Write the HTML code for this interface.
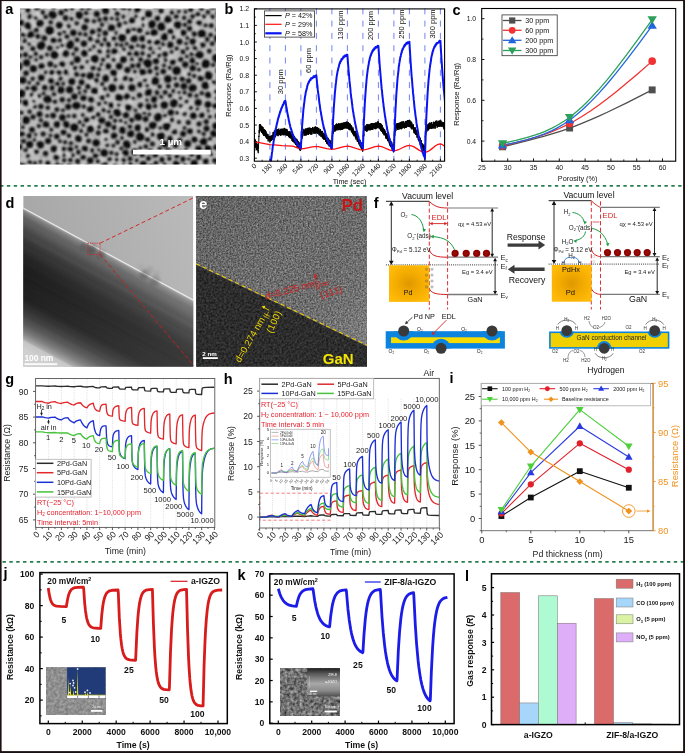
<!DOCTYPE html>
<html><head><meta charset="utf-8"><style>
html,body{margin:0;padding:0;background:#fff;width:685px;height:753px;overflow:hidden}
svg{display:block;will-change:transform}
text{font-family:"Liberation Sans", sans-serif}
</style></head><body>
<svg width="685" height="753" viewBox="0 0 685 753" font-family='"Liberation Sans", sans-serif'><defs><clipPath id="clipA"><rect x="20" y="8.5" width="196" height="156.1"/></clipPath><filter id="blurA" x="-5%" y="-5%" width="110%" height="110%"><feGaussianBlur stdDeviation="0.95"/></filter><clipPath id="clipB"><rect x="254.4" y="8.9" width="190.20000000000002" height="152.29999999999998"/></clipPath><clipPath id="clipD"><rect x="23.2" y="196.0" width="170.10000000000002" height="170.7"/></clipPath><linearGradient id="gradD" gradientUnits="userSpaceOnUse" x1="108.3" y1="253.8" x2="36.98" y2="385.75"><stop offset="0" stop-color="#e2e2e2"/><stop offset="0.01" stop-color="#9a9a9a"/><stop offset="0.02" stop-color="#828282"/><stop offset="0.05" stop-color="#666666"/><stop offset="0.11" stop-color="#4c4c4c"/><stop offset="0.19" stop-color="#353535"/><stop offset="0.27" stop-color="#262626"/><stop offset="0.33" stop-color="#1e1e1e"/><stop offset="0.43" stop-color="#1b1b1b"/><stop offset="0.52" stop-color="#202020"/><stop offset="0.57" stop-color="#2c2c2c"/><stop offset="0.62" stop-color="#3e3e3e"/><stop offset="0.67" stop-color="#555555"/><stop offset="0.71" stop-color="#707070"/><stop offset="0.74" stop-color="#8c8c8c"/><stop offset="0.77" stop-color="#aaaaaa"/><stop offset="0.78" stop-color="#c4c4c4"/><stop offset="0.83" stop-color="#d0d0d0"/><stop offset="1" stop-color="#d6d6d6"/></linearGradient><linearGradient id="gradD0" gradientUnits="userSpaceOnUse" x1="23" y1="250" x2="193" y2="196"><stop offset="0" stop-color="#a6a6a6"/><stop offset="1" stop-color="#bababa"/></linearGradient><filter id="blurD" x="-10%" y="-10%" width="120%" height="120%"><feGaussianBlur stdDeviation="0.8"/></filter><filter id="blurD2" x="-50%" y="-50%" width="200%" height="200%"><feGaussianBlur stdDeviation="1.6"/></filter><linearGradient id="gradD2" gradientUnits="userSpaceOnUse" x1="23" y1="0" x2="193" y2="0"><stop offset="0" stop-color="#fff" stop-opacity="0"/><stop offset="1" stop-color="#fff" stop-opacity="0.13"/></linearGradient><clipPath id="clipE"><rect x="196.1" y="196.1" width="170.9" height="170.6"/></clipPath><filter id="noiseE1" x="0" y="0" width="100%" height="100%" color-interpolation-filters="sRGB"><feTurbulence type="fractalNoise" baseFrequency="0.6" numOctaves="2" seed="4" result="n"/><feColorMatrix in="n" type="matrix" values="0.55 0 0 0 0.155  0.55 0 0 0 0.155  0.55 0 0 0 0.155  0 0 0 0 1"/></filter><filter id="noiseE2" x="0" y="0" width="100%" height="100%" color-interpolation-filters="sRGB"><feTurbulence type="fractalNoise" baseFrequency="0.45" numOctaves="2" seed="9" result="n"/><feColorMatrix in="n" type="matrix" values="0.26 0 0 0 0.045  0.26 0 0 0 0.045  0.26 0 0 0 0.045  0 0 0 0 1"/></filter><clipPath id="clipE2"><path d="M196.1 264.7 L367 346.32 L367 366.7 L196.1 366.7 Z"/></clipPath><linearGradient id="gradE" gradientUnits="userSpaceOnUse" x1="200" y1="200" x2="367" y2="330"><stop offset="0" stop-color="#000" stop-opacity="0.10"/><stop offset="0.5" stop-color="#000" stop-opacity="0"/><stop offset="1" stop-color="#fff" stop-opacity="0.10"/></linearGradient><radialGradient id="pdgL" cx="0.5" cy="0.5" r="0.6"><stop offset="0" stop-color="#df9800"/><stop offset="0.55" stop-color="#f5ad00"/><stop offset="1" stop-color="#ffbb0a"/></radialGradient><radialGradient id="pdgR" cx="0.5" cy="0.5" r="0.6"><stop offset="0" stop-color="#df9800"/><stop offset="0.55" stop-color="#f5ad00"/><stop offset="1" stop-color="#ffbb0a"/></radialGradient><clipPath id="clipFL"><rect x="391" y="337.3" width="108.9" height="5.8"/></clipPath><clipPath id="clipFL2"><rect x="385.7" y="331.2" width="119.2" height="17.4"/></clipPath><clipPath id="clipFR2"><rect x="549.1" y="331.5" width="120.3" height="17.2"/></clipPath><clipPath id="clipG"><rect x="35.6" y="378.5" width="179.20000000000002" height="148.89999999999998"/></clipPath><clipPath id="clipH"><rect x="259.7" y="378.4" width="179.60000000000002" height="149.60000000000002"/></clipPath><clipPath id="clipHI"><rect x="270.5" y="429.2" width="59.69999999999999" height="48.0"/></clipPath><filter id="noiseJ" x="0" y="0" width="100%" height="100%" color-interpolation-filters="sRGB"><feTurbulence type="fractalNoise" baseFrequency="0.35" numOctaves="2" seed="2"/><feColorMatrix type="matrix" values="0.3 0 0 0 0.41  0.3 0 0 0 0.41  0.3 0 0 0 0.41  0 0 0 0 1"/></filter><filter id="noiseK" x="0" y="0" width="100%" height="100%" color-interpolation-filters="sRGB"><feTurbulence type="fractalNoise" baseFrequency="0.32" numOctaves="2" seed="6"/><feColorMatrix type="matrix" values="0.75 0 0 0 0.07  0.75 0 0 0 0.07  0.75 0 0 0 0.07  0 0 0 0 1"/></filter><linearGradient id="gradK" x1="0" y1="0" x2="0" y2="1"><stop offset="0" stop-color="#1e1e1e"/><stop offset="0.2" stop-color="#5a5a5a"/><stop offset="0.55" stop-color="#a8a8a8"/><stop offset="0.8" stop-color="#8a8a8a"/><stop offset="1" stop-color="#505050"/></linearGradient></defs><rect width="685" height="753" fill="#fff"/><g clip-path="url(#clipA)">
<rect x="20" y="8.5" width="196" height="156.1" fill="#bcbcbc" stroke="none" stroke-width="1" />
<g filter="url(#blurA)">
<g fill="#d2d2d2" opacity="0.8">
<circle cx="108.38" cy="96.24" r="3.07"/>
<circle cx="111.06" cy="87.82" r="2.5"/>
<circle cx="54.3" cy="88.48" r="2.57"/>
<circle cx="177.18" cy="20.76" r="2.02"/>
<circle cx="35.32" cy="136.74" r="2.68"/>
<circle cx="25.46" cy="164.71" r="3.14"/>
<circle cx="149.09" cy="105.28" r="1.77"/>
<circle cx="20.03" cy="91.15" r="1.6"/>
<circle cx="55.42" cy="44.72" r="1.55"/>
<circle cx="110.71" cy="76.91" r="2.93"/>
<circle cx="121.86" cy="109.29" r="2.35"/>
<circle cx="150.81" cy="79.63" r="1.97"/>
<circle cx="218.53" cy="166.9" r="2.93"/>
<circle cx="159.98" cy="56.61" r="1.89"/>
<circle cx="75.39" cy="16.88" r="2.8"/>
<circle cx="97.88" cy="142.73" r="2.16"/>
<circle cx="210.52" cy="142.85" r="1.5"/>
<circle cx="59.36" cy="153.06" r="2.3"/>
<circle cx="215.03" cy="69.92" r="1.62"/>
<circle cx="144.15" cy="131.7" r="1.96"/>
<circle cx="34.6" cy="59.41" r="3.14"/>
<circle cx="170.12" cy="24.63" r="1.92"/>
<circle cx="37.41" cy="15.21" r="2.85"/>
<circle cx="52.89" cy="96.16" r="2.26"/>
<circle cx="55.52" cy="124.14" r="1.72"/>
<circle cx="147.03" cy="24.39" r="2.22"/>
<circle cx="60" cy="49.23" r="3.15"/>
<circle cx="179.29" cy="54.8" r="3"/>
<circle cx="59.56" cy="69.41" r="2.95"/>
<circle cx="146.65" cy="21.76" r="3.18"/>
<circle cx="60.08" cy="47.37" r="2.81"/>
<circle cx="83.45" cy="53.53" r="1.62"/>
<circle cx="35.2" cy="99.96" r="1.91"/>
<circle cx="138.46" cy="65.75" r="2.27"/>
<circle cx="210.75" cy="83.91" r="2.48"/>
<circle cx="192.04" cy="35.14" r="1.76"/>
<circle cx="200.5" cy="138.07" r="1.92"/>
<circle cx="55.34" cy="125.36" r="3.1"/>
<circle cx="56.71" cy="159.52" r="3"/>
<circle cx="138.91" cy="73.82" r="1.68"/>
<circle cx="24.82" cy="161.55" r="1.91"/>
<circle cx="159.33" cy="47.16" r="2.9"/>
<circle cx="137.49" cy="53.07" r="1.8"/>
<circle cx="162.51" cy="16.65" r="1.89"/>
<circle cx="129.99" cy="143.67" r="2.54"/>
<circle cx="73.6" cy="154.2" r="1.85"/>
<circle cx="20.35" cy="49.14" r="2.26"/>
<circle cx="29.21" cy="34.07" r="2.13"/>
<circle cx="132.58" cy="26.83" r="2.12"/>
<circle cx="196.97" cy="164.44" r="2.62"/>
<circle cx="156.63" cy="100.24" r="1.74"/>
<circle cx="24.09" cy="8.4" r="3.05"/>
<circle cx="158.6" cy="161.57" r="1.54"/>
<circle cx="145.51" cy="83.67" r="2.74"/>
<circle cx="81.42" cy="167.5" r="1.63"/>
<circle cx="127.31" cy="124.97" r="3.03"/>
<circle cx="165.89" cy="119.57" r="2.85"/>
<circle cx="201.83" cy="62.53" r="2.66"/>
<circle cx="198.97" cy="146.71" r="2.21"/>
<circle cx="176.69" cy="145.47" r="2.47"/>
<circle cx="143.24" cy="67.48" r="2.49"/>
<circle cx="139.99" cy="18.5" r="2.59"/>
<circle cx="217.65" cy="148.11" r="2.74"/>
<circle cx="95.46" cy="124.65" r="2.49"/>
<circle cx="105.99" cy="141.4" r="1.64"/>
<circle cx="168.54" cy="10.33" r="2.52"/>
<circle cx="114.15" cy="42.82" r="2.69"/>
<circle cx="117.44" cy="105.11" r="3.06"/>
<circle cx="68.68" cy="7.33" r="2.01"/>
<circle cx="153.98" cy="38.34" r="1.79"/>
<circle cx="199.96" cy="112.48" r="2.25"/>
<circle cx="197.13" cy="58.5" r="2.63"/>
<circle cx="57.1" cy="75.35" r="2.87"/>
<circle cx="201.67" cy="148.19" r="2.15"/>
<circle cx="134.79" cy="56.8" r="1.73"/>
<circle cx="117.29" cy="141.19" r="2.94"/>
<circle cx="160.67" cy="159.5" r="1.97"/>
<circle cx="51.16" cy="78.55" r="1.97"/>
<circle cx="60.24" cy="72.61" r="2.56"/>
<circle cx="116.76" cy="56.62" r="2.93"/>
<circle cx="215.37" cy="78.85" r="1.63"/>
<circle cx="23.36" cy="146.99" r="1.57"/>
<circle cx="160.14" cy="97.99" r="2.03"/>
<circle cx="176.89" cy="8.6" r="1.73"/>
<circle cx="108.88" cy="9.51" r="2.91"/>
<circle cx="64.96" cy="28.34" r="1.58"/>
<circle cx="144.09" cy="77.87" r="2.57"/>
<circle cx="149.32" cy="136.38" r="3.13"/>
<circle cx="155.27" cy="37.81" r="2.31"/>
<circle cx="53.09" cy="7.25" r="2.3"/>
<circle cx="161.26" cy="34.53" r="1.96"/>
<circle cx="86.84" cy="118.53" r="2.38"/>
<circle cx="141.12" cy="128.08" r="2.17"/>
<circle cx="176.97" cy="152.4" r="1.65"/>
<circle cx="205.39" cy="122.6" r="1.72"/>
<circle cx="108.61" cy="106.9" r="3.05"/>
<circle cx="93.11" cy="97.7" r="2.99"/>
<circle cx="177.95" cy="158.56" r="2.29"/>
<circle cx="148.57" cy="38.71" r="2.73"/>
<circle cx="182.31" cy="109.51" r="2.72"/>
<circle cx="60.09" cy="151.39" r="3.17"/>
<circle cx="214.43" cy="92.54" r="2.84"/>
<circle cx="81.72" cy="153.01" r="2.95"/>
<circle cx="87.4" cy="18.92" r="2.25"/>
<circle cx="128.16" cy="130.03" r="2.33"/>
<circle cx="22.74" cy="136.66" r="1.61"/>
<circle cx="178.57" cy="33.53" r="2.07"/>
<circle cx="176.16" cy="28.28" r="1.75"/>
<circle cx="121.34" cy="122.79" r="2.93"/>
<circle cx="156.25" cy="158.81" r="2.34"/>
<circle cx="208.73" cy="19.44" r="1.88"/>
<circle cx="123.39" cy="52.54" r="2.74"/>
<circle cx="146.05" cy="90.24" r="2.93"/>
<circle cx="130.11" cy="56.03" r="2.15"/>
<circle cx="187.74" cy="151.48" r="1.85"/>
<circle cx="188.86" cy="162.48" r="2.39"/>
<circle cx="132.74" cy="38.08" r="2.41"/>
<circle cx="118.64" cy="103.61" r="1.55"/>
<circle cx="212.82" cy="89.15" r="2.18"/>
<circle cx="178.82" cy="96.74" r="2.33"/>
<circle cx="156.58" cy="16.18" r="2.42"/>
<circle cx="100.58" cy="160.61" r="3.07"/>
<circle cx="71.38" cy="82.2" r="1.72"/>
<circle cx="104.6" cy="137.73" r="3.03"/>
<circle cx="113.26" cy="56.92" r="1.83"/>
<circle cx="141.81" cy="155.49" r="1.72"/>
<circle cx="174.42" cy="9.19" r="1.83"/>
<circle cx="62.91" cy="116.87" r="2.05"/>
<circle cx="88.78" cy="105.96" r="1.68"/>
<circle cx="164.64" cy="25.4" r="2.37"/>
<circle cx="67.61" cy="37.55" r="2.4"/>
<circle cx="105.23" cy="66.41" r="2.2"/>
<circle cx="123.93" cy="31.39" r="1.85"/>
<circle cx="144.53" cy="109" r="2.4"/>
<circle cx="188.95" cy="104.66" r="2.96"/>
<circle cx="64" cy="125.58" r="2.88"/>
<circle cx="199.34" cy="56.7" r="2.04"/>
<circle cx="203.4" cy="40.86" r="3.2"/>
<circle cx="196.28" cy="27.21" r="1.91"/>
<circle cx="163.77" cy="47.56" r="1.66"/>
<circle cx="185.1" cy="73.85" r="2.84"/>
<circle cx="42.45" cy="70.79" r="2.66"/>
<circle cx="20.59" cy="38.07" r="2.66"/>
<circle cx="201.1" cy="162.47" r="1.7"/>
<circle cx="119.15" cy="128.4" r="2.35"/>
<circle cx="155.51" cy="36.14" r="1.62"/>
<circle cx="38.45" cy="11.57" r="2.44"/>
<circle cx="120.99" cy="97.69" r="1.75"/>
<circle cx="54.28" cy="38.55" r="2.93"/>
<circle cx="217.04" cy="155.75" r="1.66"/>
<circle cx="29.51" cy="159.74" r="2.29"/>
<circle cx="171.47" cy="58.48" r="2.29"/>
<circle cx="121.09" cy="75.22" r="2.52"/>
<circle cx="19.68" cy="119.14" r="2.94"/>
<circle cx="53.62" cy="79.09" r="2.76"/>
<circle cx="98.87" cy="37.13" r="1.78"/>
<circle cx="120.54" cy="8" r="3.02"/>
<circle cx="178.94" cy="119.73" r="2.96"/>
<circle cx="144.14" cy="71.07" r="2.52"/>
<circle cx="118.87" cy="164.79" r="2.87"/>
<circle cx="69.17" cy="153.22" r="2.77"/>
<circle cx="174.15" cy="137.55" r="2.19"/>
<circle cx="198.1" cy="148.12" r="2.68"/>
<circle cx="171.99" cy="129.54" r="2.19"/>
<circle cx="162.97" cy="16.94" r="2.08"/>
<circle cx="111.71" cy="7.22" r="2.1"/>
<circle cx="146.02" cy="106.65" r="1.89"/>
<circle cx="207.82" cy="113.47" r="2.07"/>
<circle cx="150.27" cy="97.83" r="2.41"/>
<circle cx="95.7" cy="167.58" r="2.59"/>
<circle cx="158.65" cy="128.98" r="3.17"/>
<circle cx="21.61" cy="105.26" r="2.76"/>
<circle cx="68.84" cy="70.59" r="1.59"/>
<circle cx="56.48" cy="66.4" r="1.67"/>
<circle cx="67.68" cy="152.3" r="2.44"/>
<circle cx="119.58" cy="162.27" r="2.47"/>
<circle cx="218.01" cy="108.92" r="2.88"/>
<circle cx="32.39" cy="102.36" r="2.79"/>
<circle cx="26.11" cy="156.28" r="1.77"/>
<circle cx="112.3" cy="32.91" r="2.34"/>
<circle cx="140.46" cy="14.99" r="3.11"/>
<circle cx="101.98" cy="90.89" r="2.52"/>
<circle cx="90.85" cy="51.82" r="2.61"/>
<circle cx="130.25" cy="51.46" r="2.72"/>
<circle cx="76.8" cy="7.77" r="1.92"/>
<circle cx="25.64" cy="30.88" r="2.78"/>
<circle cx="95.77" cy="150.99" r="2.77"/>
<circle cx="27.13" cy="165.78" r="3.11"/>
<circle cx="31.85" cy="152.29" r="2.23"/>
<circle cx="113.48" cy="163.25" r="1.91"/>
<circle cx="122.72" cy="157.43" r="2.73"/>
<circle cx="111.61" cy="164.17" r="2.89"/>
<circle cx="138.93" cy="24.16" r="2.56"/>
<circle cx="109.05" cy="38.51" r="1.59"/>
<circle cx="123.68" cy="25.65" r="2.25"/>
<circle cx="151.91" cy="79.35" r="1.95"/>
<circle cx="134.61" cy="73.51" r="2.82"/>
<circle cx="124.21" cy="167.22" r="3.12"/>
<circle cx="165.33" cy="44.15" r="1.69"/>
<circle cx="197.33" cy="132.64" r="2.56"/>
<circle cx="89.56" cy="49.51" r="2.66"/>
<circle cx="131.11" cy="101.41" r="2.58"/>
<circle cx="169.18" cy="36.27" r="1.92"/>
<circle cx="214.9" cy="153.94" r="2.99"/>
<circle cx="24.98" cy="15.35" r="1.96"/>
<circle cx="102.89" cy="106.54" r="1.67"/>
<circle cx="126.41" cy="17.25" r="1.65"/>
<circle cx="153.61" cy="94.76" r="2.57"/>
<circle cx="92.38" cy="83.07" r="1.86"/>
<circle cx="86.43" cy="126.24" r="2.93"/>
<circle cx="32.02" cy="24.92" r="2.88"/>
<circle cx="142.99" cy="130.11" r="1.86"/>
<circle cx="102.72" cy="47.33" r="2.88"/>
<circle cx="91.53" cy="111.46" r="3.18"/>
<circle cx="82.73" cy="94.43" r="2.77"/>
<circle cx="203.01" cy="74.82" r="2.13"/>
<circle cx="36.6" cy="147.37" r="1.63"/>
<circle cx="33.77" cy="96.96" r="2.32"/>
<circle cx="155.44" cy="53.95" r="2.82"/>
<circle cx="32.37" cy="40.07" r="2.63"/>
<circle cx="33.51" cy="54.75" r="2.73"/>
<circle cx="157.18" cy="51.36" r="1.74"/>
<circle cx="89.28" cy="123.18" r="2.12"/>
<circle cx="40.71" cy="120.47" r="2.47"/>
<circle cx="202.55" cy="157.86" r="3.05"/>
<circle cx="105.47" cy="135.67" r="2.02"/>
<circle cx="81.16" cy="70.27" r="3.09"/>
<circle cx="197.73" cy="45.75" r="2.11"/>
<circle cx="90.84" cy="64.39" r="2.17"/>
<circle cx="95.29" cy="37.1" r="2.46"/>
<circle cx="178.01" cy="93.13" r="2.92"/>
<circle cx="130.68" cy="34.13" r="2.79"/>
<circle cx="194.94" cy="51.12" r="1.54"/>
<circle cx="121.16" cy="93.71" r="2.46"/>
<circle cx="212.22" cy="111.06" r="2.87"/>
<circle cx="29.94" cy="94.14" r="2.84"/>
<circle cx="33.98" cy="18.74" r="2.75"/>
<circle cx="198.61" cy="19.23" r="2.58"/>
<circle cx="46.06" cy="126.39" r="2.6"/>
<circle cx="66.58" cy="41.23" r="2.8"/>
</g>
<g fill="#6c6c6c">
<ellipse cx="25.91" cy="15.79" rx="1.39" ry="0.45" transform="rotate(153.77 25.91 15.79)"/>
<ellipse cx="41.88" cy="35.4" rx="1.31" ry="0.45" transform="rotate(145.52 41.88 35.4)"/>
<ellipse cx="68.93" cy="75.49" rx="1.99" ry="0.45" transform="rotate(161.02 68.93 75.49)"/>
<ellipse cx="134.07" cy="108.4" rx="1.57" ry="0.45" transform="rotate(99.9 134.07 108.4)"/>
<circle cx="74.02" cy="24.97" r="0.58"/>
<ellipse cx="99.21" cy="155.79" rx="1.48" ry="0.45" transform="rotate(85.94 99.21 155.79)"/>
<ellipse cx="93.6" cy="50.64" rx="1.54" ry="0.45" transform="rotate(83.67 93.6 50.64)"/>
<ellipse cx="39.63" cy="71.08" rx="1.15" ry="0.45" transform="rotate(159.85 39.63 71.08)"/>
<circle cx="170.46" cy="107.88" r="0.57"/>
<circle cx="210.91" cy="53.93" r="0.63"/>
<circle cx="213.88" cy="110.52" r="0.69"/>
<ellipse cx="171.36" cy="155.07" rx="1.93" ry="0.45" transform="rotate(4.08 171.36 155.07)"/>
<circle cx="195.82" cy="144.58" r="0.82"/>
<circle cx="122.18" cy="83.15" r="0.81"/>
<circle cx="48.09" cy="69.96" r="0.49"/>
<ellipse cx="156.68" cy="150.49" rx="1.88" ry="0.45" transform="rotate(3.19 156.68 150.49)"/>
<ellipse cx="160.64" cy="65.5" rx="1.13" ry="0.45" transform="rotate(22.5 160.64 65.5)"/>
<ellipse cx="174.32" cy="94.06" rx="1.65" ry="0.45" transform="rotate(2.88 174.32 94.06)"/>
<ellipse cx="213.97" cy="141.34" rx="1.19" ry="0.45" transform="rotate(162.79 213.97 141.34)"/>
<ellipse cx="75.21" cy="20.45" rx="1.43" ry="0.45" transform="rotate(146.02 75.21 20.45)"/>
<circle cx="74.19" cy="142.25" r="0.52"/>
<circle cx="161.52" cy="109.78" r="0.75"/>
<circle cx="200.71" cy="135.29" r="0.6"/>
<circle cx="125.35" cy="163.55" r="0.57"/>
<circle cx="23.76" cy="13.89" r="0.75"/>
<circle cx="31.67" cy="41.03" r="0.73"/>
<ellipse cx="108.17" cy="23.83" rx="1.88" ry="0.45" transform="rotate(26.46 108.17 23.83)"/>
<circle cx="26.98" cy="139.18" r="0.79"/>
<circle cx="214.57" cy="29.97" r="0.76"/>
<circle cx="70.02" cy="35.27" r="0.5"/>
<circle cx="145.51" cy="102.12" r="0.7"/>
<ellipse cx="136" cy="90.23" rx="1.58" ry="0.45" transform="rotate(22.79 136 90.23)"/>
<circle cx="202.07" cy="26.56" r="0.77"/>
<ellipse cx="48.38" cy="91.27" rx="1.75" ry="0.45" transform="rotate(141.69 48.38 91.27)"/>
<circle cx="68.46" cy="67.28" r="0.59"/>
<circle cx="28.29" cy="50.71" r="0.57"/>
<ellipse cx="98.61" cy="97.33" rx="1.54" ry="0.45" transform="rotate(65.39 98.61 97.33)"/>
<ellipse cx="159.65" cy="33.26" rx="1.89" ry="0.45" transform="rotate(93 159.65 33.26)"/>
<circle cx="99.36" cy="137.81" r="0.62"/>
<circle cx="88.39" cy="56" r="0.73"/>
<circle cx="155.02" cy="48.66" r="0.78"/>
<circle cx="127.39" cy="130.46" r="0.51"/>
<ellipse cx="87.38" cy="47.07" rx="1.19" ry="0.45" transform="rotate(65.25 87.38 47.07)"/>
<circle cx="214.66" cy="97.96" r="0.63"/>
<circle cx="175.85" cy="118.86" r="0.45"/>
<ellipse cx="130.75" cy="26.57" rx="1.6" ry="0.45" transform="rotate(59.64 130.75 26.57)"/>
<circle cx="213.37" cy="49.91" r="0.69"/>
<circle cx="163.34" cy="119.54" r="0.72"/>
<circle cx="176.08" cy="29.47" r="0.53"/>
<ellipse cx="79.05" cy="30.23" rx="1.48" ry="0.45" transform="rotate(66.53 79.05 30.23)"/>
<circle cx="82.56" cy="11.07" r="0.7"/>
<circle cx="120.94" cy="15.22" r="0.81"/>
<ellipse cx="160.83" cy="78.96" rx="1.3" ry="0.45" transform="rotate(21.47 160.83 78.96)"/>
<ellipse cx="31.69" cy="30" rx="1.66" ry="0.45" transform="rotate(70.23 31.69 30)"/>
<ellipse cx="137.58" cy="98.99" rx="1.04" ry="0.45" transform="rotate(19.07 137.58 98.99)"/>
<ellipse cx="215.8" cy="16.36" rx="1.51" ry="0.45" transform="rotate(148.41 215.8 16.36)"/>
<circle cx="186.99" cy="135.6" r="0.46"/>
<circle cx="200.54" cy="48.44" r="0.62"/>
<circle cx="129.13" cy="12.9" r="0.83"/>
<ellipse cx="65.13" cy="80.88" rx="1.51" ry="0.45" transform="rotate(172.49 65.13 80.88)"/>
<circle cx="20.01" cy="12.1" r="0.57"/>
<ellipse cx="40.95" cy="93.65" rx="1.92" ry="0.45" transform="rotate(125.31 40.95 93.65)"/>
<circle cx="177.47" cy="55.42" r="0.46"/>
<ellipse cx="73.87" cy="36.95" rx="1.27" ry="0.45" transform="rotate(92.03 73.87 36.95)"/>
<ellipse cx="188.58" cy="16.75" rx="1.82" ry="0.45" transform="rotate(88.7 188.58 16.75)"/>
<circle cx="156.26" cy="54.24" r="0.46"/>
<ellipse cx="103.62" cy="114.75" rx="1.51" ry="0.45" transform="rotate(125.63 103.62 114.75)"/>
<ellipse cx="171.04" cy="8.17" rx="1.74" ry="0.45" transform="rotate(80.82 171.04 8.17)"/>
<circle cx="164.27" cy="111.58" r="0.81"/>
<circle cx="73.21" cy="162.44" r="0.45"/>
<ellipse cx="201.73" cy="121.4" rx="1.37" ry="0.45" transform="rotate(150.33 201.73 121.4)"/>
<circle cx="129.81" cy="113" r="0.5"/>
<circle cx="32.14" cy="60.86" r="0.74"/>
<circle cx="27.74" cy="67.36" r="0.8"/>
<circle cx="83.68" cy="18.26" r="0.83"/>
<ellipse cx="79.57" cy="70.99" rx="1.66" ry="0.45" transform="rotate(134.62 79.57 70.99)"/>
<circle cx="92.55" cy="71.48" r="0.68"/>
<ellipse cx="104.16" cy="69.78" rx="1.84" ry="0.45" transform="rotate(10.28 104.16 69.78)"/>
<circle cx="64.4" cy="94.76" r="0.79"/>
<ellipse cx="90.31" cy="13.43" rx="1.78" ry="0.45" transform="rotate(128.62 90.31 13.43)"/>
<ellipse cx="129.66" cy="62.72" rx="1.45" ry="0.45" transform="rotate(133.07 129.66 62.72)"/>
<circle cx="89.62" cy="28.09" r="0.67"/>
<circle cx="92.55" cy="135.03" r="0.81"/>
<circle cx="51.11" cy="112.12" r="0.68"/>
<ellipse cx="47.54" cy="133.67" rx="1.83" ry="0.45" transform="rotate(142.77 47.54 133.67)"/>
<circle cx="138.47" cy="25.63" r="0.71"/>
<ellipse cx="74.93" cy="144.09" rx="1.66" ry="0.45" transform="rotate(150.56 74.93 144.09)"/>
<ellipse cx="194.49" cy="98.07" rx="1.56" ry="0.45" transform="rotate(26.5 194.49 98.07)"/>
<ellipse cx="71.58" cy="13.43" rx="1.62" ry="0.45" transform="rotate(56.87 71.58 13.43)"/>
<circle cx="134.38" cy="61.34" r="0.66"/>
<ellipse cx="188.31" cy="137.37" rx="1.73" ry="0.45" transform="rotate(3.45 188.31 137.37)"/>
<circle cx="40.13" cy="156.58" r="0.56"/>
<circle cx="27.59" cy="47.15" r="0.76"/>
<circle cx="191.16" cy="135.46" r="0.68"/>
<circle cx="206.92" cy="42.83" r="0.78"/>
<circle cx="134.06" cy="92.99" r="0.68"/>
<circle cx="120.23" cy="53.38" r="0.66"/>
<ellipse cx="34.12" cy="41.03" rx="1.34" ry="0.45" transform="rotate(98.36 34.12 41.03)"/>
<ellipse cx="41.79" cy="157.13" rx="1.59" ry="0.45" transform="rotate(121.07 41.79 157.13)"/>
<circle cx="102.77" cy="106.88" r="0.56"/>
<ellipse cx="181.01" cy="73.59" rx="1.3" ry="0.45" transform="rotate(151.65 181.01 73.59)"/>
<circle cx="57.85" cy="104.02" r="0.64"/>
<ellipse cx="103.43" cy="125.58" rx="1.58" ry="0.45" transform="rotate(69.49 103.43 125.58)"/>
<circle cx="189.2" cy="139.35" r="0.5"/>
<ellipse cx="22.1" cy="59.17" rx="1.26" ry="0.45" transform="rotate(60.5 22.1 59.17)"/>
<ellipse cx="212.58" cy="111.81" rx="1.67" ry="0.45" transform="rotate(46.92 212.58 111.81)"/>
<circle cx="134.02" cy="12.72" r="0.69"/>
<circle cx="53.8" cy="25.59" r="0.56"/>
<circle cx="94.95" cy="111.77" r="0.51"/>
<circle cx="136.95" cy="99.4" r="0.67"/>
<circle cx="181.46" cy="19.92" r="0.67"/>
<circle cx="67.73" cy="145.27" r="0.74"/>
<circle cx="42.67" cy="116.47" r="0.54"/>
<circle cx="194.31" cy="132.96" r="0.59"/>
<circle cx="170.83" cy="132.28" r="0.68"/>
<circle cx="201.94" cy="109.11" r="0.53"/>
<ellipse cx="91.23" cy="104.1" rx="1.31" ry="0.45" transform="rotate(37.7 91.23 104.1)"/>
<circle cx="74.43" cy="77.52" r="0.79"/>
<ellipse cx="78.13" cy="53.75" rx="1.13" ry="0.45" transform="rotate(29.7 78.13 53.75)"/>
<ellipse cx="96.8" cy="84.57" rx="1.19" ry="0.45" transform="rotate(43.62 96.8 84.57)"/>
<ellipse cx="46.74" cy="156.88" rx="1.98" ry="0.45" transform="rotate(96.13 46.74 156.88)"/>
<ellipse cx="81.98" cy="37.16" rx="1.16" ry="0.45" transform="rotate(129.46 81.98 37.16)"/>
<ellipse cx="145.55" cy="123.96" rx="1.63" ry="0.45" transform="rotate(48.39 145.55 123.96)"/>
<ellipse cx="105.63" cy="22.43" rx="1.18" ry="0.45" transform="rotate(169.17 105.63 22.43)"/>
<ellipse cx="151.85" cy="156.83" rx="1.51" ry="0.45" transform="rotate(42.74 151.85 156.83)"/>
<circle cx="55.14" cy="90.94" r="0.82"/>
<ellipse cx="214.19" cy="100.87" rx="1.28" ry="0.45" transform="rotate(123.01 214.19 100.87)"/>
<circle cx="119.86" cy="165.61" r="0.76"/>
<circle cx="197.94" cy="82.27" r="0.59"/>
<ellipse cx="96.1" cy="147.48" rx="1.06" ry="0.45" transform="rotate(158.23 96.1 147.48)"/>
<ellipse cx="164.48" cy="83.09" rx="1.72" ry="0.45" transform="rotate(134.62 164.48 83.09)"/>
<circle cx="61.9" cy="104.2" r="0.56"/>
<ellipse cx="155.61" cy="49.69" rx="1.34" ry="0.45" transform="rotate(13.7 155.61 49.69)"/>
<ellipse cx="141.41" cy="109.27" rx="1.15" ry="0.45" transform="rotate(23.92 141.41 109.27)"/>
<ellipse cx="72.39" cy="39.83" rx="1.83" ry="0.45" transform="rotate(118 72.39 39.83)"/>
<circle cx="156.13" cy="144.65" r="0.64"/>
<circle cx="172.86" cy="148.67" r="0.55"/>
<circle cx="213.59" cy="29.55" r="0.46"/>
<circle cx="172.84" cy="115.96" r="0.7"/>
<circle cx="41.37" cy="62.02" r="0.5"/>
<ellipse cx="163.67" cy="58.01" rx="1.87" ry="0.45" transform="rotate(4.49 163.67 58.01)"/>
<circle cx="92.38" cy="134.94" r="0.57"/>
<ellipse cx="96.32" cy="101.97" rx="1.25" ry="0.45" transform="rotate(74.3 96.32 101.97)"/>
<ellipse cx="211.12" cy="9.85" rx="1.86" ry="0.45" transform="rotate(49.58 211.12 9.85)"/>
<circle cx="214.52" cy="97.67" r="0.55"/>
<ellipse cx="64.44" cy="104.75" rx="1.94" ry="0.45" transform="rotate(49.46 64.44 104.75)"/>
<circle cx="168.63" cy="100.23" r="0.51"/>
<circle cx="95.1" cy="137.35" r="0.76"/>
<circle cx="36.26" cy="77.99" r="0.64"/>
<ellipse cx="117.55" cy="30.63" rx="1.47" ry="0.45" transform="rotate(28.54 117.55 30.63)"/>
<ellipse cx="201.06" cy="48.64" rx="1.31" ry="0.45" transform="rotate(137.24 201.06 48.64)"/>
<circle cx="92.95" cy="17.19" r="0.45"/>
<ellipse cx="147.99" cy="30.38" rx="1.16" ry="0.45" transform="rotate(140.7 147.99 30.38)"/>
<circle cx="86.04" cy="116.25" r="0.57"/>
<ellipse cx="142.35" cy="50.32" rx="1.56" ry="0.45" transform="rotate(135.5 142.35 50.32)"/>
<circle cx="20.27" cy="154.17" r="0.55"/>
<circle cx="53.56" cy="48.82" r="0.7"/>
<ellipse cx="54.47" cy="45.51" rx="1.83" ry="0.45" transform="rotate(92.2 54.47 45.51)"/>
<circle cx="57.04" cy="79.9" r="0.71"/>
<circle cx="20.8" cy="44.54" r="0.83"/>
<circle cx="134.51" cy="113.68" r="0.84"/>
<circle cx="30.2" cy="153.42" r="0.74"/>
<ellipse cx="21.26" cy="155.72" rx="1.16" ry="0.45" transform="rotate(146.42 21.26 155.72)"/>
<circle cx="157.05" cy="22.02" r="0.68"/>
<ellipse cx="130.67" cy="111.39" rx="1.64" ry="0.45" transform="rotate(12.97 130.67 111.39)"/>
<circle cx="139.02" cy="158.31" r="0.53"/>
<circle cx="172.55" cy="66.82" r="0.56"/>
<ellipse cx="175.3" cy="9.57" rx="1.27" ry="0.45" transform="rotate(107.14 175.3 9.57)"/>
<circle cx="180.35" cy="54.97" r="0.62"/>
<ellipse cx="185.14" cy="69.13" rx="1.39" ry="0.45" transform="rotate(109.61 185.14 69.13)"/>
<ellipse cx="136.26" cy="76.86" rx="1.9" ry="0.45" transform="rotate(130.79 136.26 76.86)"/>
<circle cx="69.53" cy="23.34" r="0.62"/>
<ellipse cx="40.66" cy="73.32" rx="1.78" ry="0.45" transform="rotate(67.01 40.66 73.32)"/>
<circle cx="105.96" cy="23.18" r="0.55"/>
<circle cx="200.18" cy="89.6" r="0.69"/>
<circle cx="61.08" cy="58.11" r="0.72"/>
<circle cx="97.71" cy="88.04" r="0.55"/>
<circle cx="34.79" cy="83.97" r="0.7"/>
<circle cx="124.3" cy="46.21" r="0.82"/>
<ellipse cx="41.38" cy="36.18" rx="1.1" ry="0.45" transform="rotate(106.31 41.38 36.18)"/>
<ellipse cx="120.01" cy="52.58" rx="1.48" ry="0.45" transform="rotate(35.16 120.01 52.58)"/>
<ellipse cx="102.18" cy="106.6" rx="1.3" ry="0.45" transform="rotate(70.43 102.18 106.6)"/>
<ellipse cx="137.51" cy="58.55" rx="1.11" ry="0.45" transform="rotate(101.09 137.51 58.55)"/>
<ellipse cx="38.71" cy="89.1" rx="1.42" ry="0.45" transform="rotate(70.68 38.71 89.1)"/>
<ellipse cx="127.8" cy="15.99" rx="1.62" ry="0.45" transform="rotate(110.99 127.8 15.99)"/>
<circle cx="207.1" cy="113.99" r="0.68"/>
<ellipse cx="133.49" cy="108.83" rx="1.99" ry="0.45" transform="rotate(97.88 133.49 108.83)"/>
<circle cx="67.38" cy="63.46" r="0.68"/>
<ellipse cx="89.95" cy="65.31" rx="1.47" ry="0.45" transform="rotate(28.36 89.95 65.31)"/>
<ellipse cx="56.88" cy="43.38" rx="1.63" ry="0.45" transform="rotate(20.44 56.88 43.38)"/>
<ellipse cx="107.9" cy="48.14" rx="1.86" ry="0.45" transform="rotate(14.36 107.9 48.14)"/>
<circle cx="215.56" cy="50.28" r="0.76"/>
<ellipse cx="26.97" cy="50.56" rx="1.17" ry="0.45" transform="rotate(68.86 26.97 50.56)"/>
<circle cx="151.17" cy="44.36" r="0.8"/>
<ellipse cx="188.22" cy="155.11" rx="1.07" ry="0.45" transform="rotate(168.24 188.22 155.11)"/>
<ellipse cx="111.33" cy="54.71" rx="1.96" ry="0.45" transform="rotate(42.55 111.33 54.71)"/>
<ellipse cx="68.08" cy="21.76" rx="1.4" ry="0.45" transform="rotate(36.03 68.08 21.76)"/>
<circle cx="26.75" cy="14.86" r="0.47"/>
<circle cx="71.41" cy="120.79" r="0.5"/>
<ellipse cx="152.53" cy="159.13" rx="1.31" ry="0.45" transform="rotate(118.68 152.53 159.13)"/>
<ellipse cx="108.58" cy="22.62" rx="1.36" ry="0.45" transform="rotate(31 108.58 22.62)"/>
<ellipse cx="77.31" cy="118.11" rx="1.23" ry="0.45" transform="rotate(174.59 77.31 118.11)"/>
<ellipse cx="163.43" cy="98.9" rx="1.39" ry="0.45" transform="rotate(163.66 163.43 98.9)"/>
<circle cx="79.29" cy="128.54" r="0.64"/>
<circle cx="34.39" cy="113.25" r="0.47"/>
<ellipse cx="161.23" cy="91.54" rx="1.88" ry="0.45" transform="rotate(115.18 161.23 91.54)"/>
<circle cx="65.3" cy="43.04" r="0.55"/>
<ellipse cx="155.57" cy="11.2" rx="1.44" ry="0.45" transform="rotate(42.56 155.57 11.2)"/>
<circle cx="163.56" cy="95.5" r="0.65"/>
<ellipse cx="162.58" cy="111.53" rx="1.06" ry="0.45" transform="rotate(154.58 162.58 111.53)"/>
<ellipse cx="191.29" cy="46.82" rx="1.56" ry="0.45" transform="rotate(155.8 191.29 46.82)"/>
<circle cx="95.4" cy="107.76" r="0.59"/>
<circle cx="26.19" cy="162.53" r="0.77"/>
<ellipse cx="178.06" cy="54.15" rx="1.76" ry="0.45" transform="rotate(117.81 178.06 54.15)"/>
<circle cx="153.03" cy="18.63" r="0.5"/>
<circle cx="182.46" cy="163.16" r="0.84"/>
<ellipse cx="73.74" cy="164.47" rx="1.22" ry="0.45" transform="rotate(139.71 73.74 164.47)"/>
<ellipse cx="202.88" cy="164.64" rx="1.4" ry="0.45" transform="rotate(149.44 202.88 164.64)"/>
<circle cx="47.48" cy="11.44" r="0.58"/>
<circle cx="94.24" cy="39.15" r="0.77"/>
<circle cx="147.39" cy="19.17" r="0.74"/>
</g>
<g fill="#3a3a3a">
<circle cx="122.4" cy="129.99" r="3.93"/>
<circle cx="180.68" cy="59.14" r="2.8"/>
<circle cx="125.62" cy="122.81" r="2.16"/>
<circle cx="184.55" cy="113.91" r="2.35"/>
<circle cx="186.1" cy="150.33" r="2.21"/>
<circle cx="160.86" cy="136.15" r="4.21"/>
<circle cx="202.77" cy="44.82" r="3.05"/>
<circle cx="92.61" cy="32.01" r="3.04"/>
<circle cx="123.93" cy="49.47" r="2.19"/>
<circle cx="165.08" cy="54.3" r="2.94"/>
<circle cx="52.6" cy="14.73" r="4.16"/>
<circle cx="114.14" cy="135.85" r="3.5"/>
<circle cx="53.65" cy="40.17" r="3.15"/>
<circle cx="112.27" cy="87.96" r="4.24"/>
<circle cx="73.34" cy="32.81" r="3.46"/>
<circle cx="208.17" cy="94.82" r="3.39"/>
<circle cx="98.13" cy="161.33" r="2.49"/>
<circle cx="61.09" cy="12.66" r="2.95"/>
<circle cx="94.54" cy="91.08" r="3.54"/>
<circle cx="27.82" cy="156.17" r="2.39"/>
<circle cx="200.67" cy="78.35" r="3.21"/>
<circle cx="139.64" cy="30.31" r="2.94"/>
<circle cx="45.53" cy="153.52" r="2.87"/>
<circle cx="218.6" cy="48.23" r="2.03"/>
<circle cx="173.16" cy="4.72" r="2.96"/>
<circle cx="32.82" cy="48.79" r="2.69"/>
<circle cx="157.51" cy="18.1" r="3.16"/>
<circle cx="105.8" cy="10.61" r="4.01"/>
<circle cx="48.14" cy="141.03" r="3.31"/>
<circle cx="29.68" cy="16.7" r="2.6"/>
<circle cx="96.42" cy="80.27" r="2.58"/>
<circle cx="18.52" cy="66.39" r="4.27"/>
<circle cx="131.08" cy="79.67" r="2.38"/>
<circle cx="188.28" cy="122.53" r="2.7"/>
<circle cx="170" cy="95.67" r="2.38"/>
<circle cx="56.79" cy="124.53" r="3.6"/>
<circle cx="71.86" cy="81.6" r="3.67"/>
<circle cx="94.02" cy="21.22" r="2.32"/>
<circle cx="186.73" cy="101.77" r="2.3"/>
<circle cx="22.6" cy="166.53" r="3.95"/>
<circle cx="44.37" cy="38.21" r="2.96"/>
<circle cx="94.73" cy="58.88" r="4.06"/>
<circle cx="164.3" cy="105.11" r="3.94"/>
<circle cx="177.09" cy="112.84" r="2.08"/>
<circle cx="54.51" cy="54.84" r="4.2"/>
<circle cx="87.92" cy="86.62" r="2.84"/>
<circle cx="56.43" cy="157.69" r="3.13"/>
<circle cx="21.45" cy="112.71" r="2.32"/>
<circle cx="113.49" cy="73.01" r="3.61"/>
<circle cx="205.53" cy="63.77" r="4.59"/>
<circle cx="108.27" cy="124.26" r="3.3"/>
<circle cx="126.86" cy="96.52" r="3.23"/>
<circle cx="168.13" cy="151.69" r="3.75"/>
<circle cx="90.18" cy="128.94" r="3.87"/>
<circle cx="53.86" cy="94.4" r="2.48"/>
<circle cx="98.29" cy="132.94" r="2.7"/>
<circle cx="152.93" cy="125.55" r="4.06"/>
<circle cx="146.63" cy="129.76" r="2.65"/>
<circle cx="111.48" cy="27.96" r="3.81"/>
<circle cx="131.88" cy="59" r="2.31"/>
<circle cx="176.65" cy="70.66" r="4.45"/>
<circle cx="115.1" cy="167.72" r="4.16"/>
<circle cx="39.94" cy="23.31" r="3.71"/>
<circle cx="104.17" cy="152.89" r="3.9"/>
<circle cx="76.39" cy="105.62" r="4.12"/>
<circle cx="137.89" cy="127.88" r="3.59"/>
<circle cx="194.1" cy="164.1" r="4.5"/>
<circle cx="207.81" cy="148.87" r="3.88"/>
<circle cx="102" cy="24.63" r="2.3"/>
<circle cx="177.64" cy="24.81" r="4.15"/>
<circle cx="65.76" cy="53.61" r="3.54"/>
<circle cx="105.92" cy="78.35" r="3.82"/>
<circle cx="157.22" cy="42.37" r="3.17"/>
<circle cx="199.3" cy="55.02" r="4.22"/>
<circle cx="174.44" cy="131.93" r="2.95"/>
<circle cx="145.62" cy="119.03" r="3.12"/>
<circle cx="64.19" cy="160.31" r="2.28"/>
<circle cx="78.44" cy="138.68" r="3.58"/>
<circle cx="161.48" cy="26.63" r="4.36"/>
<circle cx="76.27" cy="49.35" r="2.54"/>
<circle cx="25.25" cy="102.91" r="3.42"/>
<circle cx="102.38" cy="97.8" r="2.69"/>
<circle cx="170.16" cy="44.85" r="3.52"/>
<circle cx="21.88" cy="134.2" r="3.04"/>
<circle cx="22.86" cy="80.25" r="3.75"/>
<circle cx="197.88" cy="14.38" r="2.53"/>
<circle cx="147.57" cy="63.51" r="4.54"/>
<circle cx="121.41" cy="87.47" r="2.85"/>
<circle cx="105.85" cy="131.35" r="2.98"/>
<circle cx="127.01" cy="144.42" r="4.28"/>
<circle cx="57.31" cy="163.78" r="2.24"/>
<circle cx="194.07" cy="34.04" r="2.85"/>
<circle cx="140.14" cy="136.79" r="4.51"/>
<circle cx="190.76" cy="9.58" r="2.7"/>
<circle cx="183.39" cy="32.66" r="3.27"/>
<circle cx="117.36" cy="112.64" r="4.18"/>
<circle cx="211.27" cy="25.57" r="2.62"/>
<circle cx="76.81" cy="74.15" r="2.74"/>
<circle cx="40.24" cy="144.86" r="3.98"/>
<circle cx="148.56" cy="14.1" r="3.73"/>
<circle cx="96.16" cy="142.84" r="3.94"/>
<circle cx="26.05" cy="73.17" r="2.94"/>
<circle cx="128.11" cy="31.39" r="3.05"/>
<circle cx="218.64" cy="115.96" r="4.25"/>
<circle cx="72" cy="7.55" r="2.92"/>
<circle cx="65.14" cy="142.23" r="2.26"/>
<circle cx="81.7" cy="67.58" r="2.68"/>
<circle cx="93.8" cy="46.55" r="2.1"/>
<circle cx="140.02" cy="84.65" r="2.93"/>
<circle cx="137.46" cy="9.71" r="3.36"/>
<circle cx="108.15" cy="66.36" r="3.27"/>
<circle cx="125.13" cy="78.24" r="2.74"/>
<circle cx="192.66" cy="41.59" r="3.34"/>
<circle cx="114.5" cy="6.36" r="3.48"/>
<circle cx="29.65" cy="144.47" r="3.78"/>
<circle cx="68.95" cy="135.71" r="2.45"/>
<circle cx="172.73" cy="62.05" r="3.11"/>
<circle cx="131.41" cy="47.48" r="2.87"/>
<circle cx="142.65" cy="71.94" r="3.78"/>
<circle cx="60.89" cy="89.93" r="3.75"/>
<circle cx="37.19" cy="7.68" r="3.2"/>
<circle cx="156.06" cy="162.68" r="2.63"/>
<circle cx="74.28" cy="127.41" r="4.27"/>
<circle cx="101.8" cy="120.51" r="3.55"/>
<circle cx="41.54" cy="66.36" r="3.27"/>
<circle cx="53.67" cy="6.75" r="2.68"/>
<circle cx="21.41" cy="93.53" r="4.24"/>
<circle cx="163.26" cy="71.48" r="3.04"/>
<circle cx="198.92" cy="148.99" r="3.81"/>
<circle cx="82.03" cy="7.66" r="2.69"/>
<circle cx="17.45" cy="129.32" r="2.25"/>
<circle cx="84.6" cy="27.43" r="3.35"/>
<circle cx="96.77" cy="13.96" r="3.29"/>
<circle cx="207.92" cy="12.21" r="2.42"/>
<circle cx="125.96" cy="115.24" r="3.33"/>
<circle cx="70.05" cy="44.71" r="4.35"/>
<circle cx="179.83" cy="140.32" r="2.72"/>
<circle cx="201.57" cy="8.36" r="2.66"/>
<circle cx="90.4" cy="109.2" r="3.61"/>
<circle cx="29.6" cy="111.71" r="2.38"/>
<circle cx="59.58" cy="34.05" r="2.32"/>
<circle cx="81.59" cy="82.18" r="3.1"/>
<circle cx="95.58" cy="155.62" r="2.94"/>
<circle cx="123.12" cy="6.15" r="4.21"/>
<circle cx="190.7" cy="107.66" r="2.31"/>
<circle cx="166.69" cy="126.61" r="4.08"/>
<circle cx="108.14" cy="51.13" r="2.25"/>
<circle cx="68.22" cy="106.71" r="3.22"/>
<circle cx="217.84" cy="70.48" r="2.93"/>
<circle cx="199.06" cy="22.72" r="2.97"/>
<circle cx="148.44" cy="158.38" r="2.65"/>
<circle cx="212.19" cy="43.64" r="2.53"/>
<circle cx="176.57" cy="85.03" r="2.89"/>
<circle cx="117.32" cy="13.68" r="2.65"/>
<circle cx="205.49" cy="161.26" r="3.27"/>
<circle cx="155.1" cy="80.92" r="4.19"/>
<circle cx="217.52" cy="38.43" r="3.89"/>
<circle cx="164.44" cy="36.84" r="3.94"/>
<circle cx="207.97" cy="104.6" r="3.6"/>
<circle cx="17.64" cy="15.83" r="3.22"/>
<circle cx="86.66" cy="119.96" r="3.1"/>
<circle cx="150.33" cy="48.42" r="2.29"/>
<circle cx="65.92" cy="72.03" r="2.85"/>
<circle cx="192.71" cy="68.19" r="3.32"/>
<circle cx="36.28" cy="151.62" r="2.65"/>
<circle cx="159.01" cy="168.21" r="2.75"/>
<circle cx="35.57" cy="134.9" r="2.03"/>
<circle cx="148.39" cy="106.73" r="3.48"/>
<circle cx="213.86" cy="82.24" r="2.47"/>
<circle cx="130.46" cy="164.4" r="2.4"/>
<circle cx="119.49" cy="24.95" r="2.91"/>
<circle cx="34.03" cy="88.55" r="3.33"/>
<circle cx="60.4" cy="78.62" r="2.48"/>
<circle cx="189.55" cy="21.62" r="2.62"/>
<circle cx="18.18" cy="29.73" r="2.62"/>
<circle cx="116.66" cy="154.17" r="2.14"/>
<circle cx="77.09" cy="39.73" r="2.58"/>
<circle cx="97.55" cy="41.04" r="2.61"/>
<circle cx="213.13" cy="5.66" r="3.93"/>
<circle cx="74.3" cy="116.07" r="2.45"/>
<circle cx="61.96" cy="45.58" r="2.11"/>
<circle cx="183.15" cy="133.86" r="3.18"/>
<circle cx="171.77" cy="12.37" r="2.53"/>
<circle cx="113.75" cy="59.55" r="2.34"/>
<circle cx="33.03" cy="116.96" r="2.74"/>
<circle cx="199.05" cy="123.91" r="2.73"/>
<circle cx="88.61" cy="140.97" r="2.6"/>
<circle cx="59.07" cy="72.57" r="2.97"/>
<circle cx="198.91" cy="157.19" r="3.19"/>
<circle cx="205.35" cy="85.5" r="4.01"/>
<circle cx="216.04" cy="58.33" r="4.27"/>
<circle cx="134.82" cy="152.09" r="3.79"/>
<circle cx="90.26" cy="160.56" r="3.45"/>
<circle cx="185.46" cy="165.64" r="2.37"/>
<circle cx="74.44" cy="96.53" r="3.39"/>
<circle cx="155.99" cy="61.22" r="3.32"/>
<circle cx="119.15" cy="97.38" r="3.89"/>
<circle cx="31.37" cy="94.74" r="2.4"/>
<circle cx="16.55" cy="157.68" r="2.35"/>
<circle cx="77.24" cy="59.58" r="3.62"/>
<circle cx="215.11" cy="160.39" r="2.98"/>
<circle cx="219.29" cy="98.27" r="3.92"/>
<circle cx="123.33" cy="59.54" r="3.68"/>
<circle cx="63.81" cy="149.21" r="2.65"/>
<circle cx="83.91" cy="43.6" r="3.45"/>
<circle cx="133.15" cy="98.59" r="2.04"/>
<circle cx="32.03" cy="129.79" r="3.07"/>
<circle cx="161.76" cy="159.67" r="2.97"/>
<circle cx="30.62" cy="34.83" r="3.79"/>
<circle cx="41.12" cy="57.22" r="2.39"/>
<circle cx="123.45" cy="159.92" r="2.58"/>
<circle cx="83.41" cy="97.78" r="3.39"/>
<circle cx="198.21" cy="102.58" r="3.75"/>
<circle cx="188.59" cy="80.81" r="2.92"/>
<circle cx="209.28" cy="51.11" r="2.57"/>
<circle cx="16.65" cy="83.18" r="2.5"/>
<circle cx="144.9" cy="80.36" r="2.41"/>
<circle cx="216.37" cy="147.49" r="3.28"/>
<circle cx="143.07" cy="25.06" r="2.17"/>
<circle cx="99.14" cy="69.23" r="2.23"/>
<circle cx="161.05" cy="10.91" r="2.8"/>
<circle cx="21.49" cy="48.29" r="2.42"/>
<circle cx="90.31" cy="75.73" r="3.78"/>
<circle cx="26.64" cy="62.81" r="3.86"/>
<circle cx="203.7" cy="134.08" r="2.31"/>
<circle cx="213.67" cy="133.67" r="3.58"/>
<circle cx="178.65" cy="11.31" r="2.18"/>
<circle cx="110.83" cy="105.42" r="3.05"/>
<circle cx="142.29" cy="38.63" r="3.28"/>
<circle cx="192.6" cy="88" r="4.12"/>
<circle cx="149.3" cy="41.58" r="2.52"/>
<circle cx="50.31" cy="64.14" r="3.04"/>
<circle cx="71.82" cy="63.32" r="2.22"/>
<circle cx="84.76" cy="148.65" r="3.27"/>
<circle cx="154.11" cy="32.63" r="3.75"/>
<circle cx="62.21" cy="64.28" r="3.1"/>
<circle cx="152.44" cy="144" r="2.63"/>
<circle cx="47.15" cy="115.87" r="2.18"/>
<circle cx="19.31" cy="55.44" r="2.68"/>
<circle cx="167.89" cy="79.1" r="4"/>
<circle cx="62.23" cy="99.72" r="2.89"/>
<circle cx="31.41" cy="167.5" r="2.38"/>
<circle cx="178.91" cy="121.81" r="2.47"/>
<circle cx="51.33" cy="80.64" r="3.19"/>
<circle cx="27.67" cy="10.11" r="2.95"/>
<circle cx="72.89" cy="155.06" r="2.28"/>
<circle cx="151.73" cy="24.21" r="4.22"/>
<circle cx="56.91" cy="109.58" r="2.59"/>
<circle cx="131.9" cy="87.86" r="3.75"/>
<circle cx="78.71" cy="166.57" r="2.05"/>
<circle cx="219.37" cy="20.79" r="2.86"/>
<circle cx="192.49" cy="60.58" r="3.21"/>
<circle cx="215.87" cy="126.01" r="3.75"/>
<circle cx="154.04" cy="99.17" r="3.65"/>
<circle cx="117.32" cy="19.25" r="2.17"/>
<circle cx="134.07" cy="38.72" r="3.85"/>
<circle cx="107.29" cy="145.17" r="2.08"/>
<circle cx="142.22" cy="154.63" r="2.91"/>
<circle cx="138.19" cy="116.97" r="3.96"/>
<circle cx="27.99" cy="26.09" r="3.79"/>
<circle cx="132.05" cy="20.6" r="3.23"/>
<circle cx="25.92" cy="120.2" r="4.14"/>
<circle cx="201.89" cy="33.79" r="4.3"/>
<circle cx="41.16" cy="45.57" r="4.33"/>
<circle cx="215.99" cy="91.63" r="2.52"/>
<circle cx="68.6" cy="26.37" r="2.31"/>
<circle cx="122.19" cy="37.86" r="4.17"/>
<circle cx="170.23" cy="138.73" r="3.17"/>
<circle cx="182.8" cy="159.17" r="2.94"/>
<circle cx="83.13" cy="157.09" r="2.91"/>
<circle cx="66.08" cy="124.5" r="3.67"/>
<circle cx="127.44" cy="70.12" r="3.33"/>
<circle cx="34.92" cy="106.66" r="2.1"/>
<circle cx="76.79" cy="23.36" r="2.35"/>
<circle cx="184.58" cy="92.62" r="2.25"/>
<circle cx="41.31" cy="77.63" r="3.43"/>
<circle cx="187.6" cy="143.75" r="3.73"/>
<circle cx="20.22" cy="146.87" r="2.92"/>
<circle cx="87.16" cy="166.81" r="2.28"/>
<circle cx="189.95" cy="131.23" r="3.08"/>
<circle cx="199.03" cy="69.61" r="2.23"/>
<circle cx="167.79" cy="19.55" r="3.93"/>
<circle cx="105.82" cy="139.4" r="2.08"/>
<circle cx="51.97" cy="72.52" r="2.76"/>
<circle cx="140.31" cy="147.97" r="2.07"/>
<circle cx="47.83" cy="163.21" r="2.71"/>
<circle cx="113.91" cy="38.71" r="2.68"/>
<circle cx="40.95" cy="106.5" r="2.89"/>
<circle cx="86.83" cy="20.24" r="2.85"/>
<circle cx="193.36" cy="115.82" r="3.53"/>
<circle cx="129.55" cy="8.83" r="2.11"/>
<circle cx="139.57" cy="95.25" r="2.83"/>
<circle cx="184.53" cy="5.72" r="2.34"/>
<circle cx="44.73" cy="87.65" r="2.99"/>
<circle cx="142.51" cy="53.42" r="2.39"/>
<circle cx="176.2" cy="163.98" r="3.63"/>
<circle cx="104.62" cy="166.47" r="4.49"/>
<circle cx="176.93" cy="156.56" r="2.67"/>
<circle cx="201.71" cy="114.98" r="3.09"/>
<circle cx="62.38" cy="117.53" r="3.53"/>
<circle cx="208.46" cy="75.6" r="4.28"/>
<circle cx="46" cy="124.65" r="3.59"/>
<circle cx="47.82" cy="107.81" r="2.45"/>
<circle cx="63.55" cy="132.29" r="3.08"/>
<circle cx="185.25" cy="64.58" r="3.34"/>
<circle cx="176.33" cy="16.83" r="2.65"/>
<circle cx="182.71" cy="51.96" r="2.78"/>
<circle cx="102.25" cy="84.09" r="2.27"/>
<circle cx="47.7" cy="99.16" r="4.27"/>
<circle cx="143.22" cy="164.54" r="3.82"/>
<circle cx="49.83" cy="48.29" r="2.99"/>
<circle cx="113.37" cy="145.74" r="2.13"/>
<circle cx="104.97" cy="39.6" r="2.49"/>
<circle cx="105.53" cy="18.72" r="2.66"/>
<circle cx="119.18" cy="66.28" r="3.55"/>
<circle cx="16.41" cy="38.78" r="4"/>
<circle cx="219.66" cy="138.55" r="2.87"/>
<circle cx="168.33" cy="86.28" r="2.51"/>
<circle cx="203.39" cy="141.54" r="4.06"/>
<circle cx="69.46" cy="167.75" r="3.86"/>
<circle cx="65.66" cy="17.93" r="3.02"/>
<circle cx="217" cy="166" r="2.29"/>
<circle cx="33.28" cy="68.69" r="3.76"/>
<circle cx="49.64" cy="30.45" r="4.48"/>
<circle cx="155.42" cy="155.58" r="2.95"/>
<circle cx="22.24" cy="5.7" r="3.34"/>
<circle cx="206.56" cy="128.6" r="3.23"/>
<circle cx="170.4" cy="31.47" r="3.05"/>
<circle cx="59.96" cy="141.26" r="2.01"/>
<circle cx="93.06" cy="67.94" r="2.68"/>
<circle cx="103.73" cy="110.09" r="2.48"/>
<circle cx="100.28" cy="5.34" r="2.38"/>
<circle cx="128.37" cy="107.58" r="3.48"/>
<circle cx="32.66" cy="78.78" r="2.37"/>
<circle cx="191.6" cy="54.15" r="2.25"/>
<circle cx="170.83" cy="112.45" r="3.32"/>
<circle cx="169.68" cy="167.64" r="2.62"/>
<circle cx="159.73" cy="148.65" r="2.32"/>
<circle cx="171.6" cy="51.82" r="2.1"/>
<circle cx="148.47" cy="92.53" r="4.01"/>
<circle cx="39.34" cy="95.93" r="2.08"/>
<circle cx="43.17" cy="134.06" r="2.71"/>
<circle cx="70.33" cy="149.43" r="3.06"/>
<circle cx="88.6" cy="7.15" r="2.98"/>
<circle cx="198.63" cy="131.67" r="2.31"/>
<circle cx="158" cy="117.27" r="4.23"/>
<circle cx="215.51" cy="106.33" r="3.29"/>
<circle cx="179.53" cy="41.7" r="3.16"/>
<circle cx="140.52" cy="105.61" r="3"/>
<circle cx="39.56" cy="114.18" r="3.16"/>
<circle cx="185.46" cy="11.78" r="2.1"/>
<circle cx="38.86" cy="126" r="2.3"/>
<circle cx="104.72" cy="89.04" r="2.36"/>
<circle cx="77.65" cy="161.21" r="2.74"/>
<circle cx="108.53" cy="44.56" r="2.95"/>
<circle cx="76.45" cy="147.05" r="1.99"/>
<circle cx="194.53" cy="139.5" r="3.25"/>
<circle cx="188.91" cy="74.2" r="2.28"/>
<circle cx="114.49" cy="51.49" r="3.22"/>
<circle cx="91.31" cy="99.47" r="3.29"/>
<circle cx="98.34" cy="149.95" r="1.98"/>
<circle cx="99.72" cy="51.19" r="2.5"/>
<circle cx="17.94" cy="101.43" r="3.29"/>
<circle cx="59.3" cy="25.21" r="3.55"/>
<circle cx="25.41" cy="54.72" r="2.72"/>
<circle cx="45.69" cy="16.91" r="2.44"/>
<circle cx="97.91" cy="74.96" r="2.29"/>
<circle cx="45.12" cy="5.24" r="2.58"/>
<circle cx="87.34" cy="61.82" r="1.97"/>
<circle cx="99.19" cy="103.95" r="2.28"/>
<circle cx="107.97" cy="95.69" r="2.37"/>
<circle cx="123.6" cy="16.82" r="2.25"/>
<circle cx="175.65" cy="145.41" r="2.93"/>
<circle cx="165.14" cy="92.36" r="2.57"/>
<circle cx="173.83" cy="103.24" r="4.17"/>
<circle cx="165.55" cy="60.08" r="2.11"/>
<circle cx="208.36" cy="167.93" r="2.97"/>
<circle cx="53.94" cy="148.88" r="3.52"/>
<circle cx="187.4" cy="38.01" r="2.12"/>
<circle cx="191.81" cy="154.17" r="2.67"/>
<circle cx="153.58" cy="52.82" r="2.07"/>
<circle cx="125.26" cy="23" r="2.16"/>
<circle cx="109.64" cy="159.46" r="2.46"/>
<circle cx="40.46" cy="161.73" r="2.08"/>
<circle cx="150.16" cy="151.42" r="3.07"/>
<circle cx="136.27" cy="53.88" r="3.01"/>
<circle cx="210.58" cy="34.94" r="2.46"/>
<circle cx="79.74" cy="92.92" r="2.05"/>
<circle cx="30.35" cy="4.9" r="2.06"/>
<circle cx="203.99" cy="16.5" r="2.29"/>
<circle cx="123.42" cy="165.51" r="2.07"/>
<circle cx="212.44" cy="16.68" r="2.45"/>
<circle cx="51.34" cy="129.62" r="2.27"/>
<circle cx="82.82" cy="115.02" r="2.04"/>
<circle cx="79.05" cy="15.26" r="3.98"/>
<circle cx="169.68" cy="67.75" r="2.18"/>
<circle cx="99.3" cy="30.02" r="2.6"/>
<circle cx="16.92" cy="9.44" r="2.26"/>
<circle cx="159.63" cy="86.67" r="2.37"/>
<circle cx="209.76" cy="116.54" r="2.27"/>
<circle cx="98.92" cy="126.86" r="2.27"/>
<circle cx="62.95" cy="110.3" r="2.13"/>
<circle cx="108.91" cy="111.38" r="2.18"/>
<circle cx="138.63" cy="65.49" r="2.9"/>
<circle cx="35.82" cy="59.64" r="2.21"/>
<circle cx="22.78" cy="127.21" r="2.02"/>
<circle cx="217.67" cy="13" r="2.22"/>
<circle cx="40.23" cy="168.58" r="3.63"/>
<circle cx="111.74" cy="18.46" r="2.06"/>
<circle cx="54.97" cy="101.7" r="2.42"/>
<circle cx="117.48" cy="142.06" r="2.7"/>
<circle cx="149.86" cy="71.24" r="2.74"/>
<circle cx="115.11" cy="120.82" r="2.34"/>
<circle cx="53.16" cy="115.52" r="3.14"/>
<circle cx="90.43" cy="38.86" r="2.77"/>
<circle cx="84.47" cy="53.33" r="3.55"/>
<circle cx="67.01" cy="36.93" r="2.68"/>
<circle cx="189.95" cy="95.05" r="2.65"/>
<circle cx="69.65" cy="89.8" r="3.86"/>
<circle cx="35.01" cy="163.03" r="2.11"/>
<circle cx="136.7" cy="160.35" r="2.17"/>
<circle cx="83.81" cy="106.56" r="2.34"/>
<circle cx="29.25" cy="135.85" r="2.87"/>
<circle cx="136.36" cy="16.3" r="2.11"/>
<circle cx="202.52" cy="168.11" r="1.96"/>
<circle cx="33.74" cy="101.27" r="2.01"/>
<circle cx="16.77" cy="109.32" r="2.21"/>
<circle cx="121.29" cy="148.43" r="2.1"/>
<circle cx="52.28" cy="87.97" r="2.98"/>
<circle cx="159.47" cy="48.32" r="1.99"/>
<circle cx="85.41" cy="34.5" r="2.38"/>
<circle cx="47.04" cy="54.62" r="2.19"/>
<circle cx="130.69" cy="133.75" r="3.83"/>
<circle cx="187.32" cy="48.49" r="2.02"/>
<circle cx="125.56" cy="152.98" r="3.43"/>
<circle cx="197.15" cy="4.74" r="2.38"/>
<circle cx="218.92" cy="29.69" r="3.37"/>
<circle cx="107.98" cy="56.26" r="2.15"/>
<circle cx="134.62" cy="142" r="2.16"/>
<circle cx="118.59" cy="105.11" r="2.18"/>
<circle cx="156.82" cy="92.68" r="2.69"/>
<circle cx="143.01" cy="46.57" r="2.69"/>
<circle cx="194.13" cy="76.02" r="2.3"/>
<circle cx="36.19" cy="30.1" r="2.69"/>
<circle cx="42.52" cy="12.2" r="2.55"/>
<circle cx="196.48" cy="95.87" r="2.25"/>
<circle cx="93.22" cy="117.23" r="2.24"/>
<circle cx="45.34" cy="72.25" r="2.13"/>
<circle cx="206.97" cy="39.43" r="2.61"/>
<circle cx="156.36" cy="68.24" r="2.52"/>
<circle cx="143.78" cy="5.23" r="2.43"/>
<circle cx="105.32" cy="33.19" r="2.95"/>
<circle cx="147.72" cy="139.31" r="2.84"/>
<circle cx="155.05" cy="106.03" r="2.42"/>
<circle cx="173.46" cy="90.97" r="2.32"/>
<circle cx="135.99" cy="167.96" r="3.23"/>
<circle cx="57.39" cy="83.79" r="2.55"/>
<circle cx="169.36" cy="158.7" r="2.41"/>
<circle cx="43.72" cy="93.46" r="2.07"/>
<circle cx="63.14" cy="83.67" r="2.06"/>
<circle cx="180.18" cy="97.9" r="2.03"/>
<circle cx="16.62" cy="50.44" r="2.09"/>
<circle cx="56.78" cy="136.45" r="3.02"/>
<circle cx="115.22" cy="79.52" r="2.29"/>
<circle cx="61.75" cy="5.43" r="2.14"/>
<circle cx="201.79" cy="93.14" r="2.36"/>
<circle cx="182.3" cy="79.03" r="2.95"/>
<circle cx="83.59" cy="125.4" r="2.14"/>
<circle cx="180.69" cy="106.12" r="2.27"/>
<circle cx="86.18" cy="13.09" r="2.45"/>
<circle cx="101.54" cy="64.59" r="1.98"/>
<circle cx="105.44" cy="103.07" r="2.01"/>
<circle cx="155.81" cy="5.19" r="3.42"/>
<circle cx="166.45" cy="5.01" r="2.47"/>
<circle cx="18.5" cy="118.01" r="2.09"/>
<circle cx="151.16" cy="167.38" r="3.54"/>
<circle cx="16.07" cy="76.5" r="2.61"/>
<circle cx="68.53" cy="116.04" r="2.09"/>
<circle cx="78.59" cy="152.2" r="2.75"/>
<circle cx="211.82" cy="154.4" r="2.07"/>
<circle cx="98.7" cy="35.66" r="2.09"/>
<circle cx="173.31" cy="37.27" r="2.22"/>
<circle cx="98.17" cy="114.51" r="2.53"/>
<circle cx="55.69" cy="66.46" r="2.15"/>
<circle cx="142.94" cy="18.64" r="2.47"/>
<circle cx="94.55" cy="167.51" r="2.15"/>
<circle cx="35.59" cy="18" r="2.28"/>
<circle cx="219.51" cy="78.49" r="3.49"/>
<circle cx="70.39" cy="160.13" r="2.42"/>
<circle cx="75.27" cy="68.1" r="2.44"/>
<circle cx="149.29" cy="114.44" r="2.08"/>
<circle cx="17.09" cy="139.88" r="2.17"/>
<circle cx="164.73" cy="164.56" r="2"/>
<circle cx="57.65" cy="47.54" r="1.95"/>
<circle cx="197.5" cy="63.6" r="1.97"/>
<circle cx="183.91" cy="86.19" r="3.53"/>
<circle cx="73.3" cy="54.05" r="2.09"/>
<circle cx="114.26" cy="127.62" r="2.9"/>
<circle cx="29.27" cy="43.96" r="1.96"/>
<circle cx="145.77" cy="146.54" r="2.44"/>
<circle cx="130.08" cy="158.73" r="2.62"/>
<circle cx="79.96" cy="33.7" r="2.31"/>
<circle cx="101.88" cy="45.04" r="2.46"/>
<circle cx="34.49" cy="139.6" r="2.12"/>
<circle cx="37.8" cy="36.38" r="2.64"/>
<circle cx="86.47" cy="134.66" r="2.19"/>
<circle cx="189.56" cy="28.53" r="2.89"/>
<circle cx="135.59" cy="110.57" r="1.96"/>
<circle cx="79.71" cy="122.14" r="2.14"/>
<circle cx="71.83" cy="18.75" r="2.25"/>
<circle cx="64.32" cy="31.8" r="2.06"/>
<circle cx="110.9" cy="116.91" r="2.29"/>
<circle cx="140.62" cy="59.61" r="2.55"/>
<circle cx="24.46" cy="40.68" r="2.47"/>
<circle cx="84.95" cy="91.52" r="2.29"/>
<circle cx="218.38" cy="154.13" r="2.35"/>
<circle cx="184.15" cy="17.87" r="2.37"/>
<circle cx="134.85" cy="71.9" r="2.32"/>
<circle cx="205.54" cy="25.33" r="2.17"/>
<circle cx="175.09" cy="78.46" r="2.04"/>
<circle cx="206.17" cy="121.8" r="2.8"/>
<circle cx="171.86" cy="119.91" r="2.41"/>
<circle cx="20.92" cy="22.73" r="3.17"/>
<circle cx="131.58" cy="120.27" r="2.7"/>
<circle cx="50.74" cy="22.33" r="2.39"/>
<circle cx="129.55" cy="53.67" r="2.69"/>
<circle cx="144.32" cy="113" r="2.04"/>
<circle cx="146.9" cy="85.59" r="2.18"/>
<circle cx="66.07" cy="9.64" r="2.25"/>
<circle cx="116.31" cy="44.39" r="2.32"/>
<circle cx="115.71" cy="33.07" r="2.04"/>
<circle cx="184.85" cy="24.85" r="2.33"/>
<circle cx="159.08" cy="55.64" r="2.38"/>
<circle cx="92.48" cy="150.41" r="2.48"/>
<circle cx="157.18" cy="74.01" r="2.02"/>
<circle cx="121.82" cy="138" r="2.15"/>
<circle cx="188.79" cy="159.37" r="1.97"/>
<circle cx="126.67" cy="43.87" r="2.15"/>
<circle cx="180.24" cy="151.42" r="2.04"/>
<circle cx="81.21" cy="130.94" r="2.18"/>
<circle cx="116.77" cy="159.89" r="2.22"/>
<circle cx="165.06" cy="115.9" r="2.1"/>
<circle cx="23.01" cy="34.87" r="2.74"/>
<circle cx="209.94" cy="139.04" r="2.3"/>
<circle cx="25.56" cy="149.94" r="2.4"/>
<circle cx="147.42" cy="33.4" r="2.22"/>
<circle cx="23.4" cy="141.03" r="2.66"/>
<circle cx="133.72" cy="29.26" r="2.29"/>
<circle cx="64.04" cy="155.07" r="2.12"/>
<circle cx="164.95" cy="144.14" r="3.62"/>
<circle cx="69.01" cy="100.17" r="2.29"/>
<circle cx="27.4" cy="88.29" r="2.24"/>
<circle cx="59.85" cy="40.31" r="2.34"/>
<circle cx="52.81" cy="168.24" r="3.36"/>
<circle cx="184.52" cy="128.08" r="2.14"/>
<circle cx="160.96" cy="97.07" r="2.31"/>
<circle cx="147.26" cy="99.96" r="1.99"/>
<circle cx="120.71" cy="120.93" r="2.28"/>
<circle cx="178.86" cy="92.65" r="2.04"/>
<circle cx="192.6" cy="16.43" r="2.47"/>
<circle cx="103.06" cy="59.76" r="2.29"/>
<circle cx="152.32" cy="134.75" r="2.39"/>
<circle cx="70.95" cy="143.27" r="2.3"/>
<circle cx="37.86" cy="83.44" r="2.19"/>
<circle cx="132.47" cy="65.89" r="2.6"/>
<circle cx="29.21" cy="82.78" r="2.02"/>
<circle cx="129.6" cy="126.71" r="2.64"/>
<circle cx="213.16" cy="65.09" r="2.28"/>
<circle cx="90.01" cy="49.74" r="2.22"/>
<circle cx="17.71" cy="123.59" r="2.61"/>
<circle cx="50.49" cy="135.49" r="2.03"/>
<circle cx="78.9" cy="87.87" r="2.38"/>
<circle cx="40.79" cy="120.34" r="2.41"/>
<circle cx="16.28" cy="151.52" r="2.35"/>
<circle cx="186.84" cy="56.43" r="2.05"/>
<circle cx="133" cy="4.97" r="1.98"/>
<circle cx="111.31" cy="152.78" r="2.38"/>
<circle cx="30.71" cy="56.99" r="2.29"/>
<circle cx="186.09" cy="43.56" r="2.02"/>
<circle cx="208.39" cy="111.02" r="2"/>
<circle cx="29.61" cy="161.98" r="2.6"/>
<circle cx="137.75" cy="45.38" r="1.96"/>
<circle cx="197.53" cy="109.21" r="1.98"/>
<circle cx="35.52" cy="54.06" r="2.54"/>
<circle cx="195.16" cy="48.1" r="2.63"/>
<circle cx="61.88" cy="166.35" r="2.35"/>
<circle cx="164.06" cy="65.49" r="2.15"/>
<circle cx="121.37" cy="45.18" r="2.18"/>
<circle cx="99.55" cy="19.74" r="2.41"/>
<circle cx="160" cy="128.25" r="2.18"/>
<circle cx="219.69" cy="85.84" r="3.03"/>
<circle cx="163.12" cy="44.39" r="2.41"/>
<circle cx="83.01" cy="75" r="2.7"/>
<circle cx="176.74" cy="48.59" r="2.33"/>
<circle cx="149.08" cy="55.77" r="2.34"/>
</g><g fill="#101010">
<ellipse cx="122.4" cy="129.99" rx="3.88" ry="2.87" transform="rotate(66.05 122.4 129.99)"/>
<circle cx="180.68" cy="59.14" r="2.25"/>
<circle cx="125.62" cy="122.81" r="1.61"/>
<circle cx="184.55" cy="113.91" r="1.8"/>
<circle cx="186.1" cy="150.33" r="1.66"/>
<circle cx="160.86" cy="136.15" r="3.66"/>
<circle cx="202.77" cy="44.82" r="2.5"/>
<circle cx="92.61" cy="32.01" r="2.49"/>
<circle cx="123.93" cy="49.47" r="1.64"/>
<circle cx="165.08" cy="54.3" r="2.39"/>
<ellipse cx="52.6" cy="14.73" rx="4.15" ry="3.07" transform="rotate(33.74 52.6 14.73)"/>
<circle cx="114.14" cy="135.85" r="2.95"/>
<circle cx="53.65" cy="40.17" r="2.6"/>
<circle cx="112.27" cy="87.96" r="3.69"/>
<circle cx="73.34" cy="32.81" r="2.91"/>
<circle cx="208.17" cy="94.82" r="2.84"/>
<circle cx="98.13" cy="161.33" r="1.94"/>
<circle cx="61.09" cy="12.66" r="2.4"/>
<circle cx="94.54" cy="91.08" r="2.99"/>
<circle cx="27.82" cy="156.17" r="1.84"/>
<circle cx="200.67" cy="78.35" r="2.66"/>
<circle cx="139.64" cy="30.31" r="2.39"/>
<circle cx="45.53" cy="153.52" r="2.32"/>
<circle cx="218.6" cy="48.23" r="1.48"/>
<circle cx="173.16" cy="4.72" r="2.41"/>
<circle cx="32.82" cy="48.79" r="2.14"/>
<circle cx="157.51" cy="18.1" r="2.61"/>
<circle cx="105.8" cy="10.61" r="3.46"/>
<circle cx="48.14" cy="141.03" r="2.76"/>
<circle cx="29.68" cy="16.7" r="2.05"/>
<circle cx="96.42" cy="80.27" r="2.03"/>
<ellipse cx="18.52" cy="66.39" rx="4.28" ry="3.16" transform="rotate(75.73 18.52 66.39)"/>
<circle cx="131.08" cy="79.67" r="1.83"/>
<circle cx="188.28" cy="122.53" r="2.15"/>
<circle cx="170" cy="95.67" r="1.83"/>
<ellipse cx="56.79" cy="124.53" rx="3.51" ry="2.6" transform="rotate(147.48 56.79 124.53)"/>
<circle cx="71.86" cy="81.6" r="3.12"/>
<circle cx="94.02" cy="21.22" r="1.77"/>
<circle cx="186.73" cy="101.77" r="1.75"/>
<ellipse cx="22.6" cy="166.53" rx="3.91" ry="2.89" transform="rotate(62.31 22.6 166.53)"/>
<circle cx="44.37" cy="38.21" r="2.41"/>
<circle cx="94.73" cy="58.88" r="3.51"/>
<circle cx="164.3" cy="105.11" r="3.39"/>
<circle cx="177.09" cy="112.84" r="1.53"/>
<circle cx="54.51" cy="54.84" r="3.65"/>
<circle cx="87.92" cy="86.62" r="2.29"/>
<circle cx="56.43" cy="157.69" r="2.58"/>
<circle cx="21.45" cy="112.71" r="1.77"/>
<circle cx="113.49" cy="73.01" r="3.06"/>
<circle cx="205.53" cy="63.77" r="4.04"/>
<circle cx="108.27" cy="124.26" r="2.75"/>
<circle cx="126.86" cy="96.52" r="2.68"/>
<ellipse cx="168.13" cy="151.69" rx="3.68" ry="2.72" transform="rotate(16.92 168.13 151.69)"/>
<circle cx="90.18" cy="128.94" r="3.32"/>
<circle cx="53.86" cy="94.4" r="1.93"/>
<circle cx="98.29" cy="132.94" r="2.15"/>
<ellipse cx="152.93" cy="125.55" rx="4.03" ry="2.98" transform="rotate(2.31 152.93 125.55)"/>
<circle cx="146.63" cy="129.76" r="2.1"/>
<circle cx="111.48" cy="27.96" r="3.26"/>
<circle cx="131.88" cy="59" r="1.76"/>
<circle cx="176.65" cy="70.66" r="3.9"/>
<circle cx="115.1" cy="167.72" r="3.61"/>
<ellipse cx="39.94" cy="23.31" rx="3.64" ry="2.69" transform="rotate(162.48 39.94 23.31)"/>
<circle cx="104.17" cy="152.89" r="3.35"/>
<ellipse cx="76.39" cy="105.62" rx="4.1" ry="3.03" transform="rotate(179.39 76.39 105.62)"/>
<circle cx="137.89" cy="127.88" r="3.04"/>
<circle cx="194.1" cy="164.1" r="3.95"/>
<circle cx="207.81" cy="148.87" r="3.33"/>
<circle cx="102" cy="24.63" r="1.75"/>
<ellipse cx="177.64" cy="24.81" rx="4.14" ry="3.06" transform="rotate(88.99 177.64 24.81)"/>
<circle cx="65.76" cy="53.61" r="2.99"/>
<ellipse cx="105.92" cy="78.35" rx="3.76" ry="2.78" transform="rotate(122.22 105.92 78.35)"/>
<circle cx="157.22" cy="42.37" r="2.62"/>
<ellipse cx="199.3" cy="55.02" rx="4.22" ry="3.12" transform="rotate(174.74 199.3 55.02)"/>
<circle cx="174.44" cy="131.93" r="2.4"/>
<circle cx="145.62" cy="119.03" r="2.57"/>
<circle cx="64.19" cy="160.31" r="1.73"/>
<ellipse cx="78.44" cy="138.68" rx="3.49" ry="2.58" transform="rotate(58.33 78.44 138.68)"/>
<circle cx="161.48" cy="26.63" r="3.81"/>
<circle cx="76.27" cy="49.35" r="1.99"/>
<circle cx="25.25" cy="102.91" r="2.87"/>
<circle cx="102.38" cy="97.8" r="2.14"/>
<circle cx="170.16" cy="44.85" r="2.97"/>
<circle cx="21.88" cy="134.2" r="2.49"/>
<circle cx="22.86" cy="80.25" r="3.2"/>
<circle cx="197.88" cy="14.38" r="1.98"/>
<circle cx="147.57" cy="63.51" r="3.99"/>
<circle cx="121.41" cy="87.47" r="2.3"/>
<circle cx="105.85" cy="131.35" r="2.43"/>
<ellipse cx="127.01" cy="144.42" rx="4.29" ry="3.17" transform="rotate(37.2 127.01 144.42)"/>
<circle cx="57.31" cy="163.78" r="1.69"/>
<circle cx="194.07" cy="34.04" r="2.3"/>
<circle cx="140.14" cy="136.79" r="3.96"/>
<circle cx="190.76" cy="9.58" r="2.15"/>
<circle cx="183.39" cy="32.66" r="2.72"/>
<ellipse cx="117.36" cy="112.64" rx="4.18" ry="3.09" transform="rotate(52.18 117.36 112.64)"/>
<circle cx="211.27" cy="25.57" r="2.07"/>
<circle cx="76.81" cy="74.15" r="2.19"/>
<circle cx="40.24" cy="144.86" r="3.43"/>
<circle cx="148.56" cy="14.1" r="3.18"/>
<circle cx="96.16" cy="142.84" r="3.39"/>
<circle cx="26.05" cy="73.17" r="2.39"/>
<circle cx="128.11" cy="31.39" r="2.5"/>
<ellipse cx="218.64" cy="115.96" rx="4.26" ry="3.15" transform="rotate(45.57 218.64 115.96)"/>
<circle cx="72" cy="7.55" r="2.37"/>
<circle cx="65.14" cy="142.23" r="1.71"/>
<circle cx="81.7" cy="67.58" r="2.13"/>
<circle cx="93.8" cy="46.55" r="1.55"/>
<circle cx="140.02" cy="84.65" r="2.38"/>
<circle cx="137.46" cy="9.71" r="2.81"/>
<circle cx="108.15" cy="66.36" r="2.72"/>
<circle cx="125.13" cy="78.24" r="2.19"/>
<circle cx="192.66" cy="41.59" r="2.79"/>
<circle cx="114.5" cy="6.36" r="2.93"/>
<circle cx="29.65" cy="144.47" r="3.23"/>
<circle cx="68.95" cy="135.71" r="1.9"/>
<circle cx="172.73" cy="62.05" r="2.56"/>
<circle cx="131.41" cy="47.48" r="2.32"/>
<circle cx="142.65" cy="71.94" r="3.23"/>
<circle cx="60.89" cy="89.93" r="3.2"/>
<circle cx="37.19" cy="7.68" r="2.65"/>
<circle cx="156.06" cy="162.68" r="2.08"/>
<circle cx="74.28" cy="127.41" r="3.72"/>
<ellipse cx="101.8" cy="120.51" rx="3.45" ry="2.55" transform="rotate(174.37 101.8 120.51)"/>
<circle cx="41.54" cy="66.36" r="2.72"/>
<circle cx="53.67" cy="6.75" r="2.13"/>
<circle cx="21.41" cy="93.53" r="3.69"/>
<circle cx="163.26" cy="71.48" r="2.49"/>
<ellipse cx="198.92" cy="148.99" rx="3.75" ry="2.77" transform="rotate(51.27 198.92 148.99)"/>
<circle cx="82.03" cy="7.66" r="2.14"/>
<circle cx="17.45" cy="129.32" r="1.7"/>
<circle cx="84.6" cy="27.43" r="2.8"/>
<circle cx="96.77" cy="13.96" r="2.74"/>
<circle cx="207.92" cy="12.21" r="1.87"/>
<circle cx="125.96" cy="115.24" r="2.78"/>
<ellipse cx="70.05" cy="44.71" rx="4.37" ry="3.23" transform="rotate(107.4 70.05 44.71)"/>
<circle cx="179.83" cy="140.32" r="2.17"/>
<circle cx="201.57" cy="8.36" r="2.11"/>
<circle cx="90.4" cy="109.2" r="3.06"/>
<circle cx="29.6" cy="111.71" r="1.83"/>
<circle cx="59.58" cy="34.05" r="1.77"/>
<circle cx="81.59" cy="82.18" r="2.55"/>
<circle cx="95.58" cy="155.62" r="2.39"/>
<circle cx="123.12" cy="6.15" r="3.66"/>
<circle cx="190.7" cy="107.66" r="1.76"/>
<circle cx="166.69" cy="126.61" r="3.53"/>
<circle cx="108.14" cy="51.13" r="1.7"/>
<circle cx="68.22" cy="106.71" r="2.67"/>
<circle cx="217.84" cy="70.48" r="2.38"/>
<circle cx="199.06" cy="22.72" r="2.42"/>
<circle cx="148.44" cy="158.38" r="2.1"/>
<circle cx="212.19" cy="43.64" r="1.98"/>
<circle cx="176.57" cy="85.03" r="2.34"/>
<circle cx="117.32" cy="13.68" r="2.1"/>
<circle cx="205.49" cy="161.26" r="2.72"/>
<circle cx="155.1" cy="80.92" r="3.64"/>
<ellipse cx="217.52" cy="38.43" rx="3.84" ry="2.84" transform="rotate(75.11 217.52 38.43)"/>
<circle cx="164.44" cy="36.84" r="3.39"/>
<circle cx="207.97" cy="104.6" r="3.05"/>
<circle cx="17.64" cy="15.83" r="2.67"/>
<circle cx="86.66" cy="119.96" r="2.55"/>
<circle cx="150.33" cy="48.42" r="1.74"/>
<circle cx="65.92" cy="72.03" r="2.3"/>
<circle cx="192.71" cy="68.19" r="2.77"/>
<circle cx="36.28" cy="151.62" r="2.1"/>
<circle cx="159.01" cy="168.21" r="2.2"/>
<circle cx="35.57" cy="134.9" r="1.48"/>
<circle cx="148.39" cy="106.73" r="2.93"/>
<circle cx="213.86" cy="82.24" r="1.92"/>
<circle cx="130.46" cy="164.4" r="1.85"/>
<circle cx="119.49" cy="24.95" r="2.36"/>
<circle cx="34.03" cy="88.55" r="2.78"/>
<circle cx="60.4" cy="78.62" r="1.93"/>
<circle cx="189.55" cy="21.62" r="2.07"/>
<circle cx="18.18" cy="29.73" r="2.07"/>
<circle cx="116.66" cy="154.17" r="1.59"/>
<circle cx="77.09" cy="39.73" r="2.03"/>
<circle cx="97.55" cy="41.04" r="2.06"/>
<circle cx="213.13" cy="5.66" r="3.38"/>
<circle cx="74.3" cy="116.07" r="1.9"/>
<circle cx="61.96" cy="45.58" r="1.56"/>
<circle cx="183.15" cy="133.86" r="2.63"/>
<circle cx="171.77" cy="12.37" r="1.98"/>
<circle cx="113.75" cy="59.55" r="1.79"/>
<circle cx="33.03" cy="116.96" r="2.19"/>
<circle cx="199.05" cy="123.91" r="2.18"/>
<circle cx="88.61" cy="140.97" r="2.05"/>
<circle cx="59.07" cy="72.57" r="2.42"/>
<circle cx="198.91" cy="157.19" r="2.64"/>
<circle cx="205.35" cy="85.5" r="3.46"/>
<ellipse cx="216.04" cy="58.33" rx="4.27" ry="3.16" transform="rotate(71.02 216.04 58.33)"/>
<circle cx="134.82" cy="152.09" r="3.24"/>
<circle cx="90.26" cy="160.56" r="2.9"/>
<circle cx="185.46" cy="165.64" r="1.82"/>
<circle cx="74.44" cy="96.53" r="2.84"/>
<circle cx="155.99" cy="61.22" r="2.77"/>
<circle cx="119.15" cy="97.38" r="3.34"/>
<circle cx="31.37" cy="94.74" r="1.85"/>
<circle cx="16.55" cy="157.68" r="1.8"/>
<circle cx="77.24" cy="59.58" r="3.07"/>
<circle cx="215.11" cy="160.39" r="2.43"/>
<circle cx="219.29" cy="98.27" r="3.37"/>
<circle cx="123.33" cy="59.54" r="3.13"/>
<circle cx="63.81" cy="149.21" r="2.1"/>
<circle cx="83.91" cy="43.6" r="2.9"/>
<circle cx="133.15" cy="98.59" r="1.49"/>
<circle cx="32.03" cy="129.79" r="2.52"/>
<circle cx="161.76" cy="159.67" r="2.42"/>
<circle cx="30.62" cy="34.83" r="3.24"/>
<circle cx="41.12" cy="57.22" r="1.84"/>
<circle cx="123.45" cy="159.92" r="2.03"/>
<circle cx="83.41" cy="97.78" r="2.84"/>
<circle cx="198.21" cy="102.58" r="3.2"/>
<circle cx="188.59" cy="80.81" r="2.37"/>
<circle cx="209.28" cy="51.11" r="2.02"/>
<circle cx="16.65" cy="83.18" r="1.95"/>
<circle cx="144.9" cy="80.36" r="1.86"/>
<circle cx="216.37" cy="147.49" r="2.73"/>
<circle cx="143.07" cy="25.06" r="1.62"/>
<circle cx="99.14" cy="69.23" r="1.68"/>
<circle cx="161.05" cy="10.91" r="2.25"/>
<circle cx="21.49" cy="48.29" r="1.87"/>
<ellipse cx="90.31" cy="75.73" rx="3.72" ry="2.75" transform="rotate(146.8 90.31 75.73)"/>
<circle cx="26.64" cy="62.81" r="3.31"/>
<circle cx="203.7" cy="134.08" r="1.76"/>
<ellipse cx="213.67" cy="133.67" rx="3.49" ry="2.58" transform="rotate(47.52 213.67 133.67)"/>
<circle cx="178.65" cy="11.31" r="1.63"/>
<circle cx="110.83" cy="105.42" r="2.5"/>
<circle cx="142.29" cy="38.63" r="2.73"/>
<ellipse cx="192.6" cy="88" rx="4.11" ry="3.03" transform="rotate(157.61 192.6 88)"/>
<circle cx="149.3" cy="41.58" r="1.97"/>
<circle cx="50.31" cy="64.14" r="2.49"/>
<circle cx="71.82" cy="63.32" r="1.67"/>
<circle cx="84.76" cy="148.65" r="2.72"/>
<circle cx="154.11" cy="32.63" r="3.2"/>
<circle cx="62.21" cy="64.28" r="2.55"/>
<circle cx="152.44" cy="144" r="2.08"/>
<circle cx="47.15" cy="115.87" r="1.63"/>
<circle cx="19.31" cy="55.44" r="2.13"/>
<circle cx="167.89" cy="79.1" r="3.45"/>
<circle cx="62.23" cy="99.72" r="2.34"/>
<circle cx="31.41" cy="167.5" r="1.83"/>
<circle cx="178.91" cy="121.81" r="1.92"/>
<circle cx="51.33" cy="80.64" r="2.64"/>
<circle cx="27.67" cy="10.11" r="2.4"/>
<circle cx="72.89" cy="155.06" r="1.73"/>
<circle cx="151.73" cy="24.21" r="3.67"/>
<circle cx="56.91" cy="109.58" r="2.04"/>
<circle cx="131.9" cy="87.86" r="3.2"/>
<circle cx="78.71" cy="166.57" r="1.5"/>
<circle cx="219.37" cy="20.79" r="2.31"/>
<circle cx="192.49" cy="60.58" r="2.66"/>
<circle cx="215.87" cy="126.01" r="3.2"/>
<circle cx="154.04" cy="99.17" r="3.1"/>
<circle cx="117.32" cy="19.25" r="1.62"/>
<circle cx="134.07" cy="38.72" r="3.3"/>
<circle cx="107.29" cy="145.17" r="1.53"/>
<circle cx="142.22" cy="154.63" r="2.36"/>
<ellipse cx="138.19" cy="116.97" rx="3.92" ry="2.9" transform="rotate(30.61 138.19 116.97)"/>
<ellipse cx="27.99" cy="26.09" rx="3.73" ry="2.75" transform="rotate(92.26 27.99 26.09)"/>
<circle cx="132.05" cy="20.6" r="2.68"/>
<circle cx="25.92" cy="120.2" r="3.59"/>
<circle cx="201.89" cy="33.79" r="3.75"/>
<ellipse cx="41.16" cy="45.57" rx="4.34" ry="3.21" transform="rotate(139.57 41.16 45.57)"/>
<circle cx="215.99" cy="91.63" r="1.97"/>
<circle cx="68.6" cy="26.37" r="1.76"/>
<circle cx="122.19" cy="37.86" r="3.62"/>
<circle cx="170.23" cy="138.73" r="2.62"/>
<circle cx="182.8" cy="159.17" r="2.39"/>
<circle cx="83.13" cy="157.09" r="2.36"/>
<ellipse cx="66.08" cy="124.5" rx="3.59" ry="2.65" transform="rotate(56.67 66.08 124.5)"/>
<circle cx="127.44" cy="70.12" r="2.78"/>
<circle cx="34.92" cy="106.66" r="1.55"/>
<circle cx="76.79" cy="23.36" r="1.8"/>
<circle cx="184.58" cy="92.62" r="1.7"/>
<circle cx="41.31" cy="77.63" r="2.88"/>
<circle cx="187.6" cy="143.75" r="3.18"/>
<circle cx="20.22" cy="146.87" r="2.37"/>
<circle cx="87.16" cy="166.81" r="1.73"/>
<circle cx="189.95" cy="131.23" r="2.53"/>
<circle cx="199.03" cy="69.61" r="1.68"/>
<ellipse cx="167.79" cy="19.55" rx="3.89" ry="2.87" transform="rotate(46.5 167.79 19.55)"/>
<circle cx="105.82" cy="139.4" r="1.53"/>
<circle cx="51.97" cy="72.52" r="2.21"/>
<circle cx="140.31" cy="147.97" r="1.52"/>
<circle cx="47.83" cy="163.21" r="2.16"/>
<circle cx="113.91" cy="38.71" r="2.13"/>
<circle cx="40.95" cy="106.5" r="2.34"/>
<circle cx="86.83" cy="20.24" r="2.3"/>
<circle cx="193.36" cy="115.82" r="2.98"/>
<circle cx="129.55" cy="8.83" r="1.56"/>
<circle cx="139.57" cy="95.25" r="2.28"/>
<circle cx="184.53" cy="5.72" r="1.79"/>
<circle cx="44.73" cy="87.65" r="2.44"/>
<circle cx="142.51" cy="53.42" r="1.84"/>
<ellipse cx="176.2" cy="163.98" rx="3.55" ry="2.62" transform="rotate(98.34 176.2 163.98)"/>
<circle cx="104.62" cy="166.47" r="3.94"/>
<circle cx="176.93" cy="156.56" r="2.12"/>
<circle cx="201.71" cy="114.98" r="2.54"/>
<circle cx="62.38" cy="117.53" r="2.98"/>
<ellipse cx="208.46" cy="75.6" rx="4.29" ry="3.17" transform="rotate(61.47 208.46 75.6)"/>
<ellipse cx="46" cy="124.65" rx="3.5" ry="2.58" transform="rotate(52.26 46 124.65)"/>
<circle cx="47.82" cy="107.81" r="1.9"/>
<circle cx="63.55" cy="132.29" r="2.53"/>
<circle cx="185.25" cy="64.58" r="2.79"/>
<circle cx="176.33" cy="16.83" r="2.1"/>
<circle cx="182.71" cy="51.96" r="2.23"/>
<circle cx="102.25" cy="84.09" r="1.72"/>
<ellipse cx="47.7" cy="99.16" rx="4.28" ry="3.16" transform="rotate(6.08 47.7 99.16)"/>
<circle cx="143.22" cy="164.54" r="3.27"/>
<circle cx="49.83" cy="48.29" r="2.44"/>
<circle cx="113.37" cy="145.74" r="1.58"/>
<circle cx="104.97" cy="39.6" r="1.94"/>
<circle cx="105.53" cy="18.72" r="2.11"/>
<circle cx="119.18" cy="66.28" r="3"/>
<ellipse cx="16.41" cy="38.78" rx="3.97" ry="2.93" transform="rotate(17.93 16.41 38.78)"/>
<circle cx="219.66" cy="138.55" r="2.32"/>
<circle cx="168.33" cy="86.28" r="1.96"/>
<circle cx="203.39" cy="141.54" r="3.51"/>
<ellipse cx="69.46" cy="167.75" rx="3.8" ry="2.81" transform="rotate(40.61 69.46 167.75)"/>
<circle cx="65.66" cy="17.93" r="2.47"/>
<circle cx="217" cy="166" r="1.74"/>
<circle cx="33.28" cy="68.69" r="3.21"/>
<circle cx="49.64" cy="30.45" r="3.93"/>
<circle cx="155.42" cy="155.58" r="2.4"/>
<circle cx="22.24" cy="5.7" r="2.79"/>
<circle cx="206.56" cy="128.6" r="2.68"/>
<circle cx="170.4" cy="31.47" r="2.5"/>
<circle cx="59.96" cy="141.26" r="1.46"/>
<circle cx="93.06" cy="67.94" r="2.13"/>
<circle cx="103.73" cy="110.09" r="1.93"/>
<circle cx="100.28" cy="5.34" r="1.83"/>
<circle cx="128.37" cy="107.58" r="2.93"/>
<circle cx="32.66" cy="78.78" r="1.82"/>
<circle cx="191.6" cy="54.15" r="1.7"/>
<circle cx="170.83" cy="112.45" r="2.77"/>
<circle cx="169.68" cy="167.64" r="2.07"/>
<circle cx="159.73" cy="148.65" r="1.77"/>
<circle cx="171.6" cy="51.82" r="1.55"/>
<circle cx="148.47" cy="92.53" r="3.46"/>
<circle cx="39.34" cy="95.93" r="1.53"/>
<circle cx="43.17" cy="134.06" r="2.16"/>
<circle cx="70.33" cy="149.43" r="2.51"/>
<circle cx="88.6" cy="7.15" r="2.43"/>
<circle cx="198.63" cy="131.67" r="1.76"/>
<ellipse cx="158" cy="117.27" rx="4.23" ry="3.13" transform="rotate(118.04 158 117.27)"/>
<circle cx="215.51" cy="106.33" r="2.74"/>
<circle cx="179.53" cy="41.7" r="2.61"/>
<circle cx="140.52" cy="105.61" r="2.45"/>
<circle cx="39.56" cy="114.18" r="2.61"/>
<circle cx="185.46" cy="11.78" r="1.55"/>
<circle cx="38.86" cy="126" r="1.75"/>
<circle cx="104.72" cy="89.04" r="1.81"/>
<circle cx="77.65" cy="161.21" r="2.19"/>
<circle cx="108.53" cy="44.56" r="2.4"/>
<circle cx="76.45" cy="147.05" r="1.44"/>
<circle cx="194.53" cy="139.5" r="2.7"/>
<circle cx="188.91" cy="74.2" r="1.73"/>
<circle cx="114.49" cy="51.49" r="2.67"/>
<circle cx="91.31" cy="99.47" r="2.74"/>
<circle cx="98.34" cy="149.95" r="1.43"/>
<circle cx="99.72" cy="51.19" r="1.95"/>
<circle cx="17.94" cy="101.43" r="2.74"/>
<circle cx="59.3" cy="25.21" r="3"/>
<circle cx="25.41" cy="54.72" r="2.17"/>
<circle cx="45.69" cy="16.91" r="1.89"/>
<circle cx="97.91" cy="74.96" r="1.74"/>
<circle cx="45.12" cy="5.24" r="2.03"/>
<circle cx="87.34" cy="61.82" r="1.42"/>
<circle cx="99.19" cy="103.95" r="1.73"/>
<circle cx="107.97" cy="95.69" r="1.82"/>
<circle cx="123.6" cy="16.82" r="1.7"/>
<circle cx="175.65" cy="145.41" r="2.38"/>
<circle cx="165.14" cy="92.36" r="2.02"/>
<ellipse cx="173.83" cy="103.24" rx="4.16" ry="3.08" transform="rotate(115.66 173.83 103.24)"/>
<circle cx="165.55" cy="60.08" r="1.56"/>
<circle cx="208.36" cy="167.93" r="2.42"/>
<circle cx="53.94" cy="148.88" r="2.97"/>
<circle cx="187.4" cy="38.01" r="1.57"/>
<circle cx="191.81" cy="154.17" r="2.12"/>
<circle cx="153.58" cy="52.82" r="1.52"/>
<circle cx="125.26" cy="23" r="1.61"/>
<circle cx="109.64" cy="159.46" r="1.91"/>
<circle cx="40.46" cy="161.73" r="1.53"/>
<circle cx="150.16" cy="151.42" r="2.52"/>
<circle cx="136.27" cy="53.88" r="2.46"/>
<circle cx="210.58" cy="34.94" r="1.91"/>
<circle cx="79.74" cy="92.92" r="1.5"/>
<circle cx="30.35" cy="4.9" r="1.51"/>
<circle cx="203.99" cy="16.5" r="1.74"/>
<circle cx="123.42" cy="165.51" r="1.52"/>
<circle cx="212.44" cy="16.68" r="1.9"/>
<circle cx="51.34" cy="129.62" r="1.72"/>
<circle cx="82.82" cy="115.02" r="1.49"/>
<circle cx="79.05" cy="15.26" r="3.43"/>
<circle cx="169.68" cy="67.75" r="1.63"/>
<circle cx="99.3" cy="30.02" r="2.05"/>
<circle cx="16.92" cy="9.44" r="1.71"/>
<circle cx="159.63" cy="86.67" r="1.82"/>
<circle cx="209.76" cy="116.54" r="1.72"/>
<circle cx="98.92" cy="126.86" r="1.72"/>
<circle cx="62.95" cy="110.3" r="1.58"/>
<circle cx="108.91" cy="111.38" r="1.63"/>
<circle cx="138.63" cy="65.49" r="2.35"/>
<circle cx="35.82" cy="59.64" r="1.66"/>
<circle cx="22.78" cy="127.21" r="1.47"/>
<circle cx="217.67" cy="13" r="1.67"/>
<circle cx="40.23" cy="168.58" r="3.08"/>
<circle cx="111.74" cy="18.46" r="1.51"/>
<circle cx="54.97" cy="101.7" r="1.87"/>
<circle cx="117.48" cy="142.06" r="2.15"/>
<circle cx="149.86" cy="71.24" r="2.19"/>
<circle cx="115.11" cy="120.82" r="1.79"/>
<circle cx="53.16" cy="115.52" r="2.59"/>
<circle cx="90.43" cy="38.86" r="2.22"/>
<circle cx="84.47" cy="53.33" r="3"/>
<circle cx="67.01" cy="36.93" r="2.13"/>
<circle cx="189.95" cy="95.05" r="2.1"/>
<circle cx="69.65" cy="89.8" r="3.31"/>
<circle cx="35.01" cy="163.03" r="1.56"/>
<circle cx="136.7" cy="160.35" r="1.62"/>
<circle cx="83.81" cy="106.56" r="1.79"/>
<circle cx="29.25" cy="135.85" r="2.32"/>
<circle cx="136.36" cy="16.3" r="1.56"/>
<circle cx="202.52" cy="168.11" r="1.41"/>
<circle cx="33.74" cy="101.27" r="1.46"/>
<circle cx="16.77" cy="109.32" r="1.66"/>
<circle cx="121.29" cy="148.43" r="1.55"/>
<circle cx="52.28" cy="87.97" r="2.43"/>
<circle cx="159.47" cy="48.32" r="1.44"/>
<circle cx="85.41" cy="34.5" r="1.83"/>
<circle cx="47.04" cy="54.62" r="1.64"/>
<circle cx="130.69" cy="133.75" r="3.28"/>
<circle cx="187.32" cy="48.49" r="1.47"/>
<circle cx="125.56" cy="152.98" r="2.88"/>
<circle cx="197.15" cy="4.74" r="1.83"/>
<circle cx="218.92" cy="29.69" r="2.82"/>
<circle cx="107.98" cy="56.26" r="1.6"/>
<circle cx="134.62" cy="142" r="1.61"/>
<circle cx="118.59" cy="105.11" r="1.63"/>
<circle cx="156.82" cy="92.68" r="2.14"/>
<circle cx="143.01" cy="46.57" r="2.14"/>
<circle cx="194.13" cy="76.02" r="1.75"/>
<circle cx="36.19" cy="30.1" r="2.14"/>
<circle cx="42.52" cy="12.2" r="2"/>
<circle cx="196.48" cy="95.87" r="1.7"/>
<circle cx="93.22" cy="117.23" r="1.69"/>
<circle cx="45.34" cy="72.25" r="1.58"/>
<circle cx="206.97" cy="39.43" r="2.06"/>
<circle cx="156.36" cy="68.24" r="1.97"/>
<circle cx="143.78" cy="5.23" r="1.88"/>
<circle cx="105.32" cy="33.19" r="2.4"/>
<circle cx="147.72" cy="139.31" r="2.29"/>
<circle cx="155.05" cy="106.03" r="1.87"/>
<circle cx="173.46" cy="90.97" r="1.77"/>
<circle cx="135.99" cy="167.96" r="2.68"/>
<circle cx="57.39" cy="83.79" r="2"/>
<circle cx="169.36" cy="158.7" r="1.86"/>
<circle cx="43.72" cy="93.46" r="1.52"/>
<circle cx="63.14" cy="83.67" r="1.51"/>
<circle cx="180.18" cy="97.9" r="1.48"/>
<circle cx="16.62" cy="50.44" r="1.54"/>
<circle cx="56.78" cy="136.45" r="2.47"/>
<circle cx="115.22" cy="79.52" r="1.74"/>
<circle cx="61.75" cy="5.43" r="1.59"/>
<circle cx="201.79" cy="93.14" r="1.81"/>
<circle cx="182.3" cy="79.03" r="2.4"/>
<circle cx="83.59" cy="125.4" r="1.59"/>
<circle cx="180.69" cy="106.12" r="1.72"/>
<circle cx="86.18" cy="13.09" r="1.9"/>
<circle cx="101.54" cy="64.59" r="1.43"/>
<circle cx="105.44" cy="103.07" r="1.46"/>
<circle cx="155.81" cy="5.19" r="2.87"/>
<circle cx="166.45" cy="5.01" r="1.92"/>
<circle cx="18.5" cy="118.01" r="1.54"/>
<circle cx="151.16" cy="167.38" r="2.99"/>
<circle cx="16.07" cy="76.5" r="2.06"/>
<circle cx="68.53" cy="116.04" r="1.54"/>
<circle cx="78.59" cy="152.2" r="2.2"/>
<circle cx="211.82" cy="154.4" r="1.52"/>
<circle cx="98.7" cy="35.66" r="1.54"/>
<circle cx="173.31" cy="37.27" r="1.67"/>
<circle cx="98.17" cy="114.51" r="1.98"/>
<circle cx="55.69" cy="66.46" r="1.6"/>
<circle cx="142.94" cy="18.64" r="1.92"/>
<circle cx="94.55" cy="167.51" r="1.6"/>
<circle cx="35.59" cy="18" r="1.73"/>
<circle cx="219.51" cy="78.49" r="2.94"/>
<circle cx="70.39" cy="160.13" r="1.87"/>
<circle cx="75.27" cy="68.1" r="1.89"/>
<circle cx="149.29" cy="114.44" r="1.53"/>
<circle cx="17.09" cy="139.88" r="1.62"/>
<circle cx="164.73" cy="164.56" r="1.45"/>
<circle cx="57.65" cy="47.54" r="1.4"/>
<circle cx="197.5" cy="63.6" r="1.42"/>
<circle cx="183.91" cy="86.19" r="2.98"/>
<circle cx="73.3" cy="54.05" r="1.54"/>
<circle cx="114.26" cy="127.62" r="2.35"/>
<circle cx="29.27" cy="43.96" r="1.41"/>
<circle cx="145.77" cy="146.54" r="1.89"/>
<circle cx="130.08" cy="158.73" r="2.07"/>
<circle cx="79.96" cy="33.7" r="1.76"/>
<circle cx="101.88" cy="45.04" r="1.91"/>
<circle cx="34.49" cy="139.6" r="1.57"/>
<circle cx="37.8" cy="36.38" r="2.09"/>
<circle cx="86.47" cy="134.66" r="1.64"/>
<circle cx="189.56" cy="28.53" r="2.34"/>
<circle cx="135.59" cy="110.57" r="1.41"/>
<circle cx="79.71" cy="122.14" r="1.59"/>
<circle cx="71.83" cy="18.75" r="1.7"/>
<circle cx="64.32" cy="31.8" r="1.51"/>
<circle cx="110.9" cy="116.91" r="1.74"/>
<circle cx="140.62" cy="59.61" r="2"/>
<circle cx="24.46" cy="40.68" r="1.92"/>
<circle cx="84.95" cy="91.52" r="1.74"/>
<circle cx="218.38" cy="154.13" r="1.8"/>
<circle cx="184.15" cy="17.87" r="1.82"/>
<circle cx="134.85" cy="71.9" r="1.77"/>
<circle cx="205.54" cy="25.33" r="1.62"/>
<circle cx="175.09" cy="78.46" r="1.49"/>
<circle cx="206.17" cy="121.8" r="2.25"/>
<circle cx="171.86" cy="119.91" r="1.86"/>
<circle cx="20.92" cy="22.73" r="2.62"/>
<circle cx="131.58" cy="120.27" r="2.15"/>
<circle cx="50.74" cy="22.33" r="1.84"/>
<circle cx="129.55" cy="53.67" r="2.14"/>
<circle cx="144.32" cy="113" r="1.49"/>
<circle cx="146.9" cy="85.59" r="1.63"/>
<circle cx="66.07" cy="9.64" r="1.7"/>
<circle cx="116.31" cy="44.39" r="1.77"/>
<circle cx="115.71" cy="33.07" r="1.49"/>
<circle cx="184.85" cy="24.85" r="1.78"/>
<circle cx="159.08" cy="55.64" r="1.83"/>
<circle cx="92.48" cy="150.41" r="1.93"/>
<circle cx="157.18" cy="74.01" r="1.47"/>
<circle cx="121.82" cy="138" r="1.6"/>
<circle cx="188.79" cy="159.37" r="1.42"/>
<circle cx="126.67" cy="43.87" r="1.6"/>
<circle cx="180.24" cy="151.42" r="1.49"/>
<circle cx="81.21" cy="130.94" r="1.63"/>
<circle cx="116.77" cy="159.89" r="1.67"/>
<circle cx="165.06" cy="115.9" r="1.55"/>
<circle cx="23.01" cy="34.87" r="2.19"/>
<circle cx="209.94" cy="139.04" r="1.75"/>
<circle cx="25.56" cy="149.94" r="1.85"/>
<circle cx="147.42" cy="33.4" r="1.67"/>
<circle cx="23.4" cy="141.03" r="2.11"/>
<circle cx="133.72" cy="29.26" r="1.74"/>
<circle cx="64.04" cy="155.07" r="1.57"/>
<circle cx="164.95" cy="144.14" r="3.07"/>
<circle cx="69.01" cy="100.17" r="1.74"/>
<circle cx="27.4" cy="88.29" r="1.69"/>
<circle cx="59.85" cy="40.31" r="1.79"/>
<circle cx="52.81" cy="168.24" r="2.81"/>
<circle cx="184.52" cy="128.08" r="1.59"/>
<circle cx="160.96" cy="97.07" r="1.76"/>
<circle cx="147.26" cy="99.96" r="1.44"/>
<circle cx="120.71" cy="120.93" r="1.73"/>
<circle cx="178.86" cy="92.65" r="1.49"/>
<circle cx="192.6" cy="16.43" r="1.92"/>
<circle cx="103.06" cy="59.76" r="1.74"/>
<circle cx="152.32" cy="134.75" r="1.84"/>
<circle cx="70.95" cy="143.27" r="1.75"/>
<circle cx="37.86" cy="83.44" r="1.64"/>
<circle cx="132.47" cy="65.89" r="2.05"/>
<circle cx="29.21" cy="82.78" r="1.47"/>
<circle cx="129.6" cy="126.71" r="2.09"/>
<circle cx="213.16" cy="65.09" r="1.73"/>
<circle cx="90.01" cy="49.74" r="1.67"/>
<circle cx="17.71" cy="123.59" r="2.06"/>
<circle cx="50.49" cy="135.49" r="1.48"/>
<circle cx="78.9" cy="87.87" r="1.83"/>
<circle cx="40.79" cy="120.34" r="1.86"/>
<circle cx="16.28" cy="151.52" r="1.8"/>
<circle cx="186.84" cy="56.43" r="1.5"/>
<circle cx="133" cy="4.97" r="1.43"/>
<circle cx="111.31" cy="152.78" r="1.83"/>
<circle cx="30.71" cy="56.99" r="1.74"/>
<circle cx="186.09" cy="43.56" r="1.47"/>
<circle cx="208.39" cy="111.02" r="1.45"/>
<circle cx="29.61" cy="161.98" r="2.05"/>
<circle cx="137.75" cy="45.38" r="1.41"/>
<circle cx="197.53" cy="109.21" r="1.43"/>
<circle cx="35.52" cy="54.06" r="1.99"/>
<circle cx="195.16" cy="48.1" r="2.08"/>
<circle cx="61.88" cy="166.35" r="1.8"/>
<circle cx="164.06" cy="65.49" r="1.6"/>
<circle cx="121.37" cy="45.18" r="1.63"/>
<circle cx="99.55" cy="19.74" r="1.86"/>
<circle cx="160" cy="128.25" r="1.63"/>
<circle cx="219.69" cy="85.84" r="2.48"/>
<circle cx="163.12" cy="44.39" r="1.86"/>
<circle cx="83.01" cy="75" r="2.15"/>
<circle cx="176.74" cy="48.59" r="1.78"/>
<circle cx="149.08" cy="55.77" r="1.79"/>
</g>
</g>
</g>
<rect x="133" y="149.7" width="77.7" height="4.8" fill="#fff" stroke="none" stroke-width="1" />
<text x="170.8" y="145" font-size="9.8" text-anchor="middle" font-weight="bold" fill="#fff" >1 µm</text>
<text x="5.2" y="14.3" font-size="14.5" text-anchor="start" font-weight="bold" fill="#000" >a</text>
<line x1="269.9" y1="8.3" x2="269.9" y2="160.6" stroke="#6474f2" stroke-width="0.9" stroke-dasharray="6,6.3"/>
<line x1="285.4" y1="8.3" x2="285.4" y2="160.6" stroke="#6474f2" stroke-width="0.9" stroke-dasharray="6,6.3"/>
<line x1="300.9" y1="8.3" x2="300.9" y2="160.6" stroke="#6474f2" stroke-width="0.9" stroke-dasharray="6,6.3"/>
<line x1="316.4" y1="8.3" x2="316.4" y2="160.6" stroke="#6474f2" stroke-width="0.9" stroke-dasharray="6,6.3"/>
<line x1="331.9" y1="8.3" x2="331.9" y2="160.6" stroke="#6474f2" stroke-width="0.9" stroke-dasharray="6,6.3"/>
<line x1="347.4" y1="8.3" x2="347.4" y2="160.6" stroke="#6474f2" stroke-width="0.9" stroke-dasharray="6,6.3"/>
<line x1="362.9" y1="8.3" x2="362.9" y2="160.6" stroke="#6474f2" stroke-width="0.9" stroke-dasharray="6,6.3"/>
<line x1="378.4" y1="8.3" x2="378.4" y2="160.6" stroke="#6474f2" stroke-width="0.9" stroke-dasharray="6,6.3"/>
<line x1="393.9" y1="8.3" x2="393.9" y2="160.6" stroke="#6474f2" stroke-width="0.9" stroke-dasharray="6,6.3"/>
<line x1="409.4" y1="8.3" x2="409.4" y2="160.6" stroke="#6474f2" stroke-width="0.9" stroke-dasharray="6,6.3"/>
<line x1="424.9" y1="8.3" x2="424.9" y2="160.6" stroke="#6474f2" stroke-width="0.9" stroke-dasharray="6,6.3"/>
<line x1="440.4" y1="8.3" x2="440.4" y2="160.6" stroke="#6474f2" stroke-width="0.9" stroke-dasharray="6,6.3"/>
<g clip-path="url(#clipB)">
<path d="M254.4 140.66 L254.49 139.94 L254.57 139.71 L254.66 138.77 L254.74 140.51 L254.83 139.3 L254.92 146.3 L255 143.15 L255.09 139.69 L255.18 142.12 L255.26 140.38 L255.35 146.58 L255.43 144.05 L255.52 145.93 L255.61 143.85 L255.69 143.8 L255.78 148.27 L255.86 146.9 L255.95 146.6 L256.04 141.93 L256.12 143.26 L256.21 148.07 L256.29 143.39 L256.38 148.6 L256.47 145.13 L256.55 149.06 L256.64 150.2 L256.73 143.74 L256.81 148.98 L256.9 149.12 L256.98 143.45 L257.07 144.47 L257.16 149.11 L257.24 144.16 L257.33 147.57 L257.41 146.7 L257.5 150.49 L257.59 145.06 L257.67 147.15 L257.76 145.23 L257.84 145.97 L257.93 150.7 L258.02 150.41 L258.1 152.08 L258.19 152.42 L258.27 153.22 L258.36 149.76 L258.45 145.79 L258.53 148.71 L258.62 141.9 L258.71 142.84 L258.79 141.39 L258.88 135.85 L258.96 136.77 L259.05 136.37 L259.14 133.44 L259.22 130.08 L259.31 133.36 L259.39 124.69 L259.48 130.3 L259.57 124.75 L259.65 124.14 L259.74 130.56 L259.82 124.79 L259.91 128.12 L260 126.61 L260.08 131.07 L260.17 130.9 L260.26 129.98 L260.34 124.18 L260.43 130.08 L260.51 125.92 L260.6 124.71 L260.69 124.72 L260.77 129.4 L260.86 129.43 L260.94 128.24 L261.03 126.44 L261.12 131.64 L261.2 126.87 L261.29 126.6 L261.38 126.24 L261.46 132.63 L261.55 125.8 L261.63 132.44 L261.72 130.64 L261.81 128.69 L261.89 126.46 L261.98 130.98 L262.06 126.63 L262.15 129.64 L262.24 131.52 L262.32 131.6 L262.41 132.77 L262.49 133.64 L262.58 133.21 L262.67 129.2 L262.75 126.96 L262.84 133.45 L262.93 134.42 L263.01 127.37 L263.1 130.94 L263.18 132.03 L263.27 133.42 L263.36 130.81 L263.44 129.15 L263.53 132.09 L263.61 132.46 L263.7 135.36 L263.79 128.91 L263.87 135.76 L263.96 132.35 L264.04 129.83 L264.13 135.35 L264.22 130.87 L264.3 129.31 L264.39 131.86 L264.48 130.77 L264.56 136.08 L264.65 133.69 L264.73 135.98 L264.82 130.78 L264.91 135.09 L264.99 133.99 L265.08 129.93 L265.16 131.16 L265.25 130.33 L265.34 134.43 L265.42 134.28 L265.51 132.54 L265.59 134.57 L265.68 136.11 L265.77 135.36 L265.85 137.44 L265.94 135.79 L266.02 131.23 L266.11 131.56 L266.2 134.21 L266.28 135.3 L266.37 136.64 L266.46 138.65 L266.54 137.36 L266.63 133.58 L266.71 133.04 L266.8 137.01 L266.89 133.88 L266.97 134.08 L267.06 134.8 L267.14 135.15 L267.23 134.53 L267.32 137.66 L267.4 135.17 L267.49 138.51 L267.57 137.06 L267.66 135 L267.75 135.72 L267.83 138.86 L267.92 133.99 L268.01 136.36 L268.09 137 L268.18 141.46 L268.26 137.48 L268.35 139.85 L268.44 136.75 L268.52 138.45 L268.61 135.86 L268.69 137.26 L268.78 136.23 L268.87 139.77 L268.95 137.62 L269.04 137.02 L269.12 136.44 L269.21 140.2 L269.3 136.55 L269.38 136.45 L269.47 137.95 L269.56 135.86 L269.64 136.12 L269.73 139.58 L269.81 139.61 L269.9 142.49 L269.99 137.18 L270.07 136.23 L270.16 139.57 L270.24 137.76 L270.33 137.37 L270.42 137.13 L270.5 141.23 L270.59 136.42 L270.68 137.79 L270.76 136.99 L270.85 138.71 L270.93 137.02 L271.02 135.72 L271.11 136.63 L271.19 135.86 L271.28 141.02 L271.36 139.88 L271.45 137.6 L271.54 135.88 L271.62 139.05 L271.71 135.37 L271.79 135.67 L271.88 140.05 L271.97 136.66 L272.05 138.43 L272.14 139.63 L272.23 138.92 L272.31 137.42 L272.4 138.36 L272.48 138.17 L272.57 139.28 L272.66 135.9 L272.74 136.46 L272.83 134.6 L272.91 134.68 L273 137.29 L273.09 132.12 L273.17 138.93 L273.26 135.76 L273.34 136.65 L273.43 135.57 L273.52 137.75 L273.6 132.21 L273.69 135.63 L273.77 138.14 L273.86 133.66 L273.95 137.55 L274.03 134.05 L274.12 135.56 L274.21 133.65 L274.29 130.71 L274.38 131.72 L274.46 134.71 L274.55 131.64 L274.64 132.89 L274.72 134.92 L274.81 136.6 L274.89 133.08 L274.98 133.28 L275.07 130.22 L275.15 130.09 L275.24 132.79 L275.32 134.71 L275.41 130.52 L275.5 137.29 L275.58 136.43 L275.67 132.89 L275.76 132.47 L275.84 136.05 L275.93 132.28 L276.01 130.24 L276.1 134.14 L276.19 133.68 L276.27 135.21 L276.36 134.67 L276.44 129.44 L276.53 133.93 L276.62 129.46 L276.7 129.79 L276.79 132.18 L276.88 134.72 L276.96 129.18 L277.05 132.85 L277.13 133.44 L277.22 134.14 L277.31 129.04 L277.39 132.77 L277.48 134.31 L277.56 132.83 L277.65 135.52 L277.74 131.68 L277.82 133.01 L277.91 134.14 L277.99 130.38 L278.08 130.01 L278.17 136.2 L278.25 132.22 L278.34 134.17 L278.43 129.1 L278.51 130.25 L278.6 134.32 L278.68 134.14 L278.77 134.98 L278.86 128.59 L278.94 133.88 L279.03 131.46 L279.11 132.46 L279.2 131.15 L279.29 131.44 L279.37 130.36 L279.46 135.12 L279.54 130.2 L279.63 133.69 L279.72 131.9 L279.8 133.39 L279.89 133.68 L279.98 131.89 L280.06 132.37 L280.15 133.15 L280.23 130.2 L280.32 131.37 L280.41 135.59 L280.49 133.93 L280.58 132.36 L280.66 128.83 L280.75 129.04 L280.84 131.64 L280.92 135.68 L281.01 129.84 L281.09 132.51 L281.18 131.37 L281.27 130.35 L281.35 130.92 L281.44 132.05 L281.52 128.76 L281.61 132.77 L281.7 132.71 L281.78 129.19 L281.87 134.19 L281.96 133.42 L282.04 129.33 L282.13 135.16 L282.21 129.27 L282.3 130.34 L282.39 132.34 L282.47 133.45 L282.56 129.66 L282.64 128.66 L282.73 134.52 L282.82 131.95 L282.9 131.41 L282.99 131.79 L283.07 133.06 L283.16 134.41 L283.25 131.1 L283.33 129.37 L283.42 135.04 L283.51 133.8 L283.59 129.29 L283.68 129.5 L283.76 130.47 L283.85 135.34 L283.94 130.01 L284.02 128.05 L284.11 127.9 L284.19 130.16 L284.28 135.14 L284.37 129.08 L284.45 133.83 L284.54 130.57 L284.62 128.22 L284.71 130.05 L284.8 134.46 L284.88 133.25 L284.97 128.47 L285.06 134.33 L285.14 130.81 L285.23 132.3 L285.31 134.23 L285.4 130.71 L285.49 135.14 L285.57 134.68 L285.66 132.64 L285.74 135.03 L285.83 135.18 L285.92 131.26 L286 130.03 L286.09 129.04 L286.18 134.77 L286.26 132.55 L286.35 133.49 L286.43 131.37 L286.52 132.26 L286.61 128.89 L286.69 133.26 L286.78 135.75 L286.86 130.91 L286.95 135.14 L287.04 131.53 L287.12 132.55 L287.21 129.52 L287.29 132.3 L287.38 131.86 L287.47 134.66 L287.55 132.52 L287.64 134.86 L287.73 131.14 L287.81 132.99 L287.9 135.98 L287.98 135.28 L288.07 134.31 L288.16 131.59 L288.24 135.92 L288.33 131.91 L288.41 132.43 L288.5 136.86 L288.59 132.48 L288.67 136.96 L288.76 136.78 L288.84 133.27 L288.93 136.06 L289.02 131.26 L289.1 134.37 L289.19 135.65 L289.27 132.11 L289.36 138.05 L289.45 132.82 L289.53 138.03 L289.62 137.36 L289.71 131.33 L289.79 133.48 L289.88 137.06 L289.96 137.96 L290.05 131.5 L290.14 133.93 L290.22 132.83 L290.31 138.11 L290.39 134.5 L290.48 136.65 L290.57 137.64 L290.65 136.98 L290.74 134.92 L290.82 137.04 L290.91 136.84 L291 138.83 L291.08 133.62 L291.17 135.1 L291.26 134 L291.34 136.92 L291.43 133.82 L291.51 136.46 L291.6 135.98 L291.69 136.22 L291.77 135.03 L291.86 137.76 L291.94 140.13 L292.03 140.71 L292.12 139.51 L292.2 140.85 L292.29 134.45 L292.38 137.66 L292.46 135.63 L292.55 141.52 L292.63 138.03 L292.72 134.92 L292.81 137.08 L292.89 138.64 L292.98 138.45 L293.06 141.34 L293.15 141.02 L293.24 141.08 L293.32 139.53 L293.41 139.55 L293.49 135.87 L293.58 141.53 L293.67 140.85 L293.75 140.77 L293.84 141.76 L293.93 140.9 L294.01 141.39 L294.1 139.61 L294.18 143.15 L294.27 136.43 L294.36 140.78 L294.44 136.53 L294.53 138.55 L294.61 138.75 L294.7 140.4 L294.79 136.89 L294.87 143.31 L294.96 139.21 L295.04 142.19 L295.13 139.37 L295.22 139.06 L295.3 143.48 L295.39 143.3 L295.48 144.75 L295.56 143.29 L295.65 144.55 L295.73 142.19 L295.82 137.93 L295.91 142.69 L295.99 143.2 L296.08 142.11 L296.16 143.63 L296.25 140.31 L296.34 140.52 L296.42 144.87 L296.51 144.39 L296.59 141.2 L296.68 139.26 L296.77 141.62 L296.85 143.37 L296.94 139.32 L297.02 146.83 L297.11 146.52 L297.2 141.15 L297.28 144.08 L297.37 146.98 L297.46 143.24 L297.54 139.99 L297.63 143.69 L297.71 145.09 L297.8 147.16 L297.89 147.45 L297.97 141.24 L298.06 144.47 L298.14 141.18 L298.23 148.03 L298.32 146.7 L298.4 148.28 L298.49 145.75 L298.57 148.44 L298.66 147.06 L298.75 146.01 L298.83 146.9 L298.92 148.96 L299.01 149.18 L299.09 142.17 L299.18 148.33 L299.26 145.93 L299.35 146.86 L299.44 145.99 L299.52 149.52 L299.61 147.89 L299.69 149.57 L299.78 146.38 L299.87 143.6 L299.95 146.18 L300.04 144.33 L300.12 149.35 L300.21 150.97 L300.3 147.1 L300.38 147.63 L300.47 147.1 L300.56 148.7 L300.64 146.93 L300.73 146.28 L300.81 144.97 L300.9 149.71 L300.99 146.6 L301.07 141.95 L301.16 145.01 L301.24 144.5 L301.33 141.83 L301.42 142.52 L301.5 136.4 L301.59 135.27 L301.68 138.46 L301.76 139.26 L301.85 139.11 L301.93 137.42 L302.02 138.25 L302.11 135.27 L302.19 133.84 L302.28 136.1 L302.36 137.27 L302.45 132.19 L302.54 136.99 L302.62 135.67 L302.71 134.87 L302.79 134.08 L302.88 136.07 L302.97 133.51 L303.05 134.24 L303.14 130.82 L303.23 132.24 L303.31 129.59 L303.4 131.38 L303.48 130.52 L303.57 131.89 L303.66 132.86 L303.74 129.96 L303.83 131.15 L303.91 128.83 L304 130.53 L304.09 130.71 L304.17 133.99 L304.26 129.81 L304.34 133.07 L304.43 134.97 L304.52 135.44 L304.6 134.63 L304.69 133.9 L304.77 130.72 L304.86 133.68 L304.95 135.36 L305.03 129.99 L305.12 131.55 L305.21 135.58 L305.29 135.39 L305.38 134.76 L305.46 133.01 L305.55 129.16 L305.64 128.46 L305.72 131.02 L305.81 133.91 L305.89 132.38 L305.98 132.88 L306.07 133.11 L306.15 135.52 L306.24 131.13 L306.32 129.27 L306.41 130.02 L306.5 134.82 L306.58 131.48 L306.67 134.21 L306.76 130.09 L306.84 132.08 L306.93 128.31 L307.01 129.39 L307.1 134.54 L307.19 133.01 L307.27 128.42 L307.36 131.88 L307.44 132.07 L307.53 131.99 L307.62 129.49 L307.7 128.19 L307.79 131.25 L307.88 127.9 L307.96 130.74 L308.05 134.48 L308.13 129.04 L308.22 132.04 L308.31 134.83 L308.39 127.75 L308.48 134.95 L308.56 130.78 L308.65 131.49 L308.74 128.42 L308.82 132.14 L308.91 133.48 L308.99 132.99 L309.08 133.56 L309.17 130.78 L309.25 132.34 L309.34 129.31 L309.43 133.19 L309.51 132.33 L309.6 133.1 L309.68 127.48 L309.77 128.55 L309.86 128.47 L309.94 130.22 L310.03 131.86 L310.11 133.82 L310.2 128.54 L310.29 131.14 L310.37 134.57 L310.46 133.55 L310.54 134.08 L310.63 129.34 L310.72 127.93 L310.8 133.27 L310.89 128.69 L310.98 132.28 L311.06 129.53 L311.15 128.14 L311.23 129.95 L311.32 128.58 L311.41 131.81 L311.49 134.59 L311.58 130.74 L311.66 130.16 L311.75 133.21 L311.84 131.63 L311.92 132.17 L312.01 134.37 L312.09 132.18 L312.18 131.62 L312.27 130.89 L312.35 129.14 L312.44 131.45 L312.52 126.98 L312.61 128.24 L312.7 127.4 L312.78 129.15 L312.87 129.3 L312.96 130.31 L313.04 128.29 L313.13 131.61 L313.21 129.83 L313.3 129.16 L313.39 130.34 L313.47 132.15 L313.56 133.71 L313.64 133.62 L313.73 131.55 L313.82 129.82 L313.9 128.44 L313.99 128.77 L314.07 131.87 L314.16 127.1 L314.25 132.08 L314.33 128.7 L314.42 133.6 L314.51 128.38 L314.59 129 L314.68 126.8 L314.76 127.24 L314.85 128.82 L314.94 127.66 L315.02 128.4 L315.11 129.36 L315.19 132.42 L315.28 130.05 L315.37 127.14 L315.45 132.14 L315.54 126.51 L315.62 129.78 L315.71 130.92 L315.8 133.88 L315.88 130.91 L315.97 132.51 L316.06 128.87 L316.14 126.97 L316.23 126.88 L316.31 129.13 L316.4 130.85 L316.49 132.99 L316.57 128.59 L316.66 129.65 L316.74 128.45 L316.83 131.1 L316.92 127.23 L317 132.42 L317.09 131.75 L317.18 132.09 L317.26 129.43 L317.35 127.39 L317.43 133.01 L317.52 129.51 L317.61 128.55 L317.69 132.74 L317.78 134.03 L317.86 130.25 L317.95 128.29 L318.04 127.98 L318.12 129.19 L318.21 131.63 L318.29 131.63 L318.38 130.9 L318.47 128.1 L318.55 132.76 L318.64 133 L318.73 130.58 L318.81 127.89 L318.9 133.91 L318.98 135.18 L319.07 134.6 L319.16 131.26 L319.24 131.02 L319.33 134.3 L319.41 134.32 L319.5 131.31 L319.59 130.99 L319.67 130.73 L319.76 130.51 L319.84 135.68 L319.93 132.52 L320.02 129.93 L320.1 129.07 L320.19 134.03 L320.27 130.04 L320.36 131.69 L320.45 129.62 L320.53 135.03 L320.62 131.54 L320.71 130.52 L320.79 133.38 L320.88 136.33 L320.96 135.71 L321.05 136.07 L321.14 136.64 L321.22 136.28 L321.31 132.82 L321.39 136.81 L321.48 131.9 L321.57 132.16 L321.65 131.63 L321.74 131.81 L321.82 132.59 L321.91 131.07 L322 130.91 L322.08 133.53 L322.17 131.02 L322.26 137.69 L322.34 137.79 L322.43 138.17 L322.51 137.18 L322.6 135.98 L322.69 135.43 L322.77 133.83 L322.86 133.44 L322.94 138.57 L323.03 136.22 L323.12 135.25 L323.2 136.62 L323.29 138.68 L323.38 135.12 L323.46 136.91 L323.55 134.65 L323.63 136.18 L323.72 132.71 L323.81 132.94 L323.89 139.7 L323.98 134.54 L324.06 134.93 L324.15 138.28 L324.24 139.74 L324.32 137.08 L324.41 138.13 L324.49 135.3 L324.58 134.02 L324.67 138.21 L324.75 139.01 L324.84 137.52 L324.93 136.11 L325.01 135.5 L325.1 137.23 L325.18 139.47 L325.27 139.26 L325.36 135.46 L325.44 138.07 L325.53 141.75 L325.61 139.03 L325.7 140.53 L325.79 137.36 L325.87 141.99 L325.96 140.58 L326.04 142.02 L326.13 139.21 L326.22 135.45 L326.3 138.94 L326.39 140.22 L326.48 136.15 L326.56 142.68 L326.65 140.77 L326.73 137.41 L326.82 143.66 L326.91 137.96 L326.99 141.16 L327.08 143.9 L327.16 142.22 L327.25 140.74 L327.34 141.42 L327.42 140.51 L327.51 144.16 L327.59 143 L327.68 137.34 L327.77 141.51 L327.85 141.4 L327.94 144.46 L328.02 143.09 L328.11 138.04 L328.2 140.19 L328.28 141.67 L328.37 145.26 L328.46 142.77 L328.54 139.94 L328.63 142.67 L328.71 141.57 L328.8 139.33 L328.89 141.4 L328.97 141.59 L329.06 146.28 L329.14 146.49 L329.23 140.91 L329.32 143.74 L329.4 140.33 L329.49 140.82 L329.57 140.25 L329.66 144.46 L329.75 139.84 L329.83 141.81 L329.92 140.89 L330.01 146.68 L330.09 141.96 L330.18 144.82 L330.26 140.73 L330.35 140.68 L330.44 146.73 L330.52 145.29 L330.61 146.55 L330.69 145.15 L330.78 146.67 L330.87 143.88 L330.95 148.15 L331.04 147.92 L331.12 145.83 L331.21 148.88 L331.3 146.65 L331.38 142.83 L331.47 143.04 L331.56 148.42 L331.64 149.9 L331.73 143.83 L331.81 142.94 L331.9 145.82 L331.99 146.96 L332.07 144.11 L332.16 137.07 L332.24 135.35 L332.33 140.89 L332.42 138.51 L332.5 135.59 L332.59 135.91 L332.68 131.39 L332.76 133.6 L332.85 129.92 L332.93 134.14 L333.02 130.88 L333.11 126.98 L333.19 128.71 L333.28 133.07 L333.36 132.63 L333.45 128.32 L333.54 130.16 L333.62 130.02 L333.71 129.02 L333.79 128.08 L333.88 125.02 L333.97 130.44 L334.05 127.83 L334.14 130.07 L334.23 127.84 L334.31 126.34 L334.4 130.84 L334.48 128.13 L334.57 126.36 L334.66 131.63 L334.74 125.76 L334.83 128.41 L334.91 127.72 L335 126.87 L335.09 125.44 L335.17 131.04 L335.26 127.61 L335.34 131.11 L335.43 128.44 L335.52 128.71 L335.6 131.17 L335.69 129.03 L335.77 127.84 L335.86 126.26 L335.95 124.17 L336.03 128.39 L336.12 127.15 L336.21 125.73 L336.29 124 L336.38 123.88 L336.46 123.57 L336.55 128.79 L336.64 129.8 L336.72 123.94 L336.81 130.45 L336.89 127.59 L336.98 125.38 L337.07 126.94 L337.15 127.99 L337.24 123.88 L337.32 128.64 L337.41 126.69 L337.5 124.55 L337.58 129.82 L337.67 128.17 L337.76 127.06 L337.84 126.49 L337.93 129.21 L338.01 127.31 L338.1 130.3 L338.19 130.07 L338.27 128.11 L338.36 129.61 L338.44 123.3 L338.53 128.66 L338.62 128.55 L338.7 124.65 L338.79 124.96 L338.88 128.6 L338.96 124.25 L339.05 125.78 L339.13 127.58 L339.22 125.72 L339.31 128.63 L339.39 128.48 L339.48 123.78 L339.56 127.11 L339.65 123.58 L339.74 129.07 L339.82 129.35 L339.91 129.99 L339.99 124.72 L340.08 126.06 L340.17 130.25 L340.25 129.98 L340.34 124 L340.43 126.5 L340.51 123.6 L340.6 129.94 L340.68 125.72 L340.77 129.31 L340.86 124.68 L340.94 125.5 L341.03 125.48 L341.11 128.44 L341.2 122.87 L341.29 129.25 L341.37 129.59 L341.46 124.84 L341.54 129.33 L341.63 129.51 L341.72 126.49 L341.8 125.03 L341.89 123.16 L341.98 124.45 L342.06 129.4 L342.15 125 L342.23 123.46 L342.32 128.96 L342.41 124.1 L342.49 127.87 L342.58 127.54 L342.66 129.8 L342.75 124 L342.84 125.83 L342.92 122.87 L343.01 126.18 L343.09 128.53 L343.18 128.05 L343.27 127.67 L343.35 122.43 L343.44 128.08 L343.52 128.95 L343.61 126.92 L343.7 128.99 L343.78 126.33 L343.87 124.81 L343.96 124.57 L344.04 128.18 L344.13 128.44 L344.21 125.73 L344.3 124.22 L344.39 126.03 L344.47 125.05 L344.56 122.45 L344.64 128.29 L344.73 127.33 L344.82 125.59 L344.9 125.25 L344.99 122.45 L345.07 125.06 L345.16 124.23 L345.25 126.06 L345.33 123.26 L345.42 122.85 L345.51 126.97 L345.59 128.37 L345.68 127.2 L345.76 126.43 L345.85 122.35 L345.94 127.1 L346.02 124.3 L346.11 124.2 L346.19 121.77 L346.28 128.16 L346.37 123.15 L346.45 126.45 L346.54 128.21 L346.62 124.15 L346.71 122.51 L346.8 124.5 L346.88 128.55 L346.97 121.48 L347.06 125.96 L347.14 124.01 L347.23 123.33 L347.31 126.85 L347.4 125.7 L347.49 126.33 L347.57 128.15 L347.66 128.44 L347.74 123.51 L347.83 125.9 L347.92 122.46 L348 128.68 L348.09 126.92 L348.18 127.92 L348.26 122.16 L348.35 123.4 L348.43 122.66 L348.52 125.71 L348.61 128.86 L348.69 126.56 L348.78 128.09 L348.86 129.69 L348.95 125.67 L349.04 127.85 L349.12 129.33 L349.21 126.33 L349.29 123.2 L349.38 123.2 L349.47 126.95 L349.55 129.82 L349.64 124.83 L349.73 129.91 L349.81 126.78 L349.9 130.34 L349.98 123.54 L350.07 127.04 L350.16 127.94 L350.24 129.3 L350.33 127.27 L350.41 124.15 L350.5 128.42 L350.59 130.19 L350.67 127.96 L350.76 124.99 L350.84 129.19 L350.93 127.37 L351.02 125.31 L351.1 129.94 L351.19 126.35 L351.27 128.61 L351.36 131.7 L351.45 132.46 L351.53 125.82 L351.62 129.54 L351.71 129.83 L351.79 126.32 L351.88 129.06 L351.96 129.74 L352.05 131.51 L352.14 128.11 L352.22 131.96 L352.31 130.44 L352.39 128.36 L352.48 129.65 L352.57 133.36 L352.65 132.96 L352.74 129.33 L352.82 129.19 L352.91 134.09 L353 127.38 L353.08 134.11 L353.17 133.97 L353.26 134.69 L353.34 132.09 L353.43 130.89 L353.51 129.21 L353.6 134.63 L353.69 130.67 L353.77 135.33 L353.86 131.83 L353.94 134.47 L354.03 133.8 L354.12 136.25 L354.2 131.28 L354.29 135.98 L354.38 131.21 L354.46 134.61 L354.55 132.8 L354.63 132.57 L354.72 133.85 L354.81 131.04 L354.89 130.83 L354.98 135.83 L355.06 135.57 L355.15 131.56 L355.24 137.38 L355.32 135.32 L355.41 135.5 L355.49 131.35 L355.58 137.96 L355.67 134.08 L355.75 133.44 L355.84 133.8 L355.93 139.49 L356.01 132.44 L356.1 137.4 L356.18 133.41 L356.27 135.02 L356.36 136.99 L356.44 133.95 L356.53 135.33 L356.61 138.04 L356.7 135.19 L356.79 137.07 L356.87 135.64 L356.96 136.52 L357.04 135.28 L357.13 140.29 L357.22 137.88 L357.3 141.79 L357.39 135.91 L357.48 136.2 L357.56 135.85 L357.65 142.06 L357.73 138.45 L357.82 139.03 L357.91 141.92 L357.99 141.44 L358.08 135.69 L358.16 136.77 L358.25 141.62 L358.34 137.26 L358.42 138.77 L358.51 140.95 L358.59 139.12 L358.68 142.44 L358.77 142.26 L358.85 144.42 L358.94 139.64 L359.02 140.37 L359.11 139.28 L359.2 141.27 L359.28 141.95 L359.37 143.09 L359.46 139.97 L359.54 142.89 L359.63 141.34 L359.71 140.26 L359.8 142.81 L359.89 141.12 L359.97 146.05 L360.06 144.69 L360.14 140.42 L360.23 145.87 L360.32 146.72 L360.4 147.2 L360.49 141.62 L360.57 146.82 L360.66 144.29 L360.75 144.6 L360.83 141.98 L360.92 144.63 L361.01 144.45 L361.09 148.41 L361.18 142.69 L361.26 143.06 L361.35 144.32 L361.44 142.87 L361.52 144.72 L361.61 144.1 L361.69 143.24 L361.78 145.19 L361.87 149.91 L361.95 143.47 L362.04 142.84 L362.12 149.02 L362.21 150.22 L362.3 148.29 L362.38 150.29 L362.47 148.4 L362.56 150.71 L362.64 149.87 L362.73 151.7 L362.81 148.62 L362.9 149.77 L362.99 143.91 L363.07 144.26 L363.16 144 L363.24 136.28 L363.33 135.24 L363.42 135.51 L363.5 137.98 L363.59 135.58 L363.68 134.35 L363.76 133.92 L363.85 136.18 L363.93 132.32 L364.02 129.44 L364.11 129.56 L364.19 127.9 L364.28 128.92 L364.36 128.01 L364.45 126.93 L364.54 126.34 L364.62 127.09 L364.71 129.79 L364.79 127.77 L364.88 127.64 L364.97 125.8 L365.05 126.98 L365.14 128.95 L365.23 130.79 L365.31 129.67 L365.4 130.18 L365.48 126.82 L365.57 126.1 L365.66 130.45 L365.74 127.79 L365.83 125.4 L365.91 128.99 L366 131.02 L366.09 127.08 L366.17 128.9 L366.26 130.54 L366.34 129.41 L366.43 131.52 L366.52 130.41 L366.6 128.27 L366.69 130.69 L366.77 131.42 L366.86 127.25 L366.95 124.11 L367.03 125.03 L367.12 128.89 L367.21 124.3 L367.29 130.72 L367.38 130.16 L367.46 131.24 L367.55 130.82 L367.64 126.65 L367.72 125.45 L367.81 127.56 L367.89 125.05 L367.98 127.72 L368.07 124.13 L368.15 126.48 L368.24 127.01 L368.32 129.78 L368.41 127.81 L368.5 127.69 L368.58 124.74 L368.67 129.25 L368.76 128.74 L368.84 124.73 L368.93 130.41 L369.01 126.83 L369.1 129.23 L369.19 125.81 L369.27 126.33 L369.36 130.13 L369.44 125.26 L369.53 127.7 L369.62 128.35 L369.7 124.23 L369.79 124.81 L369.88 128.37 L369.96 125.54 L370.05 129.75 L370.13 126.72 L370.22 130.03 L370.31 125.75 L370.39 123.62 L370.48 125.74 L370.56 130.27 L370.65 126.64 L370.74 126.96 L370.82 127.14 L370.91 129.35 L370.99 128.36 L371.08 127.03 L371.17 129.9 L371.25 125.28 L371.34 128.55 L371.43 128.17 L371.51 129.67 L371.6 128.04 L371.68 123.22 L371.77 128.08 L371.86 129.56 L371.94 127.63 L372.03 123.03 L372.11 129.56 L372.2 127.6 L372.29 128.6 L372.37 124.97 L372.46 126.63 L372.54 129.38 L372.63 123.53 L372.72 127.59 L372.8 124.84 L372.89 126.6 L372.98 123.38 L373.06 129.57 L373.15 128.26 L373.23 127.8 L373.32 127.94 L373.41 123.66 L373.49 126.09 L373.58 127.25 L373.66 126.01 L373.75 123.41 L373.84 125.49 L373.92 126.38 L374.01 124.79 L374.09 125.09 L374.18 126.67 L374.27 126.49 L374.35 128.72 L374.44 126.36 L374.52 122.98 L374.61 127.33 L374.7 126.86 L374.78 125.02 L374.87 125.1 L374.96 128.25 L375.04 126.17 L375.13 123.95 L375.21 129.22 L375.3 128.68 L375.39 123.73 L375.47 122.56 L375.56 128.94 L375.64 128.82 L375.73 124.63 L375.82 127.23 L375.9 124.37 L375.99 129.1 L376.07 125.85 L376.16 128.09 L376.25 126.77 L376.33 123.99 L376.42 125.37 L376.51 122.73 L376.59 122.8 L376.68 124.48 L376.76 122.71 L376.85 127.81 L376.94 125.52 L377.02 126.69 L377.11 124.34 L377.19 128.24 L377.28 122.31 L377.37 126.22 L377.45 123.05 L377.54 121.81 L377.62 121.81 L377.71 125.99 L377.8 122.41 L377.88 121.32 L377.97 127.92 L378.06 123.19 L378.14 123.32 L378.23 125.36 L378.31 126.72 L378.4 127.49 L378.49 125.7 L378.57 121.77 L378.66 125.87 L378.74 127.04 L378.83 124.32 L378.92 125.78 L379 124.5 L379.09 125.78 L379.18 127.14 L379.26 129.13 L379.35 123.23 L379.43 124.52 L379.52 127.77 L379.61 125.91 L379.69 125.37 L379.78 126.04 L379.86 123.1 L379.95 124.12 L380.04 127.82 L380.12 127.66 L380.21 125.67 L380.29 129.2 L380.38 123.4 L380.47 130.29 L380.55 126.92 L380.64 128.74 L380.73 126.92 L380.81 130.69 L380.9 129.43 L380.98 123.69 L381.07 125.33 L381.16 129.77 L381.24 128.08 L381.33 131.42 L381.41 130.85 L381.5 130.43 L381.59 124.49 L381.67 129.73 L381.76 130.34 L381.84 131.84 L381.93 131.62 L382.02 124.97 L382.1 127.04 L382.19 125.78 L382.27 126.54 L382.36 127.07 L382.45 131.22 L382.53 131.99 L382.62 131.34 L382.71 133.03 L382.79 132.31 L382.88 128.28 L382.96 130.15 L383.05 133.94 L383.14 131.82 L383.22 127.79 L383.31 127.9 L383.39 128.96 L383.48 129.07 L383.57 127.83 L383.65 130.66 L383.74 132.12 L383.83 130.8 L383.91 133.15 L384 135.16 L384.08 133.59 L384.17 132.21 L384.26 134.92 L384.34 135.36 L384.43 134.22 L384.51 133.44 L384.6 129.08 L384.69 132.8 L384.77 130.27 L384.86 131.11 L384.94 132.41 L385.03 134.61 L385.12 134.22 L385.2 134.93 L385.29 132.65 L385.38 131.11 L385.46 131.74 L385.55 135.67 L385.63 136.92 L385.72 138.14 L385.81 133.89 L385.89 136.75 L385.98 138.6 L386.06 136.48 L386.15 137.19 L386.24 137.51 L386.32 134.15 L386.41 134.91 L386.49 137.37 L386.58 134.09 L386.67 138.24 L386.75 132.93 L386.84 139.21 L386.93 135.74 L387.01 135.03 L387.1 134.97 L387.18 137 L387.27 134.21 L387.36 136.22 L387.44 135.9 L387.53 140.72 L387.61 140.06 L387.7 138.08 L387.79 137.63 L387.87 141.22 L387.96 136.44 L388.04 139.61 L388.13 138.78 L388.22 138.58 L388.3 136.32 L388.39 140.58 L388.48 138.77 L388.56 138.58 L388.65 138.35 L388.73 141.13 L388.82 141.54 L388.91 140.24 L388.99 139.41 L389.08 139.23 L389.16 143.3 L389.25 141.07 L389.34 140.36 L389.42 143.32 L389.51 144.19 L389.59 138.04 L389.68 145.13 L389.77 141.65 L389.85 143.37 L389.94 145.55 L390.02 143.89 L390.11 144.88 L390.2 143.22 L390.28 139.5 L390.37 146.01 L390.46 144.09 L390.54 141.64 L390.63 142.34 L390.71 147.12 L390.8 145.7 L390.89 145.47 L390.97 140.95 L391.06 144.58 L391.14 146.16 L391.23 144.63 L391.32 144.76 L391.4 147.49 L391.49 143.71 L391.58 143.47 L391.66 145.5 L391.75 145.22 L391.83 143.61 L391.92 142.36 L392.01 145.16 L392.09 149.67 L392.18 146.33 L392.26 145.3 L392.35 148 L392.44 145.48 L392.52 148.07 L392.61 146.35 L392.69 146.54 L392.78 146.29 L392.87 144.52 L392.95 146.35 L393.04 146.52 L393.12 146.73 L393.21 150.53 L393.3 147.78 L393.38 147.91 L393.47 152.36 L393.56 147.24 L393.64 151.45 L393.73 149.6 L393.81 149.54 L393.9 148.2 L393.99 144.92 L394.07 144.62 L394.16 138.78 L394.24 140.62 L394.33 137.98 L394.42 133.25 L394.5 137.05 L394.59 132.94 L394.68 130.11 L394.76 135.91 L394.85 129.86 L394.93 130.16 L395.02 130.44 L395.11 128.03 L395.19 127.05 L395.28 132.11 L395.36 129.18 L395.45 127.9 L395.54 127 L395.62 124.78 L395.71 125.77 L395.79 125.39 L395.88 131.07 L395.97 128.16 L396.05 124.31 L396.14 123.95 L396.23 125.3 L396.31 128.44 L396.4 125.02 L396.48 126.77 L396.57 125.66 L396.66 125.83 L396.74 124.04 L396.83 125.14 L396.91 123.13 L397 126.73 L397.09 126.69 L397.17 125.4 L397.26 126.09 L397.34 129.97 L397.43 122.99 L397.52 127.84 L397.6 126.43 L397.69 129.89 L397.77 128.74 L397.86 123.07 L397.95 128.02 L398.03 127.83 L398.12 123.88 L398.21 128.21 L398.29 124.94 L398.38 125.67 L398.46 123.14 L398.55 126.32 L398.64 127.43 L398.72 127.93 L398.81 127.11 L398.89 129.86 L398.98 128.93 L399.07 128.68 L399.15 127.39 L399.24 123.91 L399.33 122.56 L399.41 127.02 L399.5 127.8 L399.58 127.44 L399.67 124.86 L399.76 125.98 L399.84 128.72 L399.93 125.59 L400.01 127.52 L400.1 128.45 L400.19 123.53 L400.27 128.7 L400.36 126.13 L400.44 123.61 L400.53 125.29 L400.62 122.75 L400.7 126.97 L400.79 122.15 L400.88 129.02 L400.96 122.49 L401.05 126.07 L401.13 129.26 L401.22 127.28 L401.31 121.69 L401.39 123.75 L401.48 123.56 L401.56 122.98 L401.65 129.1 L401.74 126.78 L401.82 125.55 L401.91 122.14 L401.99 122.13 L402.08 127.9 L402.17 121.48 L402.25 124.76 L402.34 126.65 L402.43 128.32 L402.51 125.67 L402.6 124.93 L402.68 125.42 L402.77 126.49 L402.86 121.6 L402.94 125.19 L403.03 126.45 L403.11 122.84 L403.2 126.89 L403.29 125.5 L403.37 127.91 L403.46 126.87 L403.54 121.05 L403.63 123.9 L403.72 124.62 L403.8 123.46 L403.89 123.44 L403.98 124.57 L404.06 125.73 L404.15 127.38 L404.23 128.26 L404.32 127.54 L404.41 125.35 L404.49 128.34 L404.58 123.25 L404.66 125.8 L404.75 126.57 L404.84 125.94 L404.92 124.55 L405.01 126.69 L405.09 121.76 L405.18 124.55 L405.27 127.7 L405.35 127.55 L405.44 121.38 L405.52 123.74 L405.61 125.91 L405.7 122.66 L405.78 127.74 L405.87 121.28 L405.96 120.89 L406.04 122.95 L406.13 127.61 L406.21 124.73 L406.3 121.56 L406.39 123.4 L406.47 126.31 L406.56 126.1 L406.64 127.38 L406.73 123.86 L406.82 126.44 L406.9 124.4 L406.99 120.94 L407.08 120.88 L407.16 123.98 L407.25 121.72 L407.33 126.67 L407.42 120.43 L407.51 121.04 L407.59 123.94 L407.68 120.84 L407.76 125.31 L407.85 120.07 L407.94 125.07 L408.02 120.45 L408.11 121.1 L408.19 120.33 L408.28 121.89 L408.37 126.86 L408.45 125.27 L408.54 122.37 L408.62 120.42 L408.71 122.14 L408.8 127.01 L408.88 124.64 L408.97 124.63 L409.06 125.94 L409.14 125.51 L409.23 123.26 L409.31 124.33 L409.4 125.12 L409.49 124.04 L409.57 120.01 L409.66 122.74 L409.74 121.62 L409.83 120.3 L409.92 127.26 L410 120.85 L410.09 126.92 L410.18 126.23 L410.26 122.17 L410.35 122.15 L410.43 123.3 L410.52 124.45 L410.61 122.66 L410.69 125.01 L410.78 126.89 L410.86 126.8 L410.95 127.71 L411.04 128.39 L411.12 121.51 L411.21 121.63 L411.29 126.33 L411.38 125.95 L411.47 127.08 L411.55 123.36 L411.64 125.68 L411.73 128.25 L411.81 122.92 L411.9 122.7 L411.98 129.55 L412.07 126.52 L412.16 128.46 L412.24 125.39 L412.33 127.65 L412.41 128.24 L412.5 128.33 L412.59 126.13 L412.67 127.05 L412.76 127.3 L412.84 125.95 L412.93 127.67 L413.02 124.18 L413.1 128.2 L413.19 125.63 L413.27 124.71 L413.36 127.2 L413.45 127.58 L413.53 126.19 L413.62 126.92 L413.71 131.02 L413.79 129.45 L413.88 131.58 L413.96 132.75 L414.05 127.81 L414.14 130.69 L414.22 131.4 L414.31 133.29 L414.39 133.46 L414.48 128.65 L414.57 131.19 L414.65 130.74 L414.74 129.06 L414.83 127.44 L414.91 129.16 L415 132.99 L415.08 127.26 L415.17 133.56 L415.26 130.68 L415.34 130.35 L415.43 133.23 L415.51 128.79 L415.6 131.08 L415.69 130.47 L415.77 134.99 L415.86 129.85 L415.94 134.16 L416.03 131.8 L416.12 131.05 L416.2 134.37 L416.29 134.97 L416.38 134.63 L416.46 129.84 L416.55 132.45 L416.63 134.04 L416.72 133.51 L416.81 132.95 L416.89 136.12 L416.98 137.71 L417.06 137.62 L417.15 134.17 L417.24 134.21 L417.32 131.48 L417.41 134.38 L417.49 132.77 L417.58 131.92 L417.67 135.83 L417.75 136.57 L417.84 136.36 L417.93 137.29 L418.01 134.5 L418.1 136.08 L418.18 139.71 L418.27 133.52 L418.36 136.97 L418.44 135.44 L418.53 137.16 L418.61 137.02 L418.7 137.28 L418.79 140.98 L418.87 141.04 L418.96 136.63 L419.04 139.72 L419.13 141.58 L419.22 136.52 L419.3 137.21 L419.39 137.27 L419.48 140.32 L419.56 142.45 L419.65 137.84 L419.73 142.17 L419.82 138.9 L419.91 138.86 L419.99 142.27 L420.08 144.53 L420.16 140.22 L420.25 138.87 L420.34 140.6 L420.42 137.76 L420.51 143.71 L420.59 140.06 L420.68 142.5 L420.77 141.58 L420.85 143.89 L420.94 144.63 L421.02 142.39 L421.11 142.12 L421.2 140 L421.28 142.52 L421.37 143.51 L421.46 142.54 L421.54 142.91 L421.63 144.78 L421.71 146.05 L421.8 143.06 L421.89 145.51 L421.97 148.37 L422.06 147.55 L422.14 146.3 L422.23 143.99 L422.32 144.41 L422.4 145.87 L422.49 143.58 L422.58 147.51 L422.66 147.52 L422.75 144.66 L422.83 145.4 L422.92 147.53 L423.01 144.19 L423.09 150.97 L423.18 147.28 L423.26 145.01 L423.35 145.05 L423.44 150.49 L423.52 146 L423.61 148.29 L423.69 145.42 L423.78 150.25 L423.87 147.88 L423.95 148.26 L424.04 145.79 L424.12 150.97 L424.21 150.78 L424.3 153.01 L424.38 148.94 L424.47 153.83 L424.56 148.08 L424.64 153.65 L424.73 153.52 L424.81 147.92 L424.9 151.57 L424.99 146.48 L425.07 146.87 L425.16 145.28 L425.24 142.25 L425.33 135.75 L425.42 140.21 L425.5 133.39 L425.59 132.36 L425.68 132.86 L425.76 135.11 L425.85 130.76 L425.93 128.73 L426.02 130.5 L426.11 132.81 L426.19 129.37 L426.28 126.31 L426.36 128.74 L426.45 131.8 L426.54 131.11 L426.62 127.6 L426.71 131.83 L426.79 131.99 L426.88 128.98 L426.97 129.72 L427.05 127.78 L427.14 130.87 L427.23 127.05 L427.31 126.06 L427.4 128.72 L427.48 126.62 L427.57 126.96 L427.66 124.89 L427.74 126.46 L427.83 125.93 L427.91 126.45 L428 124.42 L428.09 129.92 L428.17 129.75 L428.26 123.97 L428.34 124.17 L428.43 130.45 L428.52 123.65 L428.6 125.79 L428.69 123.87 L428.77 125.02 L428.86 127.48 L428.95 129.45 L429.03 124.45 L429.12 124.84 L429.21 126.65 L429.29 128.14 L429.38 127.4 L429.46 123.01 L429.55 126.6 L429.64 128.51 L429.72 122.55 L429.81 122.59 L429.89 128.68 L429.98 128.51 L430.07 124.41 L430.15 127.01 L430.24 126.32 L430.33 124.69 L430.41 127.8 L430.5 125.33 L430.58 128.28 L430.67 128.13 L430.76 125.63 L430.84 126.5 L430.93 122.92 L431.01 128.63 L431.1 122.7 L431.19 127.68 L431.27 127.03 L431.36 128.82 L431.44 127.19 L431.53 122.09 L431.62 126.79 L431.7 123.15 L431.79 122.05 L431.88 124.18 L431.96 128.06 L432.05 126.14 L432.13 128.14 L432.22 127.49 L432.31 126.81 L432.39 128.08 L432.48 124.13 L432.56 125.31 L432.65 127.05 L432.74 127.31 L432.82 128.14 L432.91 128.33 L432.99 125.83 L433.08 128.58 L433.17 125.14 L433.25 127.16 L433.34 123.19 L433.43 127.02 L433.51 122.5 L433.6 121.8 L433.68 121.89 L433.77 127.23 L433.86 121.85 L433.94 125.32 L434.03 122.14 L434.11 125.33 L434.2 124.72 L434.29 126.85 L434.37 123.02 L434.46 125.97 L434.54 122.01 L434.63 123.33 L434.72 125.43 L434.8 128.45 L434.89 126.61 L434.98 125.45 L435.06 125.79 L435.15 124.14 L435.23 128.53 L435.32 124.98 L435.41 121.71 L435.49 121.22 L435.58 123.22 L435.66 123.21 L435.75 123.82 L435.84 120.77 L435.92 122.35 L436.01 124.84 L436.09 124.55 L436.18 121.14 L436.27 124.07 L436.35 123.69 L436.44 125.89 L436.52 123.14 L436.61 124.46 L436.7 120.96 L436.78 120.51 L436.87 120.52 L436.96 120.84 L437.04 127.74 L437.13 127.5 L437.21 125.44 L437.3 121.69 L437.39 123.72 L437.47 126 L437.56 127.17 L437.64 126 L437.73 126.91 L437.82 126.77 L437.9 122.15 L437.99 126.34 L438.08 126.52 L438.16 123.04 L438.25 126.75 L438.33 121.36 L438.42 122.73 L438.51 120.97 L438.59 122.11 L438.68 122.05 L438.76 125.56 L438.85 124.35 L438.94 124.66 L439.02 124.54 L439.11 120.54 L439.19 124.16 L439.28 121.36 L439.37 122.62 L439.45 126.79 L439.54 125.79 L439.62 122.96 L439.71 121.32 L439.8 125.54 L439.88 125.39 L439.97 124.4 L440.06 123.75 L440.14 124.02 L440.23 120.14 L440.31 122.54 L440.4 125.03 L440.49 124.55 L440.57 123.33 L440.66 126.02 L440.74 124.29 L440.83 126.84 L440.92 122.37 L441 120.8 L441.09 120.61 L441.18 122.97 L441.26 124.65 L441.35 123.36 L441.43 123.46 L441.52 126.41 L441.61 123.69 L441.69 124.08 L441.78 126.44 L441.86 124.63 L441.95 121.69 L442.04 123.24 L442.12 125.69 L442.21 126.45 L442.29 123.53 L442.38 124.2 L442.47 126.21 L442.55 124.96 L442.64 125.53 L442.73 123.92 L442.81 122.08 L442.9 126.01 L442.98 124.83 L443.07 124.72 L443.16 124 L443.24 127.31 L443.33 127.36 L443.41 122.29 L443.5 128.3 L443.59 124.29 L443.67 127.59 L443.76 125.91 L443.84 126.3 L443.93 128 L444.02 128.57 L444.1 122.69 L444.19 129.79 L444.27 129.08 L444.36 124.62 L444.45 127.51 L444.53 128.94 L444.62 124.59 L444.71 123.12 L444.79 129.12 L444.88 125.39 L444.96 127.86 L445.05 123.36 L445.14 126.51 L445.22 124.33 L445.31 126.19 L445.39 130.34 L445.48 128.07 L445.57 126.15" fill="none" stroke="#000" stroke-width="1" stroke-linejoin="round" />
<path d="M254.4 141.6 L269.56 144.68 L274.38 144.95 L281.96 145.63 L286.78 145.79 L292.29 146.14 L294.36 146.66 L298.49 148.34 L300.56 148.73 L304 148.53 L312.27 146.94 L314.33 146.67 L316.4 146.58 L318.47 146.69 L320.53 147.02 L326.73 148.57 L328.8 148.98 L330.87 149.21 L332.93 149.2 L334.31 149.06 L336.38 148.66 L341.89 147.09 L343.96 146.6 L346.02 146.31 L347.4 146.25 L349.47 146.41 L351.53 146.85 L357.73 148.99 L359.8 149.55 L361.87 149.86 L363.24 149.9 L365.31 149.69 L367.38 149.2 L372.89 147.27 L374.96 146.68 L377.02 146.32 L378.4 146.25 L380.47 146.44 L382.53 146.99 L388.73 149.61 L390.8 150.3 L392.87 150.68 L394.24 150.72 L396.31 150.43 L398.38 149.74 L403.89 147.03 L405.96 146.19 L408.02 145.68 L410.09 145.62 L411.47 145.87 L413.53 146.68 L415.6 147.88 L419.04 150.15 L421.11 151.29 L423.18 152.02 L424.56 152.22 L425.93 152.13 L426.62 151.97 L428.69 151.06 L430.76 149.63 L435.58 145.75 L437.64 144.55 L439.02 144.08 L440.4 143.92 L441.09 144.02 L441.78 144.29 L444.53 146.24 L445.22 146.63 L445.91 146.86" fill="none" stroke="#ff1010" stroke-width="1.3" stroke-linejoin="round" />
<path d="M269.9 171.94 L270.24 167.47 L270.76 163.91 L271.11 159.65 L271.62 156.05 L271.97 152.65 L272.31 151.15 L272.66 147.45 L273 145.05 L273.17 144.91 L273.34 143.81 L273.52 141.91 L274.03 139.25 L274.38 136.45 L275.41 131.33 L275.76 128.73 L275.93 128.09 L276.1 128.13 L276.44 125.6 L276.62 125.45 L276.96 123.13 L277.13 123.54 L277.31 122.08 L277.48 121.69 L277.99 119.01 L278.17 118.65 L278.34 117.67 L278.51 117.89 L278.68 116.54 L278.86 116.47 L279.03 116.16 L279.2 114.75 L279.54 114.39 L279.72 112.96 L279.89 112.95 L280.23 111.26 L280.41 111.63 L280.75 110.36 L280.92 110.23 L281.27 108.4 L281.44 108.31 L281.61 108.45 L281.78 107.46 L281.96 107.13 L282.13 107.05 L282.3 106.24 L282.47 106.24 L282.64 105.31 L282.82 105.45 L282.99 104.5 L283.16 104.84 L283.33 104.64 L283.51 104.08 L283.68 104.01 L283.85 102.68 L284.02 102.19 L284.19 102.63 L284.37 102.55 L284.54 101.39 L284.71 101.12 L284.88 101.63 L285.23 100.72 L285.4 100.92 L286.43 107.6 L286.61 107.85 L286.78 108.82 L287.12 111.75 L287.29 112.08 L287.47 113.59 L287.64 113.81 L287.81 115.32 L288.5 118.32 L288.84 120.73 L289.02 121.23 L289.19 121.2 L289.36 123.17 L289.88 124.78 L290.05 124.89 L290.22 126.48 L290.57 127.98 L290.91 128.27 L291.08 129.23 L291.26 129.56 L291.77 131.55 L291.94 132.57 L292.12 131.88 L292.46 134.03 L292.63 134.37 L292.81 134.08 L292.98 134.92 L293.15 135.05 L293.32 135.5 L293.49 136.74 L293.67 136.27 L293.84 137.51 L294.01 138 L294.18 137.59 L294.36 137.89 L294.53 138.96 L294.7 139.22 L294.87 139.12 L295.04 140.07 L295.22 140.22 L295.39 139.83 L295.56 141.31 L295.73 140.56 L296.08 141.12 L296.25 142.43 L296.42 142.79 L296.59 142.76 L296.77 143.4 L296.94 142.68 L297.11 143.43 L297.28 143.34 L297.46 144.06 L297.63 144.31 L297.8 143.95 L297.97 145.3 L298.14 145.41 L298.32 144.81 L298.49 145.39 L298.83 145.3 L299.18 146.23 L299.35 146.25 L299.69 147.35 L299.87 147.4 L300.04 146.8 L300.38 148.35 L300.73 147.42 L300.9 148.07 L302.11 125.94 L303.48 108.78 L303.66 108.05 L304 104.12 L304.34 102.36 L304.86 97.7 L305.21 95.65 L305.38 95.21 L305.72 92.5 L306.24 90.28 L306.41 90.28 L306.76 88.35 L306.93 88.14 L307.1 87.53 L307.27 85.77 L307.62 85.21 L307.96 83.82 L308.31 83.52 L308.48 83.16 L308.65 82 L308.82 81.65 L308.99 82.36 L309.17 81.14 L309.34 81.06 L309.51 81.15 L309.68 80.4 L309.86 80.68 L310.03 79.79 L310.2 79.79 L310.37 79.52 L310.54 80 L310.72 78.66 L310.89 78.39 L311.06 78.46 L311.23 78.9 L311.41 78.15 L311.58 78.79 L311.75 78.06 L311.92 78.18 L312.09 77.87 L312.44 78.14 L312.61 77.53 L312.78 77.68 L312.96 77.65 L313.13 77.34 L313.47 77.55 L313.64 76.2 L313.82 77.33 L313.99 76.14 L314.33 77.01 L314.51 76.54 L314.68 76.36 L314.85 76.9 L315.02 76.19 L315.19 76.85 L315.54 75.81 L315.71 75.58 L315.88 76.42 L316.23 75.31 L316.4 76.11 L317.09 83.19 L317.43 85.73 L317.78 89.9 L318.64 96.23 L319.5 103.87 L319.67 104.47 L320.53 111.08 L320.88 111.99 L321.22 114.82 L321.57 116.33 L322.26 120.55 L322.43 120.87 L322.94 123.79 L323.12 124.2 L323.29 125.56 L323.63 126.66 L323.81 128.02 L323.98 128.58 L324.32 129.1 L325.01 131.39 L325.18 133.02 L325.53 134.27 L325.7 133.97 L325.87 135.32 L326.22 136.46 L326.39 135.96 L326.56 137.39 L326.73 137.86 L326.91 137.86 L327.08 138.19 L327.25 139.54 L327.42 139.27 L327.94 140.66 L328.11 140.7 L328.46 141.42 L328.8 143.28 L328.97 143.08 L329.14 144.03 L329.32 143.58 L329.49 144.13 L329.66 144.12 L329.83 144.34 L330.18 145.16 L330.35 145.95 L330.52 145.74 L330.69 146.15 L330.87 147 L331.04 146.42 L331.56 148.13 L331.73 147.55 L331.9 148.27 L333.11 119.76 L333.79 108.09 L335 91.38 L335.17 90.47 L335.69 84.63 L336.03 82.42 L336.55 77.44 L337.58 71.31 L338.1 69.67 L338.27 68.19 L338.44 68.06 L338.79 66.78 L339.31 64.11 L339.48 64.05 L339.65 63.68 L339.82 62.67 L339.99 63.21 L340.34 61.24 L340.51 61.72 L341.03 61.06 L341.2 59.81 L341.37 59.93 L341.54 59.1 L341.72 58.8 L341.89 59.62 L342.06 58.99 L342.41 58.59 L342.58 58.69 L343.27 57.27 L343.44 56.5 L343.61 57.51 L343.78 57.32 L343.96 56.16 L344.13 56.84 L344.3 56.38 L344.47 56.57 L344.64 55.67 L344.82 55.51 L345.16 56.42 L345.51 55.42 L345.85 55.82 L346.02 55.58 L346.19 55.95 L346.54 54.8 L346.71 55.32 L346.88 55.16 L347.06 55.5 L347.23 54.72 L347.4 55.06 L348.61 71.08 L348.95 73.99 L349.47 80.69 L350.33 88.27 L350.67 92.68 L351.36 98.68 L351.53 99 L351.71 100.41 L352.05 104.18 L352.22 104.29 L352.39 106.65 L353.08 111.64 L353.43 112.91 L353.6 114.93 L353.77 115.44 L353.94 116.96 L354.12 117.11 L354.29 117.95 L354.81 121.82 L354.98 121.97 L355.15 123.72 L355.32 123.66 L355.49 125.14 L355.67 125.19 L355.84 126.81 L356.01 127.01 L356.36 129.21 L356.53 129.63 L356.87 131.52 L357.04 131.7 L357.39 132.84 L357.91 135.43 L358.08 135.61 L358.25 136.58 L358.42 136.44 L358.59 137.8 L358.94 139.07 L359.28 139.5 L359.63 141.07 L359.8 140.54 L360.14 142.38 L360.32 142.6 L360.49 142.46 L360.83 143.24 L361.18 144.83 L361.35 145.01 L361.52 145.99 L361.69 145.54 L362.04 145.97 L362.38 147.04 L362.56 147.17 L362.73 148.19 L362.9 148.16 L363.76 124.57 L364.79 103.76 L365.66 90.78 L366.69 78.47 L367.89 68.37 L368.07 68.05 L368.24 66.45 L368.41 65.46 L368.58 65.14 L368.93 62.28 L369.1 61.29 L369.27 61.09 L369.44 59.67 L369.62 60.06 L369.79 58.2 L370.13 57.01 L370.31 56.89 L370.65 55.25 L370.82 55.53 L370.99 55.09 L371.34 53.24 L371.51 53.68 L371.68 52.84 L371.86 52.51 L372.03 52.4 L372.2 51.35 L372.37 51.76 L372.54 50.78 L372.89 51.04 L373.06 49.68 L373.23 50.51 L373.58 50.18 L373.75 49.54 L373.92 49.76 L374.09 49.38 L374.27 48.15 L374.44 48.88 L374.61 48.1 L374.78 48.6 L374.96 48.71 L375.3 48.28 L375.47 47.04 L375.64 47.57 L375.99 47.88 L376.16 46.98 L376.33 47.31 L376.51 47.39 L376.85 46.5 L377.02 46.91 L377.19 46.53 L377.37 46.95 L377.54 46.39 L377.71 47 L377.88 45.77 L378.06 45.7 L378.23 46.11 L378.4 46.18 L379.78 66.43 L381.67 88.66 L382.02 91.2 L382.36 95.47 L382.88 99.3 L383.05 101.73 L383.39 103.51 L383.74 107.39 L383.91 107.7 L384.26 110.86 L384.77 114.04 L384.94 116.08 L385.29 117.38 L385.81 121.31 L385.98 121.57 L386.49 125.15 L386.84 126.53 L387.18 129.3 L387.36 129.52 L387.53 131 L388.56 134.61 L388.73 136.18 L388.91 136.03 L389.08 137.56 L389.25 138.2 L389.59 138.67 L389.77 139.93 L390.11 140.72 L390.28 141.99 L390.63 142.31 L390.8 144.08 L390.97 144.49 L391.14 144.02 L391.49 145.65 L391.66 145.64 L392.01 147.47 L392.18 147.65 L392.35 147.56 L392.87 149.86 L393.04 148.96 L393.21 150.59 L393.38 150.72 L393.56 150.43 L393.73 150.61 L393.9 151.31 L394.76 126.47 L395.45 110.74 L396.31 94.93 L397.69 76.65 L397.86 75.95 L398.55 69.79 L398.72 67.14 L398.89 65.81 L399.07 65.77 L399.24 63.52 L399.58 62.13 L399.76 60.2 L399.93 60.24 L400.1 58.61 L400.44 56.81 L400.62 56.62 L400.79 55.98 L400.96 54.61 L401.13 54.37 L401.48 52.51 L401.65 52.85 L401.99 50.5 L402.17 50.76 L402.34 50.05 L402.51 49.91 L402.68 48.75 L402.86 49.2 L403.03 48.97 L403.2 48.06 L403.54 47.28 L403.72 47.44 L403.89 46.17 L404.06 46.4 L404.23 46.32 L404.41 45.58 L404.58 46.27 L404.75 44.86 L404.92 44.75 L405.09 45.3 L405.27 44.84 L405.44 45.19 L405.61 44.01 L405.78 43.59 L405.96 43.92 L406.13 43.26 L406.3 43.78 L406.47 43.11 L406.82 42.77 L406.99 43.26 L407.16 43.08 L407.33 43.6 L407.51 42.27 L407.68 43.32 L407.85 42.57 L408.02 42.45 L408.19 42.93 L408.37 42.61 L408.54 42.6 L408.71 42.92 L408.88 42.33 L409.06 42.28 L409.23 41.77 L409.4 41.74 L410.61 61.84 L411.81 78.5 L411.98 79.57 L412.5 86.52 L412.84 89.58 L413.02 92.64 L413.53 96.9 L413.71 99.91 L413.88 100.53 L414.39 106.31 L414.91 110.79 L415.08 111.31 L415.43 115.09 L416.29 120.62 L416.46 122.94 L416.81 125.16 L416.98 125.5 L417.15 127.5 L417.32 127.6 L417.84 130.56 L418.87 137.43 L419.04 138.07 L419.22 138.27 L419.56 140.23 L419.73 140.5 L419.91 141.89 L420.08 142.2 L420.42 143.54 L420.59 145.04 L420.77 145.24 L421.11 146.62 L421.28 147.93 L421.63 148.98 L421.8 148.88 L422.14 150.59 L422.32 150.86 L422.83 152.95 L423.01 153.37 L423.18 153.07 L423.35 153.66 L423.52 155.16 L423.69 155.65 L423.87 155.12 L424.04 156.14 L424.21 156.32 L424.56 157.23 L424.73 157.25 L424.9 158.66 L426.28 118.26 L427.66 92.26 L428.52 80.63 L429.72 68.26 L429.89 67.69 L430.07 65.75 L431.1 59.73 L431.27 57.54 L431.44 57.46 L431.62 56.07 L432.13 54.42 L432.31 52.81 L432.48 53.12 L432.65 51.49 L432.99 50.45 L433.17 50.92 L433.34 49.23 L433.51 49.18 L434.03 48.12 L434.2 47.05 L434.54 46.31 L434.72 47.04 L435.06 45.66 L435.23 46.05 L435.41 44.83 L435.58 44.74 L435.75 45.33 L436.44 43.26 L436.61 44.03 L436.78 43.09 L437.13 43.38 L437.64 43.35 L437.82 42.69 L437.99 42.96 L438.33 42.45 L438.51 42.59 L438.85 42.22 L439.02 41.16 L439.19 41.8 L439.37 41.46 L439.54 41.48 L439.71 40.84 L439.88 40.94 L440.06 40.74 L440.4 40.85 L441.43 58.37 L442.64 75.62 L443.84 90.18 L444.02 91.06 L445.05 102.66 L445.57 106.54" fill="none" stroke="#0a14f0" stroke-width="2" stroke-linejoin="round" />
</g>
<rect x="254.4" y="8.9" width="190.2" height="152.3" fill="none" stroke="#000" stroke-width="1.1" />
<line x1="254.4" y1="158.2" x2="256.9" y2="158.2" stroke="#000" stroke-width="0.9" />
<text x="249.1" y="160.7" font-size="6.9" text-anchor="end" font-weight="normal" fill="#111" >0.3</text>
<line x1="254.4" y1="149.9" x2="255.9" y2="149.9" stroke="#000" stroke-width="0.8" />
<line x1="254.4" y1="141.6" x2="256.9" y2="141.6" stroke="#000" stroke-width="0.9" />
<text x="249.1" y="144.1" font-size="6.9" text-anchor="end" font-weight="normal" fill="#111" >0.4</text>
<line x1="254.4" y1="133.3" x2="255.9" y2="133.3" stroke="#000" stroke-width="0.8" />
<line x1="254.4" y1="125" x2="256.9" y2="125" stroke="#000" stroke-width="0.9" />
<text x="249.1" y="127.5" font-size="6.9" text-anchor="end" font-weight="normal" fill="#111" >0.5</text>
<line x1="254.4" y1="116.7" x2="255.9" y2="116.7" stroke="#000" stroke-width="0.8" />
<line x1="254.4" y1="108.4" x2="256.9" y2="108.4" stroke="#000" stroke-width="0.9" />
<text x="249.1" y="110.9" font-size="6.9" text-anchor="end" font-weight="normal" fill="#111" >0.6</text>
<line x1="254.4" y1="100.1" x2="255.9" y2="100.1" stroke="#000" stroke-width="0.8" />
<line x1="254.4" y1="91.8" x2="256.9" y2="91.8" stroke="#000" stroke-width="0.9" />
<text x="249.1" y="94.3" font-size="6.9" text-anchor="end" font-weight="normal" fill="#111" >0.7</text>
<line x1="254.4" y1="83.5" x2="255.9" y2="83.5" stroke="#000" stroke-width="0.8" />
<line x1="254.4" y1="75.2" x2="256.9" y2="75.2" stroke="#000" stroke-width="0.9" />
<text x="249.1" y="77.7" font-size="6.9" text-anchor="end" font-weight="normal" fill="#111" >0.8</text>
<line x1="254.4" y1="66.9" x2="255.9" y2="66.9" stroke="#000" stroke-width="0.8" />
<line x1="254.4" y1="58.6" x2="256.9" y2="58.6" stroke="#000" stroke-width="0.9" />
<text x="249.1" y="61.1" font-size="6.9" text-anchor="end" font-weight="normal" fill="#111" >0.9</text>
<line x1="254.4" y1="50.3" x2="255.9" y2="50.3" stroke="#000" stroke-width="0.8" />
<line x1="254.4" y1="42" x2="256.9" y2="42" stroke="#000" stroke-width="0.9" />
<text x="249.1" y="44.5" font-size="6.9" text-anchor="end" font-weight="normal" fill="#111" >1.0</text>
<line x1="254.4" y1="33.7" x2="255.9" y2="33.7" stroke="#000" stroke-width="0.8" />
<line x1="254.4" y1="25.4" x2="256.9" y2="25.4" stroke="#000" stroke-width="0.9" />
<text x="249.1" y="27.9" font-size="6.9" text-anchor="end" font-weight="normal" fill="#111" >1.1</text>
<line x1="254.4" y1="17.1" x2="255.9" y2="17.1" stroke="#000" stroke-width="0.8" />
<line x1="254.4" y1="8.8" x2="256.9" y2="8.8" stroke="#000" stroke-width="0.9" />
<text x="249.1" y="11.3" font-size="6.9" text-anchor="end" font-weight="normal" fill="#111" >1.2</text>
<line x1="254.4" y1="161.2" x2="254.4" y2="158.7" stroke="#000" stroke-width="0.9" />
<line x1="262.15" y1="161.2" x2="262.15" y2="159.7" stroke="#000" stroke-width="0.8" />
<text x="257" y="166.2" font-size="6.9" text-anchor="end" font-weight="normal" fill="#111" transform="rotate(-45 257 166.2)" >0</text>
<line x1="269.9" y1="161.2" x2="269.9" y2="158.7" stroke="#000" stroke-width="0.9" />
<line x1="277.65" y1="161.2" x2="277.65" y2="159.7" stroke="#000" stroke-width="0.8" />
<text x="272.5" y="166.2" font-size="6.9" text-anchor="end" font-weight="normal" fill="#111" transform="rotate(-45 272.5 166.2)" >180</text>
<line x1="285.4" y1="161.2" x2="285.4" y2="158.7" stroke="#000" stroke-width="0.9" />
<line x1="293.15" y1="161.2" x2="293.15" y2="159.7" stroke="#000" stroke-width="0.8" />
<text x="288" y="166.2" font-size="6.9" text-anchor="end" font-weight="normal" fill="#111" transform="rotate(-45 288 166.2)" >360</text>
<line x1="300.9" y1="161.2" x2="300.9" y2="158.7" stroke="#000" stroke-width="0.9" />
<line x1="308.65" y1="161.2" x2="308.65" y2="159.7" stroke="#000" stroke-width="0.8" />
<text x="303.5" y="166.2" font-size="6.9" text-anchor="end" font-weight="normal" fill="#111" transform="rotate(-45 303.5 166.2)" >540</text>
<line x1="316.4" y1="161.2" x2="316.4" y2="158.7" stroke="#000" stroke-width="0.9" />
<line x1="324.15" y1="161.2" x2="324.15" y2="159.7" stroke="#000" stroke-width="0.8" />
<text x="319" y="166.2" font-size="6.9" text-anchor="end" font-weight="normal" fill="#111" transform="rotate(-45 319 166.2)" >720</text>
<line x1="331.9" y1="161.2" x2="331.9" y2="158.7" stroke="#000" stroke-width="0.9" />
<line x1="339.65" y1="161.2" x2="339.65" y2="159.7" stroke="#000" stroke-width="0.8" />
<text x="334.5" y="166.2" font-size="6.9" text-anchor="end" font-weight="normal" fill="#111" transform="rotate(-45 334.5 166.2)" >900</text>
<line x1="347.4" y1="161.2" x2="347.4" y2="158.7" stroke="#000" stroke-width="0.9" />
<line x1="355.15" y1="161.2" x2="355.15" y2="159.7" stroke="#000" stroke-width="0.8" />
<text x="350" y="166.2" font-size="6.9" text-anchor="end" font-weight="normal" fill="#111" transform="rotate(-45 350 166.2)" >1080</text>
<line x1="362.9" y1="161.2" x2="362.9" y2="158.7" stroke="#000" stroke-width="0.9" />
<line x1="370.65" y1="161.2" x2="370.65" y2="159.7" stroke="#000" stroke-width="0.8" />
<text x="365.5" y="166.2" font-size="6.9" text-anchor="end" font-weight="normal" fill="#111" transform="rotate(-45 365.5 166.2)" >1260</text>
<line x1="378.4" y1="161.2" x2="378.4" y2="158.7" stroke="#000" stroke-width="0.9" />
<line x1="386.15" y1="161.2" x2="386.15" y2="159.7" stroke="#000" stroke-width="0.8" />
<text x="381" y="166.2" font-size="6.9" text-anchor="end" font-weight="normal" fill="#111" transform="rotate(-45 381 166.2)" >1440</text>
<line x1="393.9" y1="161.2" x2="393.9" y2="158.7" stroke="#000" stroke-width="0.9" />
<line x1="401.65" y1="161.2" x2="401.65" y2="159.7" stroke="#000" stroke-width="0.8" />
<text x="396.5" y="166.2" font-size="6.9" text-anchor="end" font-weight="normal" fill="#111" transform="rotate(-45 396.5 166.2)" >1620</text>
<line x1="409.4" y1="161.2" x2="409.4" y2="158.7" stroke="#000" stroke-width="0.9" />
<line x1="417.15" y1="161.2" x2="417.15" y2="159.7" stroke="#000" stroke-width="0.8" />
<text x="412" y="166.2" font-size="6.9" text-anchor="end" font-weight="normal" fill="#111" transform="rotate(-45 412 166.2)" >1800</text>
<line x1="424.9" y1="161.2" x2="424.9" y2="158.7" stroke="#000" stroke-width="0.9" />
<line x1="432.65" y1="161.2" x2="432.65" y2="159.7" stroke="#000" stroke-width="0.8" />
<text x="427.5" y="166.2" font-size="6.9" text-anchor="end" font-weight="normal" fill="#111" transform="rotate(-45 427.5 166.2)" >1980</text>
<line x1="440.4" y1="161.2" x2="440.4" y2="158.7" stroke="#000" stroke-width="0.9" />
<text x="443" y="166.2" font-size="6.9" text-anchor="end" font-weight="normal" fill="#111" transform="rotate(-45 443 166.2)" >2160</text>
<text x="349.5" y="183.8" font-size="7.2" text-anchor="middle" font-weight="normal" fill="#111" >Time (sec)</text>
<text x="231" y="85.6" font-size="7.5" text-anchor="middle" font-weight="normal" fill="#111" transform="rotate(-90 231 85.6)" >Response (Ra/Rg)</text>
<text x="282.6" y="81.7" font-size="7.5" text-anchor="middle" font-weight="normal" fill="#111" transform="rotate(-90 282.6 81.7)" >30 ppm</text>
<text x="310.5" y="60.5" font-size="7.5" text-anchor="middle" font-weight="normal" fill="#111" transform="rotate(-90 310.5 60.5)" >60 ppm</text>
<text x="342.9" y="25.2" font-size="7.5" text-anchor="middle" font-weight="normal" fill="#111" transform="rotate(-90 342.9 25.2)" >130 ppm</text>
<text x="373.1" y="25.5" font-size="7.5" text-anchor="middle" font-weight="normal" fill="#111" transform="rotate(-90 373.1 25.5)" >200 ppm</text>
<text x="404" y="24.2" font-size="7.5" text-anchor="middle" font-weight="normal" fill="#111" transform="rotate(-90 404 24.2)" >250 ppm</text>
<text x="434.9" y="24" font-size="7.5" text-anchor="middle" font-weight="normal" fill="#111" transform="rotate(-90 434.9 24)" >300 ppm</text>
<rect x="264.4" y="10.9" width="50.2" height="26.2" fill="#fff" stroke="#333" stroke-width="0.8" />
<line x1="265.3" y1="15.6" x2="281.6" y2="15.6" stroke="#000" stroke-width="1.2" />
<text x="285" y="18.2" font-size="7.2" fill="#111"><tspan font-style="italic">P</tspan> = 42%</text>
<line x1="265.3" y1="24.3" x2="281.6" y2="24.3" stroke="#ff1010" stroke-width="1.2" />
<text x="285" y="26.9" font-size="7.2" fill="#111"><tspan font-style="italic">P</tspan> = 29%</text>
<line x1="265.3" y1="33.3" x2="281.6" y2="33.3" stroke="#0a14f0" stroke-width="2.2" />
<text x="285" y="35.9" font-size="7.2" fill="#111"><tspan font-style="italic">P</tspan> = 58%</text>
<text x="224.4" y="13.8" font-size="14.5" text-anchor="start" font-weight="bold" fill="#000" >b</text>
<rect x="481.7" y="8.5" width="194" height="152.7" fill="none" stroke="#000" stroke-width="1.1" />
<line x1="481.7" y1="141.1" x2="484.5" y2="141.1" stroke="#000" stroke-width="0.9" />
<text x="476.1" y="143.6" font-size="6.8" text-anchor="end" font-weight="normal" fill="#111" >0.4</text>
<line x1="481.7" y1="120.7" x2="483.5" y2="120.7" stroke="#000" stroke-width="0.8" />
<line x1="481.7" y1="100.3" x2="484.5" y2="100.3" stroke="#000" stroke-width="0.9" />
<text x="476.1" y="102.8" font-size="6.8" text-anchor="end" font-weight="normal" fill="#111" >0.6</text>
<line x1="481.7" y1="79.9" x2="483.5" y2="79.9" stroke="#000" stroke-width="0.8" />
<line x1="481.7" y1="59.5" x2="484.5" y2="59.5" stroke="#000" stroke-width="0.9" />
<text x="476.1" y="62" font-size="6.8" text-anchor="end" font-weight="normal" fill="#111" >0.8</text>
<line x1="481.7" y1="39.1" x2="483.5" y2="39.1" stroke="#000" stroke-width="0.8" />
<line x1="481.7" y1="18.7" x2="484.5" y2="18.7" stroke="#000" stroke-width="0.9" />
<text x="476.1" y="21.2" font-size="6.8" text-anchor="end" font-weight="normal" fill="#111" >1.0</text>
<line x1="481.7" y1="161.5" x2="483.5" y2="161.5" stroke="#000" stroke-width="0.8" />
<line x1="481.9" y1="161.2" x2="481.9" y2="158.4" stroke="#000" stroke-width="0.9" />
<line x1="494.8" y1="161.2" x2="494.8" y2="159.4" stroke="#000" stroke-width="0.8" />
<text x="481.9" y="170.4" font-size="6.9" text-anchor="middle" font-weight="normal" fill="#111" >25</text>
<line x1="507.7" y1="161.2" x2="507.7" y2="158.4" stroke="#000" stroke-width="0.9" />
<line x1="520.6" y1="161.2" x2="520.6" y2="159.4" stroke="#000" stroke-width="0.8" />
<text x="507.7" y="170.4" font-size="6.9" text-anchor="middle" font-weight="normal" fill="#111" >30</text>
<line x1="533.5" y1="161.2" x2="533.5" y2="158.4" stroke="#000" stroke-width="0.9" />
<line x1="546.4" y1="161.2" x2="546.4" y2="159.4" stroke="#000" stroke-width="0.8" />
<text x="533.5" y="170.4" font-size="6.9" text-anchor="middle" font-weight="normal" fill="#111" >35</text>
<line x1="559.3" y1="161.2" x2="559.3" y2="158.4" stroke="#000" stroke-width="0.9" />
<line x1="572.2" y1="161.2" x2="572.2" y2="159.4" stroke="#000" stroke-width="0.8" />
<text x="559.3" y="170.4" font-size="6.9" text-anchor="middle" font-weight="normal" fill="#111" >40</text>
<line x1="585.1" y1="161.2" x2="585.1" y2="158.4" stroke="#000" stroke-width="0.9" />
<line x1="598" y1="161.2" x2="598" y2="159.4" stroke="#000" stroke-width="0.8" />
<text x="585.1" y="170.4" font-size="6.9" text-anchor="middle" font-weight="normal" fill="#111" >45</text>
<line x1="610.9" y1="161.2" x2="610.9" y2="158.4" stroke="#000" stroke-width="0.9" />
<line x1="623.8" y1="161.2" x2="623.8" y2="159.4" stroke="#000" stroke-width="0.8" />
<text x="610.9" y="170.4" font-size="6.9" text-anchor="middle" font-weight="normal" fill="#111" >50</text>
<line x1="636.7" y1="161.2" x2="636.7" y2="158.4" stroke="#000" stroke-width="0.9" />
<line x1="649.6" y1="161.2" x2="649.6" y2="159.4" stroke="#000" stroke-width="0.8" />
<text x="636.7" y="170.4" font-size="6.9" text-anchor="middle" font-weight="normal" fill="#111" >55</text>
<line x1="662.5" y1="161.2" x2="662.5" y2="158.4" stroke="#000" stroke-width="0.9" />
<text x="662.5" y="170.4" font-size="6.9" text-anchor="middle" font-weight="normal" fill="#111" >60</text>
<text x="577.6" y="180.9" font-size="7.25" text-anchor="middle" font-weight="normal" fill="#111" >Porosity (%)</text>
<text x="458.9" y="94.3" font-size="7.6" text-anchor="middle" font-weight="normal" fill="#111" transform="rotate(-90 458.9 94.3)" >Response (Ra/Rg)</text>
<path d="M502.54 146.81 L526.48 140.97 L544.44 136.13 L551.92 133.92 L559.4 131.56 L566.89 129.02 L574.37 126.29 L581.85 123.36 L590.83 119.63 L598.31 116.34 L607.29 112.23 L626.74 102.81 L652.18 89.9" fill="none" stroke="#4f4f4f" stroke-width="1.3" stroke-linejoin="round" />
<path d="M502.54 146 L516.01 142.71 L526.48 139.96 L535.46 137.34 L544.44 134.39 L551.92 131.61 L559.4 128.49 L566.89 124.96 L574.37 120.98 L581.85 116.55 L590.83 110.72 L598.31 105.46 L607.29 98.75 L616.27 91.67 L626.74 83.04 L637.22 74.13 L652.18 61.13" fill="none" stroke="#f03232" stroke-width="1.3" stroke-linejoin="round" />
<path d="M502.54 145.18 L516.01 142.37 L526.48 139.83 L535.46 137.18 L539.95 135.63 L544.44 133.92 L551.92 130.61 L556.41 128.33 L559.4 126.67 L563.89 123.96 L566.89 122 L569.88 119.9 L574.37 116.5 L577.36 114.07 L581.85 110.2 L586.34 106.05 L590.83 101.66 L598.31 93.84 L607.29 83.71 L616.27 72.91 L626.74 59.63 L637.22 45.83 L652.18 25.64" fill="none" stroke="#2266dd" stroke-width="1.3" stroke-linejoin="round" />
<path d="M502.54 143.34 L516.01 140.4 L526.48 137.74 L535.46 134.98 L539.95 133.37 L544.44 131.58 L551.92 128.15 L556.41 125.78 L559.4 124.06 L563.89 121.25 L566.89 119.21 L569.88 117.04 L574.37 113.52 L577.36 111 L581.85 106.99 L586.34 102.7 L590.83 98.15 L598.31 90.05 L607.29 79.58 L616.27 68.4 L626.74 54.67 L637.22 40.4 L652.18 19.52" fill="none" stroke="#2ca05a" stroke-width="1.3" stroke-linejoin="round" />
<rect x="499.09" y="143.36" width="6.9" height="6.9" fill="#4f4f4f" stroke="none" stroke-width="1" />
<rect x="566.17" y="124.59" width="6.9" height="6.9" fill="#4f4f4f" stroke="none" stroke-width="1" />
<rect x="648.73" y="86.45" width="6.9" height="6.9" fill="#4f4f4f" stroke="none" stroke-width="1" />
<circle cx="502.54" cy="146" r="3.8" fill="#f03232" stroke="none" stroke-width="1" />
<circle cx="569.62" cy="123.56" r="3.8" fill="#f03232" stroke="none" stroke-width="1" />
<circle cx="652.18" cy="61.13" r="3.8" fill="#f03232" stroke="none" stroke-width="1" />
<path d="M502.54 140.58 L497.84 148.38 L507.24 148.38 Z" fill="#2266dd" stroke="none" stroke-width="1" />
<path d="M569.62 115.49 L564.92 123.29 L574.32 123.29 Z" fill="#2266dd" stroke="none" stroke-width="1" />
<path d="M652.18 21.04 L647.48 28.84 L656.88 28.84 Z" fill="#2266dd" stroke="none" stroke-width="1" />
<path d="M502.54 147.94 L497.84 140.14 L507.24 140.14 Z" fill="#2ca05a" stroke="none" stroke-width="1" />
<path d="M569.62 121.83 L564.92 114.03 L574.32 114.03 Z" fill="#2ca05a" stroke="none" stroke-width="1" />
<path d="M652.18 24.12 L647.48 16.32 L656.88 16.32 Z" fill="#2ca05a" stroke="none" stroke-width="1" />
<rect x="502" y="14.9" width="55.2" height="40.8" fill="#fff" stroke="#333" stroke-width="0.8" />
<line x1="502.9" y1="20.5" x2="521.5" y2="20.5" stroke="#4f4f4f" stroke-width="1.3" />
<rect x="509.1" y="17.39" width="6.21" height="6.21" fill="#4f4f4f" stroke="none" stroke-width="1" />
<text x="525.3" y="23.1" font-size="7.2" text-anchor="start" font-weight="normal" fill="#111" >30 ppm</text>
<line x1="502.9" y1="30.3" x2="521.5" y2="30.3" stroke="#f03232" stroke-width="1.3" />
<circle cx="512.2" cy="30.3" r="3.42" fill="#f03232" stroke="none" stroke-width="1" />
<text x="525.3" y="32.9" font-size="7.2" text-anchor="start" font-weight="normal" fill="#111" >60 ppm</text>
<line x1="502.9" y1="40.3" x2="521.5" y2="40.3" stroke="#2266dd" stroke-width="1.3" />
<path d="M512.2 36.16 L507.97 43.18 L516.43 43.18 Z" fill="#2266dd" stroke="none" stroke-width="1" />
<text x="525.3" y="42.9" font-size="7.2" text-anchor="start" font-weight="normal" fill="#111" >200 ppm</text>
<line x1="502.9" y1="50.5" x2="521.5" y2="50.5" stroke="#2ca05a" stroke-width="1.3" />
<path d="M512.2 54.64 L507.97 47.62 L516.43 47.62 Z" fill="#2ca05a" stroke="none" stroke-width="1" />
<text x="525.3" y="53.1" font-size="7.2" text-anchor="start" font-weight="normal" fill="#111" >300 ppm</text>
<text x="452.5" y="15.3" font-size="14.5" text-anchor="start" font-weight="bold" fill="#000" >c</text>
<line x1="0" y1="185.9" x2="685" y2="185.9" stroke="#2a7d4f" stroke-width="1.7" stroke-dasharray="3.4,3.45"/>
<line x1="0" y1="561.8" x2="685" y2="561.8" stroke="#2a7d4f" stroke-width="1.7" stroke-dasharray="3.4,3.45" stroke-dashoffset="-2.5"/>
<g clip-path="url(#clipD)">
<rect x="23.2" y="196" width="170.1" height="170.7" fill="url(#gradD0)" stroke="none" stroke-width="1" />
<path d="M18.2 205.1 L198.3 302.44 L198.3 446.7 L-56.8 446.7" fill="url(#gradD)" stroke="none" stroke-width="1" stroke-linejoin="round" />
<g filter="url(#blurD)">
<line x1="-78.1" y1="178.03" x2="273.79" y2="368.23" stroke="#000000" stroke-width="0.97" opacity="0.03"/>
<line x1="-111.42" y1="239.68" x2="240.47" y2="429.88" stroke="#000000" stroke-width="0.68" opacity="0.03"/>
<line x1="-99.88" y1="218.35" x2="252" y2="408.54" stroke="#ffffff" stroke-width="0.68" opacity="0.03"/>
<line x1="-121.25" y1="257.87" x2="230.64" y2="448.07" stroke="#000000" stroke-width="1.14" opacity="0.04"/>
<line x1="-95.33" y1="209.93" x2="256.56" y2="400.12" stroke="#ffffff" stroke-width="0.84" opacity="0.04"/>
<line x1="-76.02" y1="174.19" x2="275.87" y2="364.39" stroke="#000000" stroke-width="1.06" opacity="0.02"/>
<line x1="-79.23" y1="180.14" x2="272.66" y2="370.34" stroke="#ffffff" stroke-width="0.68" opacity="0.04"/>
<line x1="-119.76" y1="255.11" x2="232.13" y2="445.31" stroke="#000000" stroke-width="1.32" opacity="0.03"/>
<line x1="-75.89" y1="173.96" x2="275.99" y2="364.16" stroke="#ffffff" stroke-width="0.64" opacity="0.04"/>
<line x1="-90.78" y1="201.49" x2="261.11" y2="391.69" stroke="#ffffff" stroke-width="0.86" opacity="0.02"/>
<line x1="-70.94" y1="164.79" x2="280.95" y2="354.99" stroke="#ffffff" stroke-width="1.59" opacity="0.03"/>
<line x1="-98.07" y1="215" x2="253.81" y2="405.19" stroke="#000000" stroke-width="1.13" opacity="0.02"/>
<line x1="-78.91" y1="179.54" x2="272.98" y2="369.74" stroke="#ffffff" stroke-width="1.51" opacity="0.02"/>
<line x1="-85.44" y1="191.62" x2="266.45" y2="381.81" stroke="#ffffff" stroke-width="1.38" opacity="0.01"/>
<line x1="-104.96" y1="227.74" x2="246.93" y2="417.94" stroke="#000000" stroke-width="1.55" opacity="0.04"/>
<line x1="-119.38" y1="254.41" x2="232.51" y2="444.6" stroke="#000000" stroke-width="0.99" opacity="0.04"/>
<line x1="-114.96" y1="246.23" x2="236.93" y2="436.43" stroke="#ffffff" stroke-width="1.37" opacity="0.01"/>
<line x1="-112.93" y1="242.48" x2="238.96" y2="432.67" stroke="#ffffff" stroke-width="0.75" opacity="0.02"/>
<line x1="-73.15" y1="168.88" x2="278.74" y2="359.07" stroke="#ffffff" stroke-width="1.58" opacity="0.04"/>
<line x1="-82.62" y1="186.4" x2="269.27" y2="376.6" stroke="#000000" stroke-width="1.27" opacity="0.03"/>
<line x1="-112.99" y1="242.6" x2="238.9" y2="432.79" stroke="#000000" stroke-width="1.12" opacity="0.04"/>
<line x1="-113.57" y1="243.66" x2="238.32" y2="433.86" stroke="#ffffff" stroke-width="0.73" opacity="0.03"/>
<line x1="-105.06" y1="227.93" x2="246.82" y2="418.13" stroke="#000000" stroke-width="1.11" opacity="0.01"/>
<line x1="-99.83" y1="218.25" x2="252.06" y2="408.45" stroke="#ffffff" stroke-width="1.55" opacity="0.02"/>
<line x1="-74.46" y1="171.31" x2="277.43" y2="361.51" stroke="#ffffff" stroke-width="0.94" opacity="0.01"/>
<line x1="-103.51" y1="225.06" x2="248.38" y2="415.25" stroke="#ffffff" stroke-width="0.79" opacity="0.03"/>
<line x1="-78.15" y1="178.14" x2="273.73" y2="368.34" stroke="#ffffff" stroke-width="1.25" opacity="0.02"/>
<line x1="-106.39" y1="230.38" x2="245.5" y2="420.58" stroke="#000000" stroke-width="1.35" opacity="0.03"/>
<line x1="-72.84" y1="168.31" x2="279.05" y2="358.5" stroke="#000000" stroke-width="1.25" opacity="0.02"/>
<line x1="-85.8" y1="192.29" x2="266.09" y2="382.49" stroke="#ffffff" stroke-width="0.77" opacity="0.02"/>
<line x1="-95.62" y1="210.46" x2="256.27" y2="400.66" stroke="#000000" stroke-width="0.52" opacity="0.04"/>
<line x1="-107.62" y1="232.66" x2="244.27" y2="422.85" stroke="#000000" stroke-width="1.24" opacity="0.02"/>
<line x1="-72.85" y1="168.33" x2="279.04" y2="358.52" stroke="#000000" stroke-width="0.83" opacity="0.04"/>
<line x1="-75.12" y1="172.54" x2="276.77" y2="362.73" stroke="#ffffff" stroke-width="1.38" opacity="0.01"/>
<line x1="-101.75" y1="221.8" x2="250.14" y2="412" stroke="#ffffff" stroke-width="0.93" opacity="0.03"/>
<line x1="-90.36" y1="200.72" x2="261.53" y2="390.91" stroke="#ffffff" stroke-width="0.92" opacity="0.01"/>
<line x1="-111.91" y1="240.59" x2="239.98" y2="430.78" stroke="#000000" stroke-width="0.68" opacity="0.02"/>
<line x1="-102.29" y1="222.8" x2="249.6" y2="413" stroke="#000000" stroke-width="0.98" opacity="0.01"/>
<line x1="-115.7" y1="247.61" x2="236.19" y2="437.8" stroke="#000000" stroke-width="1.31" opacity="0.03"/>
<line x1="-105.78" y1="229.25" x2="246.11" y2="419.44" stroke="#000000" stroke-width="1.5" opacity="0.02"/>
<line x1="-112.3" y1="241.31" x2="239.59" y2="431.51" stroke="#000000" stroke-width="0.41" opacity="0.04"/>
<line x1="-89.82" y1="199.73" x2="262.07" y2="389.93" stroke="#ffffff" stroke-width="0.5" opacity="0.03"/>
<line x1="-108.02" y1="233.4" x2="243.87" y2="423.6" stroke="#ffffff" stroke-width="1.55" opacity="0.02"/>
<line x1="-86.92" y1="194.37" x2="264.96" y2="384.56" stroke="#000000" stroke-width="0.71" opacity="0.03"/>
<line x1="-82.72" y1="186.6" x2="269.17" y2="376.79" stroke="#000000" stroke-width="1.22" opacity="0.02"/>
<line x1="-83.92" y1="188.82" x2="267.96" y2="379.01" stroke="#ffffff" stroke-width="0.96" opacity="0.04"/>
<line x1="-84.09" y1="189.13" x2="267.8" y2="379.32" stroke="#ffffff" stroke-width="0.73" opacity="0.02"/>
<line x1="-71.33" y1="165.51" x2="280.56" y2="355.71" stroke="#000000" stroke-width="1.25" opacity="0.04"/>
<line x1="-71.58" y1="165.98" x2="280.31" y2="356.18" stroke="#000000" stroke-width="0.69" opacity="0.03"/>
<line x1="-74.45" y1="171.28" x2="277.44" y2="361.48" stroke="#ffffff" stroke-width="1.47" opacity="0.02"/>
<line x1="-110.58" y1="238.13" x2="241.31" y2="428.33" stroke="#000000" stroke-width="0.46" opacity="0.03"/>
<line x1="-98.15" y1="215.14" x2="253.74" y2="405.33" stroke="#ffffff" stroke-width="1.41" opacity="0.03"/>
<line x1="-70.46" y1="163.91" x2="281.43" y2="354.1" stroke="#000000" stroke-width="1.48" opacity="0.01"/>
<line x1="-79.31" y1="180.27" x2="272.58" y2="370.47" stroke="#ffffff" stroke-width="1.13" opacity="0.03"/>
<line x1="-111.01" y1="238.94" x2="240.87" y2="429.14" stroke="#ffffff" stroke-width="0.82" opacity="0.02"/>
</g>
<path d="M18.2 205.1 L198.3 302.44 L198.3 446.7 L-56.8 446.7" fill="url(#gradD2)" stroke="none" stroke-width="1" stroke-linejoin="round" />
<line x1="21.2" y1="207.02" x2="195.3" y2="301.12" stroke="#ececec" stroke-width="1.1" opacity="0.85"/>
<g filter="url(#blurD2)">
<circle cx="92" cy="249" r="5" fill="#202020" stroke="none" stroke-width="1" opacity="0.35"/>
<circle cx="84" cy="246" r="4" fill="#303030" stroke="none" stroke-width="1" opacity="0.3"/>
<circle cx="101" cy="254" r="4" fill="#202020" stroke="none" stroke-width="1" opacity="0.3"/>
<circle cx="145" cy="274" r="5" fill="#202020" stroke="none" stroke-width="1" opacity="0.3"/>
<circle cx="155" cy="280" r="5" fill="#202020" stroke="none" stroke-width="1" opacity="0.25"/>
<circle cx="141" cy="266.5" r="3" fill="#a8a8a8" stroke="none" stroke-width="1" opacity="0.7"/>
<circle cx="150" cy="269.5" r="3.5" fill="#a0a0a0" stroke="none" stroke-width="1" opacity="0.7"/>
<circle cx="157" cy="273.5" r="3" fill="#a4a4a4" stroke="none" stroke-width="1" opacity="0.6"/>
</g>
</g>
<rect x="87.8" y="243.2" width="12.3" height="11.3" fill="none" stroke="#d42a2a" stroke-width="0.9" stroke-dasharray="1.2,1"/>
<line x1="100.1" y1="243.2" x2="195.5" y2="196.8" stroke="#d42a2a" stroke-width="1" stroke-dasharray="4,2.6"/>
<line x1="100.1" y1="254.5" x2="194" y2="366" stroke="#c42020" stroke-width="1" stroke-dasharray="4,2.6"/>
<rect x="24.5" y="363.3" width="32.8" height="1.6" fill="#fff" stroke="none" stroke-width="1" />
<text x="24.4" y="361.2" font-size="8.4" text-anchor="start" font-weight="bold" fill="#fff" >100 nm</text>
<text x="5.4" y="208.1" font-size="14.5" text-anchor="start" font-weight="bold" fill="#000" >d</text>
<g clip-path="url(#clipE)">
<rect x="196.1" y="196.1" width="170.9" height="170.6" fill="#6e6e6e" stroke="none" stroke-width="1" />
<rect x="196.1" y="196.1" width="170.9" height="170.6" fill="#000" stroke="none" stroke-width="1" filter="url(#noiseE1)"/>
<rect x="196.1" y="196.1" width="170.9" height="170.6" fill="url(#gradE)" stroke="none" stroke-width="1" />
<g clip-path="url(#clipE2)">
<rect x="196.1" y="196.1" width="170.9" height="170.6" fill="#000" stroke="none" stroke-width="1" filter="url(#noiseE2)"/>
</g>
</g>
<line x1="196.1" y1="263.7" x2="367" y2="345.32" stroke="#e8c800" stroke-width="1.1" stroke-dasharray="4.2,3"/>
<text x="199.2" y="208.6" font-size="14.5" text-anchor="start" font-weight="bold" fill="#fff" >e</text>
<text x="341.8" y="211.4" font-size="16.5" text-anchor="start" font-weight="bold" fill="#c81414" >Pd</text>
<text x="322.8" y="364.2" font-size="15" text-anchor="start" font-weight="bold" fill="#f5e600" >GaN</text>
<rect x="202.9" y="357.2" width="14.9" height="1.8" fill="#fff" stroke="none" stroke-width="1" />
<text x="209.6" y="356" font-size="6.2" text-anchor="middle" font-weight="bold" fill="#fff" >2 nm</text>
<text x="266" y="299.6" font-size="9.6" text-anchor="start" font-weight="normal" fill="#d42020" transform="rotate(-15 266 299.6)" >d=0.225 nm</text>
<line x1="316.6" y1="290" x2="315.6" y2="276" stroke="#d42020" stroke-width="0.9" />
<path d="M315.3 273.0 L313.7 277.4 L317.3 277.2 Z" fill="#d42020" stroke="none" stroke-width="1" />
<line x1="319.6" y1="289" x2="318.6" y2="281" stroke="#d42020" stroke-width="0.7" />
<line x1="321" y1="283.8" x2="328.3" y2="281.8" stroke="#d42020" stroke-width="0.8" />
<line x1="321.4" y1="286" x2="328.7" y2="284" stroke="#d42020" stroke-width="0.8" />
<text x="321.6" y="298.6" font-size="9.6" text-anchor="start" font-weight="normal" fill="#d42020" transform="rotate(-17 321.6 298.6)" letter-spacing="0.4">(111)</text>
<text x="240.1" y="363" font-size="9.5" text-anchor="start" font-weight="normal" fill="#f2da00" transform="rotate(-60 240.1 363)" >d=0.274 nm</text>
<text x="271.9" y="333.8" font-size="9.5" text-anchor="start" font-weight="normal" fill="#f2da00" transform="rotate(-65.5 271.9 333.8)" letter-spacing="0.3">(100)</text>
<line x1="263.6" y1="307.2" x2="269.2" y2="310.3" stroke="#f2da00" stroke-width="0.9" />
<path d="M261.6 306.2 L265.4 305.7 L264.0 309.0 Z" fill="#f2da00" stroke="none" stroke-width="1" />
<line x1="264.2" y1="313.6" x2="269.6" y2="316.4" stroke="#f2da00" stroke-width="0.8" />
<line x1="263.2" y1="315.6" x2="268.6" y2="318.4" stroke="#f2da00" stroke-width="0.8" />
<line x1="268.8" y1="311.5" x2="266.5" y2="316" stroke="#f2da00" stroke-width="0.6" />
<text x="373.8" y="207.6" font-size="14.5" text-anchor="start" font-weight="bold" fill="#000" >f</text>
<line x1="385.9" y1="201.3" x2="429.3" y2="201.3" stroke="#222" stroke-width="1" />
<path d="M429.3 201.3 C434.3 206.3 438.3 208 447.6 208" fill="none" stroke="#d42020" stroke-width="1" />
<line x1="447.6" y1="208" x2="498" y2="208" stroke="#7a7a7a" stroke-width="1.1" />
<path d="M429.3 248.7 C430.3 256.2 437.3 257.2 447.6 257.2" fill="none" stroke="#d42020" stroke-width="1" />
<line x1="447.6" y1="257.2" x2="498" y2="257.2" stroke="#7a7a7a" stroke-width="1.3" />
<path d="M429.3 288 C430.3 293.5 437.3 294.5 447.6 294.5" fill="none" stroke="#d42020" stroke-width="1" />
<line x1="447.6" y1="294.5" x2="498" y2="294.5" stroke="#7a7a7a" stroke-width="1.3" />
<line x1="385.9" y1="264.9" x2="498" y2="264.9" stroke="#333" stroke-width="1" stroke-dasharray="1,1.1"/>
<line x1="429.3" y1="201.9" x2="429.3" y2="309.5" stroke="#e03030" stroke-width="1" stroke-dasharray="4.2,2.4"/>
<line x1="447.6" y1="201.9" x2="447.6" y2="309.5" stroke="#e03030" stroke-width="1" stroke-dasharray="4.2,2.4"/>
<rect x="389" y="265.3" width="40.2" height="36.6" fill="url(#pdgL)" stroke="none" stroke-width="1" />
<text x="408" y="295.2" font-size="7" text-anchor="middle" font-weight="normal" fill="#111" >Pd</text>
<line x1="391.3" y1="204.3" x2="391.3" y2="261.9" stroke="#111" stroke-width="0.9" />
<path d="M391.3 201.3 L393.61 205.5 L388.99 205.5 Z" fill="#111" stroke="none" stroke-width="1" />
<path d="M391.3 264.9 L388.99 260.7 L393.61 260.7 Z" fill="#111" stroke="none" stroke-width="1" />
<line x1="492.2" y1="210.5" x2="492.2" y2="254.7" stroke="#111" stroke-width="0.9" />
<path d="M492.2 208 L494.12 211.5 L490.27 211.5 Z" fill="#111" stroke="none" stroke-width="1" />
<path d="M492.2 257.2 L490.27 253.7 L494.12 253.7 Z" fill="#111" stroke="none" stroke-width="1" />
<line x1="495.1" y1="259.7" x2="495.1" y2="292" stroke="#111" stroke-width="0.9" />
<path d="M495.1 257.8 L497.03 261.3 L493.18 261.3 Z" fill="#111" stroke="none" stroke-width="1" />
<path d="M495.1 294.5 L493.18 291 L497.03 291 Z" fill="#111" stroke="none" stroke-width="1" />
<text x="500.4" y="260.4" font-size="7.5" text-anchor="start" font-weight="normal" fill="#222" >E<tspan font-size="4.5" dy="1.5">c</tspan></text>
<text x="500.4" y="268.5" font-size="7.5" text-anchor="start" font-weight="normal" fill="#222" >E<tspan font-size="4.5" dy="1.5">f</tspan></text>
<text x="500.4" y="297.5" font-size="7.5" text-anchor="start" font-weight="normal" fill="#222" >E<tspan font-size="4.5" dy="1.5">v</tspan></text>
<text x="427.6" y="198.8" font-size="8.65" text-anchor="middle" font-weight="normal" fill="#111" >Vacuum level</text>
<text x="474.6" y="225.8" font-size="5.9" text-anchor="middle" font-weight="normal" fill="#222" >qχ = 4.53 eV</text>
<text x="477.3" y="274.2" font-size="5.8" text-anchor="middle" font-weight="normal" fill="#222" >Eg = 3.4 eV</text>
<text x="475" y="302" font-size="7.2" text-anchor="middle" font-weight="normal" fill="#111" >GaN</text>
<text x="411.2" y="252" font-size="6.3" text-anchor="middle" font-weight="normal" fill="#222" >Φ<tspan font-size="4" dy="1.2">Pd</tspan><tspan dy="-1.2"> = 5.12 eV</tspan></text>
<line x1="548.6" y1="200.7" x2="591.3" y2="200.7" stroke="#222" stroke-width="1" />
<path d="M591.3 200.7 C596.3 205.7 600.3 207.4 600.5 207.4" fill="none" stroke="#d42020" stroke-width="1" />
<line x1="600.5" y1="207.4" x2="659.8" y2="207.4" stroke="#7a7a7a" stroke-width="1.1" />
<path d="M591.3 248.6 C592.3 255.6 599.3 256.6 600.5 256.6" fill="none" stroke="#d42020" stroke-width="1" />
<line x1="600.5" y1="256.6" x2="659.8" y2="256.6" stroke="#7a7a7a" stroke-width="1.3" />
<path d="M591.3 287.9 C592.3 293.4 599.3 294.4 600.5 294.4" fill="none" stroke="#d42020" stroke-width="1" />
<line x1="600.5" y1="294.4" x2="659.8" y2="294.4" stroke="#7a7a7a" stroke-width="1.3" />
<line x1="548.6" y1="264.1" x2="659.8" y2="264.1" stroke="#333" stroke-width="1" stroke-dasharray="1,1.1"/>
<line x1="591.3" y1="201.3" x2="591.3" y2="309.5" stroke="#e03030" stroke-width="1" stroke-dasharray="4.2,2.4"/>
<line x1="600.5" y1="201.3" x2="600.5" y2="309.5" stroke="#e03030" stroke-width="1" stroke-dasharray="4.2,2.4"/>
<rect x="551.8" y="265" width="39.8" height="36.7" fill="url(#pdgR)" stroke="none" stroke-width="1" />
<text x="570.9" y="272.3" font-size="7.3" text-anchor="middle" font-weight="normal" fill="#111" >PdHx</text>
<text x="570.4" y="295.3" font-size="7.6" text-anchor="middle" font-weight="normal" fill="#111" >Pd</text>
<line x1="554" y1="203.7" x2="554" y2="261.1" stroke="#111" stroke-width="0.9" />
<path d="M554 200.7 L556.31 204.9 L551.69 204.9 Z" fill="#111" stroke="none" stroke-width="1" />
<path d="M554 264.1 L551.69 259.9 L556.31 259.9 Z" fill="#111" stroke="none" stroke-width="1" />
<line x1="654.5" y1="209.9" x2="654.5" y2="254.1" stroke="#111" stroke-width="0.9" />
<path d="M654.5 207.4 L656.42 210.9 L652.58 210.9 Z" fill="#111" stroke="none" stroke-width="1" />
<path d="M654.5 256.6 L652.58 253.1 L656.42 253.1 Z" fill="#111" stroke="none" stroke-width="1" />
<line x1="657.2" y1="259.1" x2="657.2" y2="291.9" stroke="#111" stroke-width="0.9" />
<path d="M657.2 257.2 L659.12 260.7 L655.28 260.7 Z" fill="#111" stroke="none" stroke-width="1" />
<path d="M657.2 294.4 L655.28 290.9 L659.12 290.9 Z" fill="#111" stroke="none" stroke-width="1" />
<text x="662" y="259.8" font-size="7.5" text-anchor="start" font-weight="normal" fill="#222" >E<tspan font-size="4.5" dy="1.5">c</tspan></text>
<text x="662" y="267.7" font-size="7.5" text-anchor="start" font-weight="normal" fill="#222" >E<tspan font-size="4.5" dy="1.5">f</tspan></text>
<text x="662" y="297.4" font-size="7.5" text-anchor="start" font-weight="normal" fill="#222" >E<tspan font-size="4.5" dy="1.5">v</tspan></text>
<text x="589" y="198.1" font-size="8.65" text-anchor="middle" font-weight="normal" fill="#111" >Vacuum level</text>
<text x="636.1" y="225.6" font-size="5.9" text-anchor="middle" font-weight="normal" fill="#222" >qχ = 4.53 eV</text>
<text x="639.7" y="274.2" font-size="5.8" text-anchor="middle" font-weight="normal" fill="#222" >Eg = 3.4 eV</text>
<text x="638.1" y="302.2" font-size="8.85" text-anchor="middle" font-weight="normal" fill="#111" >GaN</text>
<text x="573" y="251.8" font-size="6.3" text-anchor="middle" font-weight="normal" fill="#222" >Φ<tspan font-size="4" dy="1.2">Pd</tspan><tspan dy="-1.2"> = 5.12 eV</tspan></text>
<text x="439" y="220.2" font-size="7.6" text-anchor="middle" font-weight="normal" fill="#d42020" >EDL</text>
<line x1="431.5" y1="223.6" x2="445.4" y2="223.6" stroke="#d42020" stroke-width="0.9" />
<path d="M429.6 223.6 L432.6 221.95 L432.6 225.25 Z" fill="#d42020" stroke="none" stroke-width="1" />
<path d="M447.3 223.6 L444.3 225.25 L444.3 221.95 Z" fill="#d42020" stroke="none" stroke-width="1" />
<circle cx="455.1" cy="253.4" r="3.6" fill="#8c0000" stroke="none" stroke-width="1" />
<circle cx="454.9" cy="253.3" r="1.98" fill="#a01010" stroke="none" stroke-width="1" opacity="0.6"/>
<circle cx="466.2" cy="253.4" r="3.6" fill="#8c0000" stroke="none" stroke-width="1" />
<circle cx="466" cy="253.3" r="1.98" fill="#a01010" stroke="none" stroke-width="1" opacity="0.6"/>
<circle cx="476.7" cy="253.4" r="3.6" fill="#8c0000" stroke="none" stroke-width="1" />
<circle cx="476.5" cy="253.3" r="1.98" fill="#a01010" stroke="none" stroke-width="1" opacity="0.6"/>
<circle cx="486.5" cy="253.4" r="3.6" fill="#8c0000" stroke="none" stroke-width="1" />
<circle cx="486.3" cy="253.3" r="1.98" fill="#a01010" stroke="none" stroke-width="1" opacity="0.6"/>
<text x="404" y="216.5" font-size="6.3" text-anchor="middle" font-weight="normal" fill="#222" >O<tspan font-size="4" dy="1.2">2</tspan></text>
<text x="419" y="238.3" font-size="6.3" text-anchor="middle" font-weight="normal" fill="#222" >O<tspan font-size="4" dy="1.2">2</tspan><tspan dy="-1.2">⁻(ads)</tspan></text>
<path d="M411.5 214.5 C418 215.5 422.5 221 423.6 229.5" fill="none" stroke="#1c9a44" stroke-width="1" />
<path d="M423.8 232.3 L422.35 228.7 L426.06 229.15 Z" fill="#1c9a44" stroke="none" stroke-width="1" />
<path d="M454.5 249.8 C451 241 444 237.5 433.2 236.6" fill="none" stroke="#1c9a44" stroke-width="1" />
<path d="M430.3 236.5 L433.79 234.8 L433.6 238.54 Z" fill="#1c9a44" stroke="none" stroke-width="1" />
<circle cx="426.5" cy="269.3" r="1.2" fill="none" stroke="#8a6a3a" stroke-width="0.45" />
<line x1="425.7" y1="268.5" x2="427.3" y2="270.1" stroke="#8a6a3a" stroke-width="0.4" />
<line x1="425.7" y1="270.1" x2="427.3" y2="268.5" stroke="#8a6a3a" stroke-width="0.4" />
<circle cx="432" cy="269.3" r="1.2" fill="none" stroke="#888" stroke-width="0.45" />
<line x1="431.1" y1="269.3" x2="432.9" y2="269.3" stroke="#888" stroke-width="0.4" />
<line x1="432" y1="268.4" x2="432" y2="270.2" stroke="#888" stroke-width="0.4" />
<circle cx="426.5" cy="275.1" r="1.2" fill="none" stroke="#8a6a3a" stroke-width="0.45" />
<line x1="425.7" y1="274.3" x2="427.3" y2="275.9" stroke="#8a6a3a" stroke-width="0.4" />
<line x1="425.7" y1="275.9" x2="427.3" y2="274.3" stroke="#8a6a3a" stroke-width="0.4" />
<circle cx="432" cy="275.1" r="1.2" fill="none" stroke="#888" stroke-width="0.45" />
<line x1="431.1" y1="275.1" x2="432.9" y2="275.1" stroke="#888" stroke-width="0.4" />
<line x1="432" y1="274.2" x2="432" y2="276" stroke="#888" stroke-width="0.4" />
<circle cx="426.5" cy="281" r="1.2" fill="none" stroke="#8a6a3a" stroke-width="0.45" />
<line x1="425.7" y1="280.2" x2="427.3" y2="281.8" stroke="#8a6a3a" stroke-width="0.4" />
<line x1="425.7" y1="281.8" x2="427.3" y2="280.2" stroke="#8a6a3a" stroke-width="0.4" />
<circle cx="432" cy="281" r="1.2" fill="none" stroke="#888" stroke-width="0.45" />
<line x1="431.1" y1="281" x2="432.9" y2="281" stroke="#888" stroke-width="0.4" />
<line x1="432" y1="280.1" x2="432" y2="281.9" stroke="#888" stroke-width="0.4" />
<circle cx="426.5" cy="286.9" r="1.2" fill="none" stroke="#8a6a3a" stroke-width="0.45" />
<line x1="425.7" y1="286.1" x2="427.3" y2="287.7" stroke="#8a6a3a" stroke-width="0.4" />
<line x1="425.7" y1="287.7" x2="427.3" y2="286.1" stroke="#8a6a3a" stroke-width="0.4" />
<circle cx="432" cy="286.9" r="1.2" fill="none" stroke="#888" stroke-width="0.45" />
<line x1="431.1" y1="286.9" x2="432.9" y2="286.9" stroke="#888" stroke-width="0.4" />
<line x1="432" y1="286" x2="432" y2="287.8" stroke="#888" stroke-width="0.4" />
<text x="526.1" y="239.6" font-size="8.6" text-anchor="middle" font-weight="normal" fill="#111" >Response</text>
<path d="M507.6 243.4 L538.5 243.4 L538.5 240.6 L545.2 245.1 L538.5 249.6 L538.5 246.8 L507.6 246.8 Z" fill="#3c3c3c" stroke="none" stroke-width="1" />
<path d="M544.6 267.6 L514.5 267.6 L514.5 264.8 L507.8 269.3 L514.5 273.8 L514.5 271.0 L544.6 271.0 Z" fill="#3c3c3c" stroke="none" stroke-width="1" />
<text x="527" y="283.3" font-size="8.7" text-anchor="middle" font-weight="normal" fill="#111" >Recovery</text>
<text x="610" y="217.6" font-size="7.6" text-anchor="middle" font-weight="normal" fill="#d42020" >EDL</text>
<line x1="592.5" y1="222" x2="599.5" y2="222" stroke="#d42020" stroke-width="0.7" />
<circle cx="607.5" cy="252.6" r="3.6" fill="#8c0000" stroke="none" stroke-width="1" />
<circle cx="607.3" cy="252.5" r="1.98" fill="#a01010" stroke="none" stroke-width="1" opacity="0.6"/>
<circle cx="617.5" cy="252.6" r="3.6" fill="#8c0000" stroke="none" stroke-width="1" />
<circle cx="617.3" cy="252.5" r="1.98" fill="#a01010" stroke="none" stroke-width="1" opacity="0.6"/>
<circle cx="627.5" cy="252.6" r="3.6" fill="#8c0000" stroke="none" stroke-width="1" />
<circle cx="627.3" cy="252.5" r="1.98" fill="#a01010" stroke="none" stroke-width="1" opacity="0.6"/>
<circle cx="637.2" cy="252.6" r="3.6" fill="#8c0000" stroke="none" stroke-width="1" />
<circle cx="637" cy="252.5" r="1.98" fill="#a01010" stroke="none" stroke-width="1" opacity="0.6"/>
<circle cx="647.2" cy="252.6" r="3.6" fill="#8c0000" stroke="none" stroke-width="1" />
<circle cx="647" cy="252.5" r="1.98" fill="#a01010" stroke="none" stroke-width="1" opacity="0.6"/>
<text x="567.2" y="214.3" font-size="6.3" text-anchor="middle" font-weight="normal" fill="#222" >H<tspan font-size="4" dy="1.2">2</tspan></text>
<text x="580.5" y="229.8" font-size="6.3" text-anchor="middle" font-weight="normal" fill="#222" >O<tspan font-size="4" dy="1.2">2</tspan><tspan dy="-1.2">⁻(ads)</tspan></text>
<text x="567.5" y="243.9" font-size="6.3" text-anchor="middle" font-weight="normal" fill="#222" >H<tspan font-size="4" dy="1.2">2</tspan><tspan dy="-1.2">O</tspan></text>
<path d="M572.5 212.5 C578 213 583 216.5 584.2 222" fill="none" stroke="#1c9a44" stroke-width="1" />
<path d="M584.6 224.6 L583.51 221.11 L586.96 221.81 Z" fill="#1c9a44" stroke="none" stroke-width="1" />
<path d="M585.5 231.5 C585 236 581 239.5 576.0 240.3" fill="none" stroke="#1c9a44" stroke-width="1" />
<path d="M573.4 240.8 L576.83 239.54 L576.3 243.02 Z" fill="#1c9a44" stroke="none" stroke-width="1" />
<path d="M591.8 228.5 C598.5 229 605 235 607.5 243.5" fill="none" stroke="#1c9a44" stroke-width="1" />
<path d="M608 246.4 L605.93 243.39 L609.43 243.04 Z" fill="#1c9a44" stroke="none" stroke-width="1" />
<path d="M563.5 263 C564.5 257.5 570 256.5 571.5 258.2" fill="none" stroke="#2a7ad8" stroke-width="0.9" />
<path d="M579.5 263 C578.5 257.5 573 256.5 571.5 258.2" fill="none" stroke="#2a7ad8" stroke-width="0.9" />
<text x="571.6" y="258" font-size="6.3" text-anchor="middle" font-weight="normal" fill="#222" >H<tspan font-size="4" dy="1.2">2</tspan></text>
<text x="563.3" y="265" font-size="5" text-anchor="middle" font-weight="normal" fill="#222" >H</text>
<text x="579.7" y="265" font-size="5" text-anchor="middle" font-weight="normal" fill="#222" >H</text>
<circle cx="593.8" cy="256.5" r="1.1" fill="none" stroke="#aaa" stroke-width="0.4" />
<circle cx="593.8" cy="261.5" r="1.1" fill="none" stroke="#aaa" stroke-width="0.4" />
<rect x="385.7" y="331.2" width="119.2" height="17.4" fill="#0c84df" stroke="none" stroke-width="1" />
<rect x="391" y="337.3" width="108.9" height="5.8" fill="#f7dc00" stroke="none" stroke-width="1" />
<g clip-path="url(#clipFL2)">
<circle cx="403.7" cy="331" r="9.6" fill="#0c84df" stroke="none" stroke-width="1" />
<circle cx="492" cy="331" r="9.6" fill="#0c84df" stroke="none" stroke-width="1" />
<circle cx="441.1" cy="348.3" r="9.6" fill="#0c84df" stroke="none" stroke-width="1" />
</g>
<circle cx="403.7" cy="331" r="5.5" fill="#3a3a3a" stroke="none" stroke-width="1" />
<circle cx="492" cy="331" r="5.5" fill="#3a3a3a" stroke="none" stroke-width="1" />
<circle cx="441.1" cy="348.3" r="5.5" fill="#3a3a3a" stroke="none" stroke-width="1" />
<text x="413.8" y="319.4" font-size="7.3" text-anchor="start" font-weight="normal" fill="#111" >Pd NP</text>
<text x="441.7" y="319.4" font-size="7.3" text-anchor="start" font-weight="normal" fill="#111" >EDL</text>
<line x1="412.4" y1="317.2" x2="407.3" y2="322" stroke="#333" stroke-width="0.9" />
<path d="M405 324.2 L406.1 320.72 L408.53 323.26 Z" fill="#333" stroke="none" stroke-width="1" />
<line x1="446.4" y1="320.2" x2="434" y2="332.6" stroke="#d42020" stroke-width="0.9" />
<path d="M431.6 335 L432.62 331.49 L435.11 333.98 Z" fill="#d42020" stroke="none" stroke-width="1" />
<text x="419.8" y="331.3" font-size="5" text-anchor="middle" font-weight="normal" fill="#222" >O<tspan font-size="3" dy="0.9">2</tspan></text>
<text x="464" y="331.3" font-size="5" text-anchor="middle" font-weight="normal" fill="#222" >O<tspan font-size="3" dy="0.9">2</tspan></text>
<text x="391.4" y="353.1" font-size="5" text-anchor="middle" font-weight="normal" fill="#222" >O<tspan font-size="3" dy="0.9">2</tspan></text>
<text x="426.5" y="353.1" font-size="5" text-anchor="middle" font-weight="normal" fill="#222" >O<tspan font-size="3" dy="0.9">2</tspan></text>
<text x="479.6" y="353.1" font-size="5" text-anchor="middle" font-weight="normal" fill="#222" >O<tspan font-size="3" dy="0.9">2</tspan></text>
<rect x="549.9" y="332.3" width="118.7" height="15.6" fill="#f0d000" stroke="#0c84df" stroke-width="1.6" />
<g clip-path="url(#clipFR2)">
<circle cx="566.8" cy="330.6" r="7.2" fill="#0c84df" stroke="none" stroke-width="1" />
<circle cx="654.7" cy="330.6" r="7.2" fill="#0c84df" stroke="none" stroke-width="1" />
<circle cx="604.2" cy="348.3" r="7.2" fill="#0c84df" stroke="none" stroke-width="1" />
</g>
<circle cx="566.8" cy="330.6" r="5.4" fill="#3a3a3a" stroke="none" stroke-width="1" />
<circle cx="654.7" cy="330.6" r="5.4" fill="#3a3a3a" stroke="none" stroke-width="1" />
<circle cx="604.2" cy="348.3" r="5.4" fill="#3a3a3a" stroke="none" stroke-width="1" />
<text x="611.5" y="339.8" font-size="6.4" text-anchor="middle" font-weight="normal" fill="#222" >GaN conduction channel</text>
<text x="606" y="373.2" font-size="8.6" text-anchor="middle" font-weight="normal" fill="#111" >Hydrogen</text>
<path d="M557.8 324.6 C560.8 318.6 572.8 318.6 575.8 324.6" fill="none" stroke="#333" stroke-width="0.6" />
<text x="566.8" y="321.1" font-size="4.5" text-anchor="middle" font-weight="normal" fill="#333" >H<tspan font-size="3" dy="0.9">2</tspan></text>
<text x="557.3" y="330.1" font-size="4.5" text-anchor="middle" font-weight="normal" fill="#333" >H</text>
<text x="576.3" y="330.1" font-size="4.5" text-anchor="middle" font-weight="normal" fill="#333" >H</text>
<path d="M645.7 324.6 C648.7 318.6 660.7 318.6 663.7 324.6" fill="none" stroke="#333" stroke-width="0.6" />
<text x="654.7" y="321.1" font-size="4.5" text-anchor="middle" font-weight="normal" fill="#333" >H<tspan font-size="3" dy="0.9">2</tspan></text>
<text x="645.2" y="330.1" font-size="4.5" text-anchor="middle" font-weight="normal" fill="#333" >H</text>
<text x="664.2" y="330.1" font-size="4.5" text-anchor="middle" font-weight="normal" fill="#333" >H</text>
<path d="M595.2 353.3 C598.2 359.3 610.2 359.3 613.2 353.3" fill="none" stroke="#333" stroke-width="0.6" />
<text x="604.2" y="359.8" font-size="4.5" text-anchor="middle" font-weight="normal" fill="#333" >H<tspan font-size="3" dy="0.9">2</tspan></text>
<text x="595.7" y="351.3" font-size="4.5" text-anchor="middle" font-weight="normal" fill="#333" >H</text>
<text x="612.7" y="351.3" font-size="4.5" text-anchor="middle" font-weight="normal" fill="#333" >H</text>
<text x="606.5" y="319.8" font-size="4.5" text-anchor="middle" font-weight="normal" fill="#333" >H2O</text>
<text x="587" y="319.5" font-size="4.5" text-anchor="middle" font-weight="normal" fill="#333" >H2</text>
<text x="596" y="329" font-size="4.5" text-anchor="middle" font-weight="normal" fill="#333" >O2</text>
<text x="628.5" y="329" font-size="4.5" text-anchor="middle" font-weight="normal" fill="#333" >O2</text>
<text x="555" y="352.5" font-size="4.5" text-anchor="middle" font-weight="normal" fill="#333" >O2</text>
<text x="576.5" y="352.5" font-size="4.5" text-anchor="middle" font-weight="normal" fill="#333" >O2</text>
<text x="566" y="362" font-size="4.5" text-anchor="middle" font-weight="normal" fill="#333" >H2</text>
<text x="586" y="362" font-size="4.5" text-anchor="middle" font-weight="normal" fill="#333" >H2O</text>
<text x="642" y="352.5" font-size="4.5" text-anchor="middle" font-weight="normal" fill="#333" >O2</text>
<path d="M589 321 C590 326 592 327 594 327.5" fill="none" stroke="#333" stroke-width="0.5" />
<path d="M599 327.5 C602 327 604 325 605 322" fill="none" stroke="#333" stroke-width="0.5" />
<path d="M568 358 C568 354 570 351 573 350.5" fill="none" stroke="#333" stroke-width="0.5" />
<path d="M580 350.5 C583 351 585 354 585 357" fill="none" stroke="#333" stroke-width="0.5" />
<line x1="48.65" y1="379" x2="48.65" y2="526.9" stroke="#c8c8c8" stroke-width="0.6" stroke-dasharray="1,1.2"/>
<line x1="61.4" y1="379" x2="61.4" y2="526.9" stroke="#c8c8c8" stroke-width="0.6" stroke-dasharray="1,1.2"/>
<line x1="74.15" y1="379" x2="74.15" y2="526.9" stroke="#c8c8c8" stroke-width="0.6" stroke-dasharray="1,1.2"/>
<line x1="86.9" y1="379" x2="86.9" y2="526.9" stroke="#c8c8c8" stroke-width="0.6" stroke-dasharray="1,1.2"/>
<line x1="99.65" y1="379" x2="99.65" y2="526.9" stroke="#c8c8c8" stroke-width="0.6" stroke-dasharray="1,1.2"/>
<line x1="112.4" y1="379" x2="112.4" y2="526.9" stroke="#c8c8c8" stroke-width="0.6" stroke-dasharray="1,1.2"/>
<line x1="125.15" y1="379" x2="125.15" y2="526.9" stroke="#c8c8c8" stroke-width="0.6" stroke-dasharray="1,1.2"/>
<line x1="137.9" y1="379" x2="137.9" y2="526.9" stroke="#c8c8c8" stroke-width="0.6" stroke-dasharray="1,1.2"/>
<line x1="150.65" y1="379" x2="150.65" y2="526.9" stroke="#c8c8c8" stroke-width="0.6" stroke-dasharray="1,1.2"/>
<line x1="163.4" y1="379" x2="163.4" y2="526.9" stroke="#c8c8c8" stroke-width="0.6" stroke-dasharray="1,1.2"/>
<line x1="176.15" y1="379" x2="176.15" y2="526.9" stroke="#c8c8c8" stroke-width="0.6" stroke-dasharray="1,1.2"/>
<line x1="188.9" y1="379" x2="188.9" y2="526.9" stroke="#c8c8c8" stroke-width="0.6" stroke-dasharray="1,1.2"/>
<line x1="201.65" y1="379" x2="201.65" y2="526.9" stroke="#c8c8c8" stroke-width="0.6" stroke-dasharray="1,1.2"/>
<g clip-path="url(#clipG)">
<path d="M35.9 385.8 L42.27 385.8 L45.08 386.09 L48.65 386.26 L51.2 386.08 L55.02 386 L57.83 386.33 L61.4 386.52 L63.95 386.34 L67.78 386.26 L70.58 386.59 L74.15 386.77 L76.7 386.42 L80.53 386.26 L83.33 386.75 L86.9 387.03 L89.45 386.68 L93.28 386.52 L94.3 387.15 L95.44 387.51 L97.1 387.72 L99.52 387.8 L100.54 387.2 L101.56 386.93 L106.03 386.77 L106.54 387.57 L106.92 387.85 L107.43 388.05 L108.83 388.22 L111.76 388.31 L112.4 388.32 L112.78 387.35 L113.29 387.13 L118.78 387.03 L119.03 388.17 L119.29 388.63 L119.54 388.83 L120.31 388.98 L123.11 389.06 L125.15 389.09 L125.53 387.73 L126.04 387.42 L131.53 387.29 L131.78 388.71 L132.03 389.29 L132.29 389.53 L133.18 389.73 L136.37 389.84 L137.9 389.86 L138.03 388.95 L138.28 388.12 L138.54 387.83 L138.79 387.72 L140.32 387.59 L144.27 387.54 L144.53 389.53 L144.78 390.35 L145.17 390.78 L145.68 390.94 L150.65 391.14 L150.9 389.39 L151.16 388.79 L151.41 388.58 L152.82 388.39 L157.02 388.32 L157.41 390.8 L157.66 391.32 L157.92 391.55 L159.19 391.78 L163.4 391.91 L163.65 390 L163.91 389.35 L164.16 389.12 L165.57 388.91 L169.77 388.83 L170.03 390.82 L170.28 391.63 L170.54 391.97 L170.92 392.17 L171.43 392.26 L174.75 392.4 L176.15 392.43 L176.28 391.12 L176.53 389.91 L176.79 389.5 L177.04 389.34 L178.57 389.16 L182.52 389.09 L182.91 391.75 L183.16 392.31 L183.42 392.55 L184.44 392.78 L187.62 392.92 L188.9 392.94 L189.03 391.53 L189.28 390.24 L189.54 389.78 L189.79 389.61 L191.32 389.42 L195.27 389.34 L195.66 392.89 L195.91 393.64 L196.17 393.97 L196.55 394.16 L197.44 394.3 L201.65 394.48 L201.78 391.69 L202.03 389.13 L202.29 388.26 L202.67 387.86 L203.82 387.61 L206.37 387.41 L214.4 387.29" fill="none" stroke="#2b2b2b" stroke-width="1.35" stroke-linejoin="round" />
<path d="M35.9 401.53 L42.27 401.53 L43.55 402.12 L45.08 402.61 L48.65 403.22 L49.8 402.61 L51.2 402.16 L52.86 401.86 L55.02 401.68 L56.3 402.31 L57.83 402.83 L59.49 403.21 L61.4 403.48 L62.55 402.97 L63.95 402.59 L65.61 402.35 L67.78 402.19 L69.05 403.18 L70.58 404.01 L72.24 404.59 L74.15 405.02 L75.3 404.11 L76.7 403.43 L78.36 402.99 L80.53 402.71 L81.8 404.5 L83.33 406 L84.99 407.07 L86.9 407.85 L88.05 406.02 L89.45 404.66 L91.11 403.78 L93.28 403.22 L93.79 405.52 L94.3 407.16 L94.81 408.34 L95.44 409.35 L96.21 410.12 L97.1 410.65 L98.25 411 L99.65 411.19 L100.42 407.52 L100.93 406.23 L101.56 405.3 L102.2 404.81 L103.09 404.47 L104.24 404.31 L106.03 404.25 L106.54 410.34 L106.92 412.53 L107.43 414.02 L108.07 414.88 L108.96 415.41 L110.36 415.8 L112.4 416.07 L112.78 411.1 L113.17 409.44 L113.68 408.34 L114.57 407.22 L115.59 406.51 L116.99 406.03 L118.78 405.79 L119.16 416 L119.41 418.21 L119.67 419.19 L120.18 419.94 L121.2 420.46 L122.98 420.93 L125.15 421.21 L125.53 414.49 L125.92 412.26 L126.43 410.77 L127.32 409.26 L128.34 408.3 L129.74 407.65 L131.53 407.33 L131.91 419.24 L132.16 421.82 L132.42 422.97 L132.93 423.84 L133.95 424.45 L135.73 424.99 L137.9 425.32 L138.28 417.11 L138.66 414.39 L139.17 412.56 L140.07 410.71 L141.09 409.54 L141.72 409.1 L142.49 408.75 L144.27 408.36 L144.66 424.69 L144.91 428.23 L145.17 429.8 L145.68 431 L146.7 431.83 L148.48 432.58 L150.65 433.03 L151.03 422.34 L151.41 418.78 L151.92 416.41 L152.82 414 L153.84 412.47 L154.47 411.89 L155.24 411.44 L157.02 410.93 L157.41 429.65 L157.66 433.7 L157.92 435.5 L158.43 436.87 L158.81 437.32 L159.45 437.83 L161.23 438.68 L163.4 439.2 L163.78 427.01 L164.16 422.96 L164.67 420.26 L165.57 417.51 L166.59 415.77 L167.22 415.11 L167.99 414.6 L168.75 414.27 L169.77 414.02 L170.16 433.75 L170.41 438.03 L170.67 439.92 L171.18 441.37 L171.56 441.85 L172.2 442.38 L173.98 443.28 L176.15 443.83 L176.53 429.77 L176.91 425.1 L177.42 421.98 L178.32 418.81 L179.34 416.8 L179.97 416.05 L180.74 415.46 L181.5 415.08 L182.52 414.79 L182.91 436.56 L183.16 441.28 L183.42 443.37 L183.93 444.97 L184.31 445.5 L184.95 446.08 L185.84 446.66 L186.73 447.08 L188.9 447.68 L189.28 431.88 L189.66 426.64 L190.17 423.13 L191.07 419.57 L191.58 418.27 L192.09 417.31 L192.72 416.46 L193.49 415.8 L194.25 415.37 L195.27 415.04 L195.66 438.52 L195.91 443.61 L196.17 445.86 L196.68 447.58 L197.06 448.15 L197.7 448.78 L198.59 449.41 L199.48 449.86 L201.65 450.51 L201.9 437.31 L202.29 430.36 L202.92 426.01 L203.56 423.27 L204.2 421.13 L204.96 419.13 L205.86 417.4 L206.88 415.99 L207.9 415.01 L209.17 414.19 L210.57 413.63 L212.23 413.24 L214.4 412.99" fill="none" stroke="#e0282d" stroke-width="1.35" stroke-linejoin="round" />
<path d="M35.9 416.95 L42.27 416.95 L45.08 417.7 L48.65 418.13 L49.8 417.72 L51.2 417.42 L55.02 417.1 L56.3 418.09 L57.83 418.91 L59.49 419.5 L61.4 419.93 L62.55 419.01 L63.95 418.33 L65.61 417.89 L67.78 417.61 L69.05 419.41 L70.58 420.91 L72.24 421.98 L74.15 422.75 L75.3 421.64 L76.7 420.81 L78.36 420.27 L80.53 419.93 L81.8 422.71 L83.33 425.03 L84.99 426.69 L86.9 427.89 L88.05 425.05 L88.69 423.95 L89.45 422.94 L90.22 422.19 L91.11 421.56 L92.13 421.06 L93.28 420.7 L94.04 426.66 L94.55 429.26 L95.06 431.12 L95.7 432.73 L96.34 433.79 L97.1 434.6 L98.12 435.2 L99.65 435.6 L100.03 432.54 L100.54 429.9 L101.05 428.29 L101.82 426.99 L102.46 426.44 L103.22 426.11 L104.37 425.92 L106.03 425.84 L106.54 436.69 L106.92 440.59 L107.43 443.25 L108.07 444.78 L108.96 445.74 L110.36 446.43 L112.27 446.89 L112.4 446.91 L112.78 437.96 L113.04 435.96 L113.55 434.11 L114.44 432.49 L115.46 431.48 L116.86 430.81 L118.78 430.46 L119.16 447.1 L119.41 450.92 L119.8 453.36 L120.43 455 L121.71 456.71 L123.24 457.91 L125.15 458.73 L125.53 446.15 L125.79 443.33 L126.3 440.73 L127.19 438.45 L128.21 437.04 L128.85 436.51 L129.61 436.09 L131.53 435.6 L131.91 455.57 L132.16 460.15 L132.54 463.07 L133.18 465.05 L133.82 466.21 L134.46 467.1 L135.22 467.92 L135.99 468.54 L136.88 469.09 L137.9 469.53 L138.28 453.73 L138.54 450.19 L139.05 446.92 L139.94 444.06 L140.96 442.29 L141.6 441.62 L142.36 441.1 L143.25 440.73 L144.27 440.49 L144.66 466.05 L144.91 471.92 L145.29 475.66 L145.93 478.19 L146.57 479.68 L147.21 480.81 L147.97 481.86 L148.74 482.66 L149.63 483.35 L150.65 483.92 L151.03 463.5 L151.29 458.93 L151.8 454.71 L152.69 451.02 L153.2 449.69 L153.71 448.72 L154.35 447.87 L155.11 447.19 L156 446.71 L157.02 446.4 L157.41 473.62 L157.66 479.87 L158.04 483.86 L158.68 486.55 L159.32 488.14 L159.96 489.34 L160.72 490.46 L161.49 491.31 L162.38 492.06 L163.4 492.66 L163.78 468.75 L164.04 463.39 L164.55 458.44 L165.44 454.12 L165.95 452.57 L166.46 451.44 L167.1 450.43 L167.86 449.64 L168.75 449.07 L169.77 448.71 L170.16 478.51 L170.41 485.35 L170.79 489.71 L171.43 492.66 L172.07 494.39 L172.71 495.71 L173.47 496.94 L174.24 497.87 L175.13 498.68 L176.15 499.34 L176.53 473.33 L176.79 467.51 L177.3 462.12 L178.19 457.42 L178.7 455.74 L179.21 454.5 L179.85 453.41 L180.61 452.54 L181.5 451.93 L182.52 451.54 L182.91 485.72 L183.16 493.57 L183.54 498.57 L184.18 501.95 L184.82 503.94 L185.46 505.46 L186.22 506.86 L186.99 507.93 L187.88 508.86 L188.9 509.62 L189.28 479.03 L189.54 472.18 L190.05 465.84 L190.94 460.31 L191.45 458.33 L191.96 456.88 L192.6 455.59 L193.36 454.57 L194.25 453.85 L195.27 453.39 L195.66 488.9 L195.91 497.05 L196.29 502.25 L196.93 505.77 L197.57 507.84 L198.21 509.41 L198.97 510.87 L199.74 511.98 L200.63 512.95 L201.65 513.73 L201.9 486.86 L202.16 476.51 L202.67 468.91 L203.69 462.21 L204.45 458.78 L205.35 455.81 L206.37 453.4 L207.51 451.54 L208.79 450.21 L210.32 449.23 L212.1 448.6 L214.4 448.2" fill="none" stroke="#1c2fd6" stroke-width="1.35" stroke-linejoin="round" />
<path d="M35.9 431.8 L42.27 431.8 L45.08 432.39 L48.65 432.73 L55.02 432.52 L57.45 432.82 L60.38 433 L67.78 433.03 L69.05 433.93 L70.58 434.68 L72.24 435.22 L74.15 435.6 L75.3 434.79 L76.7 434.19 L78.36 433.79 L80.53 433.55 L81.8 435.52 L83.33 437.17 L84.99 438.35 L86.9 439.2 L88.05 437.78 L89.45 436.72 L91.11 436.04 L93.28 435.6 L93.79 437.9 L94.3 439.54 L94.81 440.72 L95.44 441.73 L96.21 442.51 L97.1 443.03 L98.12 443.36 L99.52 443.56 L99.65 443.57 L100.03 441.88 L100.54 440.42 L101.05 439.53 L101.56 438.99 L102.2 438.61 L103.09 438.35 L106.03 438.17 L106.54 445.06 L106.92 447.53 L107.43 449.22 L108.07 450.19 L108.96 450.79 L110.36 451.23 L112.4 451.54 L112.78 445.39 L113.04 444.01 L113.55 442.73 L114.44 441.62 L115.46 440.93 L116.86 440.47 L118.78 440.23 L119.16 450.82 L119.41 453.25 L119.8 454.8 L120.43 455.85 L121.71 456.93 L123.24 457.7 L125.15 458.22 L125.53 450.39 L125.79 448.64 L126.3 447.01 L127.19 445.6 L128.21 444.72 L129.61 444.13 L131.53 443.83 L131.91 457.59 L132.16 460.75 L132.54 462.77 L133.18 464.13 L134.46 465.54 L135.99 466.54 L137.9 467.21 L138.28 454.21 L138.54 451.3 L139.05 448.61 L139.94 446.26 L140.96 444.8 L141.6 444.25 L142.36 443.82 L144.27 443.31 L144.66 461.16 L144.91 465.26 L145.29 467.87 L145.93 469.64 L146.57 470.68 L147.21 471.47 L148.74 472.76 L150.65 473.64 L151.03 458.54 L151.29 455.16 L151.8 452.03 L152.69 449.3 L153.71 447.61 L154.35 446.97 L155.11 446.47 L156 446.11 L157.02 445.88 L157.41 466.15 L157.66 470.8 L158.04 473.77 L158.68 475.78 L159.32 476.96 L159.96 477.85 L160.72 478.69 L161.49 479.32 L162.38 479.87 L163.4 480.32 L163.78 463.26 L164.04 459.44 L164.55 455.91 L165.44 452.83 L166.46 450.91 L167.1 450.19 L167.86 449.63 L168.75 449.23 L169.77 448.97 L170.16 470.3 L170.41 475.19 L170.79 478.31 L171.43 480.42 L172.07 481.66 L172.71 482.61 L173.47 483.49 L174.24 484.15 L175.13 484.73 L176.15 485.2 L176.53 466.33 L176.79 462.1 L177.3 458.19 L178.19 454.78 L178.7 453.56 L179.21 452.66 L179.85 451.87 L180.61 451.24 L181.5 450.8 L182.52 450.51 L182.91 474.41 L183.16 479.89 L183.54 483.39 L184.18 485.76 L184.82 487.15 L185.46 488.21 L186.22 489.19 L186.99 489.94 L187.88 490.59 L188.9 491.12 L189.28 470.14 L189.54 465.45 L190.05 461.1 L190.94 457.31 L191.45 455.95 L191.96 454.96 L192.6 454.07 L193.36 453.38 L194.25 452.88 L195.27 452.57 L195.66 477.07 L195.91 482.69 L196.29 486.28 L196.93 488.7 L197.57 490.13 L198.21 491.22 L198.97 492.22 L199.74 492.99 L200.63 493.66 L201.65 494.2 L201.9 475.44 L202.16 468.22 L202.67 462.91 L203.69 458.23 L204.45 455.84 L205.35 453.77 L206.37 452.08 L207.51 450.79 L208.79 449.86 L210.32 449.17 L212.1 448.73 L214.4 448.45" fill="none" stroke="#46c23c" stroke-width="1.35" stroke-linejoin="round" />
</g>
<rect x="35.6" y="378.5" width="179.2" height="148.9" fill="none" stroke="#555" stroke-width="0.9" />
<line x1="33" y1="519.9" x2="35.6" y2="519.9" stroke="#444" stroke-width="0.9" />
<text x="28.4" y="523" font-size="8.6" text-anchor="end" font-weight="normal" fill="#1a1a1a" >65</text>
<line x1="33" y1="494.2" x2="35.6" y2="494.2" stroke="#444" stroke-width="0.9" />
<text x="28.4" y="497.3" font-size="8.6" text-anchor="end" font-weight="normal" fill="#1a1a1a" >70</text>
<line x1="33" y1="468.5" x2="35.6" y2="468.5" stroke="#444" stroke-width="0.9" />
<text x="28.4" y="471.6" font-size="8.6" text-anchor="end" font-weight="normal" fill="#1a1a1a" >75</text>
<line x1="33" y1="442.8" x2="35.6" y2="442.8" stroke="#444" stroke-width="0.9" />
<text x="28.4" y="445.9" font-size="8.6" text-anchor="end" font-weight="normal" fill="#1a1a1a" >80</text>
<line x1="33" y1="417.1" x2="35.6" y2="417.1" stroke="#444" stroke-width="0.9" />
<text x="28.4" y="420.2" font-size="8.6" text-anchor="end" font-weight="normal" fill="#1a1a1a" >85</text>
<line x1="33" y1="391.4" x2="35.6" y2="391.4" stroke="#444" stroke-width="0.9" />
<text x="28.4" y="394.5" font-size="8.6" text-anchor="end" font-weight="normal" fill="#1a1a1a" >90</text>
<line x1="34" y1="507.05" x2="35.6" y2="507.05" stroke="#444" stroke-width="0.8" />
<line x1="34" y1="481.35" x2="35.6" y2="481.35" stroke="#444" stroke-width="0.8" />
<line x1="34" y1="455.65" x2="35.6" y2="455.65" stroke="#444" stroke-width="0.8" />
<line x1="34" y1="429.95" x2="35.6" y2="429.95" stroke="#444" stroke-width="0.8" />
<line x1="34" y1="404.25" x2="35.6" y2="404.25" stroke="#444" stroke-width="0.8" />
<line x1="35.9" y1="527.4" x2="35.9" y2="530" stroke="#444" stroke-width="0.9" />
<line x1="42.27" y1="527.4" x2="42.27" y2="529" stroke="#444" stroke-width="0.8" />
<text x="40.1" y="534.8" font-size="8.6" text-anchor="end" font-weight="normal" fill="#1a1a1a" transform="rotate(-45 40.1 534.8)" >0</text>
<line x1="48.65" y1="527.4" x2="48.65" y2="530" stroke="#444" stroke-width="0.9" />
<line x1="55.02" y1="527.4" x2="55.02" y2="529" stroke="#444" stroke-width="0.8" />
<text x="52.85" y="534.8" font-size="8.6" text-anchor="end" font-weight="normal" fill="#1a1a1a" transform="rotate(-45 52.85 534.8)" >10</text>
<line x1="61.4" y1="527.4" x2="61.4" y2="530" stroke="#444" stroke-width="0.9" />
<line x1="67.77" y1="527.4" x2="67.77" y2="529" stroke="#444" stroke-width="0.8" />
<text x="65.6" y="534.8" font-size="8.6" text-anchor="end" font-weight="normal" fill="#1a1a1a" transform="rotate(-45 65.6 534.8)" >20</text>
<line x1="74.15" y1="527.4" x2="74.15" y2="530" stroke="#444" stroke-width="0.9" />
<line x1="80.53" y1="527.4" x2="80.53" y2="529" stroke="#444" stroke-width="0.8" />
<text x="78.35" y="534.8" font-size="8.6" text-anchor="end" font-weight="normal" fill="#1a1a1a" transform="rotate(-45 78.35 534.8)" >30</text>
<line x1="86.9" y1="527.4" x2="86.9" y2="530" stroke="#444" stroke-width="0.9" />
<line x1="93.27" y1="527.4" x2="93.27" y2="529" stroke="#444" stroke-width="0.8" />
<text x="91.1" y="534.8" font-size="8.6" text-anchor="end" font-weight="normal" fill="#1a1a1a" transform="rotate(-45 91.1 534.8)" >40</text>
<line x1="99.65" y1="527.4" x2="99.65" y2="530" stroke="#444" stroke-width="0.9" />
<line x1="106.03" y1="527.4" x2="106.03" y2="529" stroke="#444" stroke-width="0.8" />
<text x="103.85" y="534.8" font-size="8.6" text-anchor="end" font-weight="normal" fill="#1a1a1a" transform="rotate(-45 103.85 534.8)" >50</text>
<line x1="112.4" y1="527.4" x2="112.4" y2="530" stroke="#444" stroke-width="0.9" />
<line x1="118.78" y1="527.4" x2="118.78" y2="529" stroke="#444" stroke-width="0.8" />
<text x="116.6" y="534.8" font-size="8.6" text-anchor="end" font-weight="normal" fill="#1a1a1a" transform="rotate(-45 116.6 534.8)" >60</text>
<line x1="125.15" y1="527.4" x2="125.15" y2="530" stroke="#444" stroke-width="0.9" />
<line x1="131.53" y1="527.4" x2="131.53" y2="529" stroke="#444" stroke-width="0.8" />
<text x="129.35" y="534.8" font-size="8.6" text-anchor="end" font-weight="normal" fill="#1a1a1a" transform="rotate(-45 129.35 534.8)" >70</text>
<line x1="137.9" y1="527.4" x2="137.9" y2="530" stroke="#444" stroke-width="0.9" />
<line x1="144.27" y1="527.4" x2="144.27" y2="529" stroke="#444" stroke-width="0.8" />
<text x="142.1" y="534.8" font-size="8.6" text-anchor="end" font-weight="normal" fill="#1a1a1a" transform="rotate(-45 142.1 534.8)" >80</text>
<line x1="150.65" y1="527.4" x2="150.65" y2="530" stroke="#444" stroke-width="0.9" />
<line x1="157.02" y1="527.4" x2="157.02" y2="529" stroke="#444" stroke-width="0.8" />
<text x="154.85" y="534.8" font-size="8.6" text-anchor="end" font-weight="normal" fill="#1a1a1a" transform="rotate(-45 154.85 534.8)" >90</text>
<line x1="163.4" y1="527.4" x2="163.4" y2="530" stroke="#444" stroke-width="0.9" />
<line x1="169.78" y1="527.4" x2="169.78" y2="529" stroke="#444" stroke-width="0.8" />
<text x="167.6" y="534.8" font-size="8.6" text-anchor="end" font-weight="normal" fill="#1a1a1a" transform="rotate(-45 167.6 534.8)" >100</text>
<line x1="176.15" y1="527.4" x2="176.15" y2="530" stroke="#444" stroke-width="0.9" />
<line x1="182.53" y1="527.4" x2="182.53" y2="529" stroke="#444" stroke-width="0.8" />
<text x="180.35" y="534.8" font-size="8.6" text-anchor="end" font-weight="normal" fill="#1a1a1a" transform="rotate(-45 180.35 534.8)" >110</text>
<line x1="188.9" y1="527.4" x2="188.9" y2="530" stroke="#444" stroke-width="0.9" />
<line x1="195.28" y1="527.4" x2="195.28" y2="529" stroke="#444" stroke-width="0.8" />
<text x="193.1" y="534.8" font-size="8.6" text-anchor="end" font-weight="normal" fill="#1a1a1a" transform="rotate(-45 193.1 534.8)" >120</text>
<line x1="201.65" y1="527.4" x2="201.65" y2="530" stroke="#444" stroke-width="0.9" />
<line x1="208.03" y1="527.4" x2="208.03" y2="529" stroke="#444" stroke-width="0.8" />
<text x="205.85" y="534.8" font-size="8.6" text-anchor="end" font-weight="normal" fill="#1a1a1a" transform="rotate(-45 205.85 534.8)" >130</text>
<line x1="214.4" y1="527.4" x2="214.4" y2="530" stroke="#444" stroke-width="0.9" />
<text x="218.6" y="534.8" font-size="8.6" text-anchor="end" font-weight="normal" fill="#1a1a1a" transform="rotate(-45 218.6 534.8)" >140</text>
<text x="125.4" y="554.3" font-size="8.7" text-anchor="middle" font-weight="normal" fill="#1a1a1a" >Time (min)</text>
<text x="9.8" y="453" font-size="8.7" text-anchor="middle" font-weight="normal" fill="#1a1a1a" transform="rotate(-90 9.8 453)" >Resistance (Ω)</text>
<rect x="35.6" y="459.3" width="55.5" height="37.8" fill="#fff" stroke="#b0b0b0" stroke-width="0.8" />
<line x1="36.8" y1="463.3" x2="53.4" y2="463.3" stroke="#2b2b2b" stroke-width="1.5" />
<text x="56.9" y="465.9" font-size="7.25" text-anchor="start" font-weight="normal" fill="#1a1a1a" >2Pd-GaN</text>
<line x1="36.8" y1="472.7" x2="53.4" y2="472.7" stroke="#e0282d" stroke-width="1.5" />
<text x="56.9" y="475.3" font-size="7.25" text-anchor="start" font-weight="normal" fill="#1a1a1a" >5Pd-GaN</text>
<line x1="36.8" y1="482.3" x2="53.4" y2="482.3" stroke="#1c2fd6" stroke-width="1.5" />
<text x="56.9" y="484.9" font-size="7.25" text-anchor="start" font-weight="normal" fill="#1a1a1a" >10Pd-GaN</text>
<line x1="36.8" y1="491.9" x2="53.4" y2="491.9" stroke="#46c23c" stroke-width="1.5" />
<text x="56.9" y="494.5" font-size="7.25" text-anchor="start" font-weight="normal" fill="#1a1a1a" >15Pd-GaN</text>
<text x="37" y="505" font-size="7.25" text-anchor="start" font-weight="normal" fill="#e41e2b" >RT(~25 °C)</text>
<text x="37" y="514.8" font-size="7.25" text-anchor="start" font-weight="normal" fill="#e41e2b" >H<tspan font-size="4.6" dy="1.6">2</tspan><tspan dy="-1.6"> concentration: 1~10,000 ppm</tspan></text>
<text x="37" y="525.3" font-size="7.25" text-anchor="start" font-weight="normal" fill="#e41e2b" >Time interval: 5min</text>
<text x="36.4" y="408.6" font-size="7.25" text-anchor="start" font-weight="normal" fill="#1a1a1a" >H<tspan font-size="4.6" dy="1.6">2</tspan><tspan dy="-1.6"> in</tspan></text>
<line x1="41.5" y1="409.6" x2="41.5" y2="413.8" stroke="#1a1a1a" stroke-width="0.7" />
<path d="M41.5 416 L40.2 412.8 L42.8 412.8 Z" fill="#1a1a1a" stroke="none" stroke-width="1" />
<text x="40.8" y="430.1" font-size="7.25" text-anchor="start" font-weight="normal" fill="#1a1a1a" >air in</text>
<line x1="48.5" y1="424.2" x2="48.5" y2="421.2" stroke="#1a1a1a" stroke-width="0.7" />
<path d="M48.5 419.2 L47.2 422.4 L49.8 422.4 Z" fill="#1a1a1a" stroke="none" stroke-width="1" />
<text x="48.2" y="440.1" font-size="7.6" text-anchor="middle" font-weight="normal" fill="#1a1a1a" >1</text>
<text x="61.3" y="442.4" font-size="7.6" text-anchor="middle" font-weight="normal" fill="#1a1a1a" >2</text>
<text x="73.9" y="442.8" font-size="7.6" text-anchor="middle" font-weight="normal" fill="#1a1a1a" >5</text>
<text x="86.2" y="448" font-size="7.6" text-anchor="middle" font-weight="normal" fill="#1a1a1a" >10</text>
<text x="99" y="452.4" font-size="7.6" text-anchor="middle" font-weight="normal" fill="#1a1a1a" >20</text>
<text x="112.1" y="459.8" font-size="7.6" text-anchor="middle" font-weight="normal" fill="#1a1a1a" >50</text>
<text x="122.9" y="468.7" font-size="7.6" text-anchor="middle" font-weight="normal" fill="#1a1a1a" >100</text>
<text x="136.8" y="479.8" font-size="7.6" text-anchor="middle" font-weight="normal" fill="#1a1a1a" >200</text>
<text x="149.8" y="492.8" font-size="7.6" text-anchor="middle" font-weight="normal" fill="#1a1a1a" >500</text>
<text x="162.6" y="502" font-size="7.6" text-anchor="middle" font-weight="normal" fill="#1a1a1a" >1000</text>
<text x="173.7" y="508.9" font-size="7.6" text-anchor="middle" font-weight="normal" fill="#1a1a1a" >2000</text>
<text x="185.3" y="517" font-size="7.6" text-anchor="middle" font-weight="normal" fill="#1a1a1a" >5000</text>
<text x="202" y="522.8" font-size="7.6" text-anchor="middle" font-weight="normal" fill="#1a1a1a" >10.000</text>
<text x="5.2" y="384" font-size="14.5" text-anchor="start" font-weight="bold" fill="#000" >g</text>
<line x1="272.46" y1="398.8" x2="272.46" y2="527.5" stroke="#c8c8c8" stroke-width="0.6" stroke-dasharray="1,1.2"/>
<line x1="285.32" y1="398.8" x2="285.32" y2="527.5" stroke="#c8c8c8" stroke-width="0.6" stroke-dasharray="1,1.2"/>
<line x1="298.18" y1="398.8" x2="298.18" y2="527.5" stroke="#c8c8c8" stroke-width="0.6" stroke-dasharray="1,1.2"/>
<line x1="311.04" y1="398.8" x2="311.04" y2="527.5" stroke="#c8c8c8" stroke-width="0.6" stroke-dasharray="1,1.2"/>
<line x1="323.9" y1="398.8" x2="323.9" y2="527.5" stroke="#c8c8c8" stroke-width="0.6" stroke-dasharray="1,1.2"/>
<line x1="336.76" y1="398.8" x2="336.76" y2="527.5" stroke="#c8c8c8" stroke-width="0.6" stroke-dasharray="1,1.2"/>
<line x1="349.62" y1="398.8" x2="349.62" y2="527.5" stroke="#c8c8c8" stroke-width="0.6" stroke-dasharray="1,1.2"/>
<line x1="362.48" y1="398.8" x2="362.48" y2="527.5" stroke="#c8c8c8" stroke-width="0.6" stroke-dasharray="1,1.2"/>
<line x1="375.34" y1="398.8" x2="375.34" y2="527.5" stroke="#c8c8c8" stroke-width="0.6" stroke-dasharray="1,1.2"/>
<line x1="388.2" y1="398.8" x2="388.2" y2="527.5" stroke="#c8c8c8" stroke-width="0.6" stroke-dasharray="1,1.2"/>
<line x1="401.06" y1="398.8" x2="401.06" y2="527.5" stroke="#c8c8c8" stroke-width="0.6" stroke-dasharray="1,1.2"/>
<line x1="413.92" y1="398.8" x2="413.92" y2="527.5" stroke="#c8c8c8" stroke-width="0.6" stroke-dasharray="1,1.2"/>
<line x1="426.78" y1="398.8" x2="426.78" y2="527.5" stroke="#c8c8c8" stroke-width="0.6" stroke-dasharray="1,1.2"/>
<rect x="259.9" y="493.2" width="70.5" height="27" fill="none" stroke="#f07070" stroke-width="0.9" stroke-dasharray="3.2,2.2"/>
<g clip-path="url(#clipH)">
<path d="M259.6 517.1 L266.03 517.1 L268.86 516.78 L272.46 516.6 L275.03 516.79 L278.89 516.88 L281.72 516.52 L285.32 516.33 L287.89 516.52 L291.75 516.6 L294.58 516.25 L298.18 516.05 L300.75 516.43 L304.61 516.6 L307.44 516.07 L311.04 515.77 L313.61 516.15 L317.47 516.33 L318.5 515.64 L319.66 515.26 L321.33 515.04 L323.77 514.94 L324.8 515.59 L325.83 515.88 L327.37 516.01 L330.33 516.05 L330.84 515.19 L331.23 514.89 L331.74 514.68 L333.16 514.49 L336.12 514.4 L336.76 514.39 L337.15 515.43 L337.66 515.67 L343.19 515.77 L343.45 514.55 L343.7 514.05 L343.96 513.84 L344.73 513.67 L347.56 513.58 L349.62 513.56 L350.01 515.02 L350.52 515.35 L356.05 515.5 L356.31 513.97 L356.56 513.34 L356.82 513.08 L357.72 512.86 L360.94 512.75 L362.48 512.73 L362.61 513.7 L362.87 514.6 L363.12 514.91 L363.38 515.03 L364.92 515.17 L368.91 515.22 L369.17 513.08 L369.42 512.2 L369.81 511.74 L370.32 511.57 L375.34 511.35 L375.6 513.23 L375.85 513.87 L376.11 514.11 L377.53 514.31 L381.77 514.39 L382.16 511.72 L382.41 511.15 L382.67 510.91 L383.96 510.66 L388.2 510.52 L388.46 512.57 L388.71 513.27 L388.97 513.53 L390.39 513.75 L394.63 513.84 L394.89 511.7 L395.14 510.82 L395.4 510.45 L395.79 510.24 L396.3 510.15 L399.65 509.99 L401.06 509.96 L401.19 511.37 L401.45 512.67 L401.7 513.12 L401.96 513.29 L403.5 513.48 L407.49 513.56 L407.88 510.7 L408.13 510.09 L408.39 509.83 L409.42 509.58 L412.63 509.43 L413.92 509.41 L414.05 510.93 L414.31 512.32 L414.56 512.81 L414.82 512.99 L416.36 513.2 L420.35 513.28 L420.74 509.47 L420.99 508.66 L421.25 508.31 L421.64 508.1 L422.54 507.95 L426.78 507.75 L426.91 510.76 L427.17 513.51 L427.42 514.45 L427.81 514.88 L428.97 515.15 L431.54 515.36 L439.64 515.5" fill="none" stroke="#2b2b2b" stroke-width="1.35" stroke-linejoin="round" />
<path d="M259.6 517.1 L266.03 517.1 L267.32 516.44 L268.86 515.89 L270.53 515.5 L272.46 515.21 L273.62 515.89 L275.03 516.39 L276.7 516.72 L278.89 516.93 L280.18 516.23 L281.72 515.64 L283.39 515.23 L285.32 514.92 L286.48 515.49 L287.89 515.91 L289.56 516.18 L291.75 516.36 L293.04 515.26 L294.58 514.34 L296.25 513.68 L298.18 513.21 L299.34 514.22 L300.75 514.98 L302.42 515.47 L304.61 515.78 L305.9 513.78 L307.44 512.11 L309.11 510.92 L311.04 510.06 L312.2 512.09 L312.84 512.88 L313.61 513.61 L315.28 514.59 L317.47 515.21 L317.98 512.66 L318.5 510.82 L319.01 509.51 L319.66 508.38 L320.43 507.52 L321.33 506.94 L322.49 506.55 L323.9 506.34 L324.29 508.76 L324.67 510.42 L325.19 511.86 L325.83 512.89 L326.47 513.44 L327.37 513.82 L328.53 513.99 L330.33 514.07 L330.84 507.28 L331.23 504.85 L331.74 503.18 L332.39 502.23 L333.29 501.63 L334.7 501.2 L336.76 500.9 L337.15 506.44 L337.53 508.28 L338.05 509.51 L338.95 510.76 L339.98 511.55 L341.39 512.08 L343.19 512.35 L343.58 500.98 L343.83 498.52 L344.09 497.42 L344.6 496.59 L345.63 496.01 L347.43 495.49 L349.62 495.17 L350.01 502.65 L350.39 505.14 L350.91 506.8 L351.81 508.49 L352.84 509.56 L354.25 510.27 L356.05 510.63 L356.44 497.37 L356.69 494.49 L356.95 493.22 L357.46 492.25 L358.49 491.57 L360.29 490.96 L362.48 490.59 L362.87 499.74 L363.25 502.78 L363.77 504.8 L364.67 506.87 L365.69 508.17 L366.34 508.66 L367.11 509.05 L368.91 509.49 L369.3 491.29 L369.55 487.35 L369.81 485.6 L370.32 484.27 L371.35 483.34 L373.15 482.51 L375.34 482 L375.73 493.92 L376.11 497.88 L376.63 500.52 L377.53 503.21 L378.55 504.91 L379.2 505.55 L379.97 506.06 L380.74 506.37 L381.77 506.62 L382.16 485.78 L382.41 481.26 L382.67 479.26 L383.18 477.73 L383.57 477.22 L384.21 476.67 L386.01 475.71 L388.2 475.13 L388.59 488.71 L388.97 493.22 L389.49 496.24 L390.39 499.3 L391.41 501.24 L392.06 501.97 L392.83 502.54 L393.6 502.9 L394.63 503.19 L395.02 481.21 L395.27 476.44 L395.53 474.33 L396.04 472.72 L396.43 472.19 L397.07 471.6 L397.97 471.01 L398.87 470.59 L401.06 469.98 L401.45 485.64 L401.83 490.84 L402.35 494.31 L403.25 497.84 L403.76 499.13 L404.27 500.08 L404.92 500.92 L405.69 501.58 L406.46 502 L407.49 502.33 L407.88 478.07 L408.13 472.82 L408.39 470.49 L408.9 468.71 L409.29 468.12 L409.93 467.47 L410.83 466.82 L411.73 466.36 L413.92 465.69 L414.31 483.28 L414.69 489.13 L415.21 493.04 L416.11 497 L416.62 498.45 L417.13 499.52 L417.78 500.46 L418.55 501.21 L419.32 501.67 L420.35 502.04 L420.74 475.89 L420.99 470.23 L421.25 467.71 L421.76 465.8 L422.15 465.16 L422.79 464.46 L423.69 463.76 L424.59 463.26 L426.78 462.54 L427.04 477.24 L427.42 484.98 L428.07 489.83 L428.71 492.88 L429.35 495.26 L430.12 497.49 L431.02 499.42 L432.05 500.99 L433.08 502.08 L434.37 503 L435.78 503.62 L437.45 504.05 L439.64 504.33" fill="none" stroke="#e0282d" stroke-width="1.35" stroke-linejoin="round" />
<path d="M259.6 517.1 L266.03 517.1 L268.86 516.39 L272.46 516 L275.03 516.16 L278.89 516.24 L281.33 515.89 L284.29 515.67 L291.75 515.63 L293.04 514.56 L294.58 513.66 L296.25 513.02 L298.18 512.56 L299.34 513.53 L300.75 514.25 L302.42 514.72 L304.61 515.01 L305.9 512.66 L307.44 510.69 L309.11 509.28 L311.04 508.26 L312.2 509.96 L313.61 511.22 L315.28 512.04 L317.47 512.56 L317.98 509.82 L318.5 507.86 L319.01 506.45 L319.66 505.24 L320.43 504.32 L321.33 503.69 L322.36 503.31 L323.77 503.06 L323.9 503.05 L324.29 505.07 L324.8 506.81 L325.31 507.87 L325.83 508.51 L326.47 508.97 L327.37 509.28 L330.33 509.49 L330.84 501.28 L331.23 498.32 L331.74 496.31 L332.39 495.15 L333.29 494.43 L334.7 493.9 L336.76 493.54 L337.15 500.88 L337.4 502.53 L337.92 504.05 L338.82 505.38 L339.85 506.2 L341.26 506.75 L343.19 507.04 L343.58 494.4 L343.83 491.5 L344.22 489.65 L344.86 488.4 L346.15 487.1 L347.69 486.19 L349.62 485.56 L350.01 494.91 L350.26 497 L350.78 498.94 L351.68 500.63 L352.71 501.68 L354.12 502.38 L356.05 502.74 L356.44 486.31 L356.69 482.54 L357.08 480.14 L357.72 478.51 L359.01 476.82 L360.55 475.63 L362.48 474.82 L362.87 490.35 L363.12 493.82 L363.64 497.04 L364.54 499.84 L365.57 501.59 L366.21 502.24 L366.98 502.75 L367.88 503.12 L368.91 503.36 L369.3 482.05 L369.55 477.16 L369.94 474.04 L370.58 471.93 L371.22 470.69 L371.87 469.75 L372.64 468.87 L373.41 468.21 L374.31 467.63 L375.34 467.15 L375.73 485.18 L375.98 489.22 L376.5 492.95 L377.4 496.21 L377.91 497.38 L378.43 498.23 L379.07 498.99 L379.84 499.59 L380.74 500.01 L381.77 500.29 L382.16 476.09 L382.41 470.54 L382.8 467 L383.44 464.6 L384.08 463.19 L384.73 462.12 L385.5 461.13 L386.27 460.37 L387.17 459.71 L388.2 459.18 L388.59 479.54 L388.84 484.1 L389.36 488.32 L390.26 492 L390.77 493.32 L391.29 494.29 L391.93 495.14 L392.7 495.82 L393.6 496.3 L394.63 496.61 L395.02 471.15 L395.27 465.3 L395.66 461.58 L396.3 459.06 L396.94 457.58 L397.59 456.45 L398.36 455.4 L399.13 454.6 L400.03 453.91 L401.06 453.35 L401.45 475.88 L401.7 480.93 L402.22 485.6 L403.12 489.67 L403.63 491.13 L404.15 492.2 L404.79 493.15 L405.56 493.89 L406.46 494.42 L407.49 494.77 L407.88 466.24 L408.13 459.69 L408.52 455.51 L409.16 452.69 L409.8 451.03 L410.45 449.77 L411.22 448.59 L411.99 447.7 L412.89 446.92 L413.92 446.29 L414.31 471.33 L414.56 476.94 L415.08 482.12 L415.98 486.65 L416.49 488.27 L417.01 489.46 L417.65 490.51 L418.42 491.34 L419.32 491.93 L420.35 492.31 L420.74 463.06 L420.99 456.35 L421.38 452.07 L422.02 449.17 L422.66 447.47 L423.31 446.17 L424.08 444.97 L424.85 444.05 L425.75 443.26 L426.78 442.61 L427.04 465 L427.29 473.62 L427.81 479.96 L428.84 485.55 L429.61 488.4 L430.51 490.87 L431.54 492.89 L432.7 494.43 L433.98 495.55 L435.52 496.36 L437.33 496.89 L439.64 497.22" fill="none" stroke="#46c23c" stroke-width="1.35" stroke-linejoin="round" />
<path d="M259.6 517.1 L266.03 517.1 L267.32 516.62 L268.86 516.23 L272.46 515.74 L273.62 516.2 L275.03 516.55 L278.89 516.92 L280.18 515.78 L281.72 514.83 L283.39 514.15 L285.32 513.66 L286.48 514.72 L287.89 515.5 L289.56 516.01 L291.75 516.33 L293.04 514.26 L294.58 512.53 L296.25 511.3 L298.18 510.4 L299.34 511.69 L300.75 512.65 L302.42 513.27 L304.61 513.66 L305.9 510.45 L307.44 507.78 L309.11 505.86 L310.01 505.13 L311.04 504.47 L312.2 507.75 L312.84 509.03 L313.61 510.19 L314.38 511.05 L315.28 511.78 L316.31 512.35 L317.47 512.77 L318.24 505.9 L318.76 502.9 L319.27 500.75 L319.91 498.9 L320.56 497.68 L321.33 496.75 L322.36 496.05 L323.9 495.58 L324.29 499.11 L324.8 502.16 L325.31 504.01 L326.09 505.52 L326.73 506.15 L327.5 506.53 L328.66 506.76 L330.33 506.85 L330.84 494.33 L331.23 489.83 L331.74 486.76 L332.39 485 L333.29 483.9 L334.7 483.1 L336.63 482.57 L336.76 482.54 L337.15 492.86 L337.4 495.17 L337.92 497.31 L338.82 499.18 L339.85 500.33 L340.49 500.77 L341.26 501.11 L343.19 501.51 L343.58 482.32 L343.83 477.92 L344.22 475.11 L344.86 473.21 L345.5 472.1 L346.15 471.25 L346.92 470.46 L347.69 469.86 L348.59 469.34 L349.62 468.91 L350.01 483.42 L350.26 486.67 L350.78 489.68 L351.68 492.3 L352.71 493.93 L353.35 494.54 L354.12 495.02 L355.02 495.36 L356.05 495.58 L356.44 472.56 L356.69 467.28 L357.08 463.91 L357.72 461.63 L358.36 460.29 L359.01 459.27 L359.78 458.32 L360.55 457.6 L361.45 456.97 L362.48 456.46 L362.87 474.68 L363.12 478.76 L363.64 482.54 L364.54 485.83 L365.05 487.01 L365.57 487.88 L366.21 488.64 L366.98 489.25 L367.88 489.68 L368.91 489.95 L369.3 460.48 L369.55 453.71 L369.94 449.4 L370.58 446.48 L371.22 444.76 L371.87 443.46 L372.64 442.24 L373.41 441.32 L374.31 440.52 L375.34 439.87 L375.73 463.41 L375.98 468.68 L376.5 473.56 L377.4 477.81 L377.91 479.33 L378.43 480.45 L379.07 481.44 L379.84 482.22 L380.74 482.78 L381.77 483.14 L382.16 451.74 L382.41 444.53 L382.8 439.94 L383.44 436.83 L384.08 435 L384.73 433.61 L385.5 432.32 L386.27 431.34 L387.17 430.49 L388.2 429.79 L388.59 457.36 L388.84 463.54 L389.36 469.25 L390.26 474.23 L390.77 476.02 L391.29 477.33 L391.93 478.49 L392.7 479.4 L393.6 480.05 L394.63 480.47 L395.02 446.11 L395.27 438.22 L395.66 433.19 L396.3 429.79 L396.94 427.79 L397.59 426.27 L398.36 424.86 L399.13 423.78 L400.03 422.85 L401.06 422.09 L401.45 452.08 L401.7 458.79 L402.22 465 L403.12 470.42 L403.63 472.37 L404.15 473.79 L404.79 475.05 L405.56 476.05 L406.46 476.75 L407.49 477.21 L407.88 437.79 L408.13 428.74 L408.52 422.97 L409.16 419.07 L409.8 416.78 L410.45 415.03 L411.22 413.41 L411.99 412.18 L412.89 411.1 L413.92 410.23 L414.31 445.51 L414.56 453.41 L415.08 460.72 L415.46 463.95 L415.98 467.09 L416.49 469.38 L417.01 471.05 L417.65 472.54 L418.42 473.71 L419.32 474.54 L420.35 475.08 L420.74 434.12 L420.99 424.72 L421.38 418.73 L422.02 414.67 L422.66 412.29 L423.31 410.48 L424.08 408.79 L424.85 407.51 L425.75 406.4 L426.78 405.49 L427.04 436.47 L427.29 448.41 L427.81 457.18 L428.84 464.91 L429.61 468.85 L430.51 472.28 L431.54 475.07 L432.7 477.2 L433.98 478.74 L435.52 479.87 L437.33 480.6 L439.64 481.06" fill="none" stroke="#1c2fd6" stroke-width="1.35" stroke-linejoin="round" />
</g>
<rect x="259.7" y="378.4" width="179.6" height="149.6" fill="none" stroke="#555" stroke-width="0.9" />
<line x1="257.1" y1="517.1" x2="259.7" y2="517.1" stroke="#444" stroke-width="0.9" />
<text x="252.7" y="520.2" font-size="8.6" text-anchor="end" font-weight="normal" fill="#1a1a1a" >0</text>
<line x1="257.1" y1="491.9" x2="259.7" y2="491.9" stroke="#444" stroke-width="0.9" />
<text x="252.7" y="495" font-size="8.6" text-anchor="end" font-weight="normal" fill="#1a1a1a" >5</text>
<line x1="257.1" y1="466.7" x2="259.7" y2="466.7" stroke="#444" stroke-width="0.9" />
<text x="252.7" y="469.8" font-size="8.6" text-anchor="end" font-weight="normal" fill="#1a1a1a" >10</text>
<line x1="257.1" y1="441.5" x2="259.7" y2="441.5" stroke="#444" stroke-width="0.9" />
<text x="252.7" y="444.6" font-size="8.6" text-anchor="end" font-weight="normal" fill="#1a1a1a" >15</text>
<line x1="257.1" y1="416.3" x2="259.7" y2="416.3" stroke="#444" stroke-width="0.9" />
<text x="252.7" y="419.4" font-size="8.6" text-anchor="end" font-weight="normal" fill="#1a1a1a" >20</text>
<line x1="257.1" y1="391.1" x2="259.7" y2="391.1" stroke="#444" stroke-width="0.9" />
<text x="252.7" y="394.2" font-size="8.6" text-anchor="end" font-weight="normal" fill="#1a1a1a" >25</text>
<line x1="258.1" y1="529.7" x2="259.7" y2="529.7" stroke="#444" stroke-width="0.8" />
<line x1="258.1" y1="504.5" x2="259.7" y2="504.5" stroke="#444" stroke-width="0.8" />
<line x1="258.1" y1="479.3" x2="259.7" y2="479.3" stroke="#444" stroke-width="0.8" />
<line x1="258.1" y1="454.1" x2="259.7" y2="454.1" stroke="#444" stroke-width="0.8" />
<line x1="258.1" y1="428.9" x2="259.7" y2="428.9" stroke="#444" stroke-width="0.8" />
<line x1="258.1" y1="403.7" x2="259.7" y2="403.7" stroke="#444" stroke-width="0.8" />
<line x1="259.6" y1="528" x2="259.6" y2="530.6" stroke="#444" stroke-width="0.9" />
<line x1="266.03" y1="528" x2="266.03" y2="529.6" stroke="#444" stroke-width="0.8" />
<text x="263.8" y="535.4" font-size="8.6" text-anchor="end" font-weight="normal" fill="#1a1a1a" transform="rotate(-45 263.8 535.4)" >0</text>
<line x1="272.46" y1="528" x2="272.46" y2="530.6" stroke="#444" stroke-width="0.9" />
<line x1="278.89" y1="528" x2="278.89" y2="529.6" stroke="#444" stroke-width="0.8" />
<text x="276.66" y="535.4" font-size="8.6" text-anchor="end" font-weight="normal" fill="#1a1a1a" transform="rotate(-45 276.66 535.4)" >10</text>
<line x1="285.32" y1="528" x2="285.32" y2="530.6" stroke="#444" stroke-width="0.9" />
<line x1="291.75" y1="528" x2="291.75" y2="529.6" stroke="#444" stroke-width="0.8" />
<text x="289.52" y="535.4" font-size="8.6" text-anchor="end" font-weight="normal" fill="#1a1a1a" transform="rotate(-45 289.52 535.4)" >20</text>
<line x1="298.18" y1="528" x2="298.18" y2="530.6" stroke="#444" stroke-width="0.9" />
<line x1="304.61" y1="528" x2="304.61" y2="529.6" stroke="#444" stroke-width="0.8" />
<text x="302.38" y="535.4" font-size="8.6" text-anchor="end" font-weight="normal" fill="#1a1a1a" transform="rotate(-45 302.38 535.4)" >30</text>
<line x1="311.04" y1="528" x2="311.04" y2="530.6" stroke="#444" stroke-width="0.9" />
<line x1="317.47" y1="528" x2="317.47" y2="529.6" stroke="#444" stroke-width="0.8" />
<text x="315.24" y="535.4" font-size="8.6" text-anchor="end" font-weight="normal" fill="#1a1a1a" transform="rotate(-45 315.24 535.4)" >40</text>
<line x1="323.9" y1="528" x2="323.9" y2="530.6" stroke="#444" stroke-width="0.9" />
<line x1="330.33" y1="528" x2="330.33" y2="529.6" stroke="#444" stroke-width="0.8" />
<text x="328.1" y="535.4" font-size="8.6" text-anchor="end" font-weight="normal" fill="#1a1a1a" transform="rotate(-45 328.1 535.4)" >50</text>
<line x1="336.76" y1="528" x2="336.76" y2="530.6" stroke="#444" stroke-width="0.9" />
<line x1="343.19" y1="528" x2="343.19" y2="529.6" stroke="#444" stroke-width="0.8" />
<text x="340.96" y="535.4" font-size="8.6" text-anchor="end" font-weight="normal" fill="#1a1a1a" transform="rotate(-45 340.96 535.4)" >60</text>
<line x1="349.62" y1="528" x2="349.62" y2="530.6" stroke="#444" stroke-width="0.9" />
<line x1="356.05" y1="528" x2="356.05" y2="529.6" stroke="#444" stroke-width="0.8" />
<text x="353.82" y="535.4" font-size="8.6" text-anchor="end" font-weight="normal" fill="#1a1a1a" transform="rotate(-45 353.82 535.4)" >70</text>
<line x1="362.48" y1="528" x2="362.48" y2="530.6" stroke="#444" stroke-width="0.9" />
<line x1="368.91" y1="528" x2="368.91" y2="529.6" stroke="#444" stroke-width="0.8" />
<text x="366.68" y="535.4" font-size="8.6" text-anchor="end" font-weight="normal" fill="#1a1a1a" transform="rotate(-45 366.68 535.4)" >80</text>
<line x1="375.34" y1="528" x2="375.34" y2="530.6" stroke="#444" stroke-width="0.9" />
<line x1="381.77" y1="528" x2="381.77" y2="529.6" stroke="#444" stroke-width="0.8" />
<text x="379.54" y="535.4" font-size="8.6" text-anchor="end" font-weight="normal" fill="#1a1a1a" transform="rotate(-45 379.54 535.4)" >90</text>
<line x1="388.2" y1="528" x2="388.2" y2="530.6" stroke="#444" stroke-width="0.9" />
<line x1="394.63" y1="528" x2="394.63" y2="529.6" stroke="#444" stroke-width="0.8" />
<text x="392.4" y="535.4" font-size="8.6" text-anchor="end" font-weight="normal" fill="#1a1a1a" transform="rotate(-45 392.4 535.4)" >100</text>
<line x1="401.06" y1="528" x2="401.06" y2="530.6" stroke="#444" stroke-width="0.9" />
<line x1="407.49" y1="528" x2="407.49" y2="529.6" stroke="#444" stroke-width="0.8" />
<text x="405.26" y="535.4" font-size="8.6" text-anchor="end" font-weight="normal" fill="#1a1a1a" transform="rotate(-45 405.26 535.4)" >110</text>
<line x1="413.92" y1="528" x2="413.92" y2="530.6" stroke="#444" stroke-width="0.9" />
<line x1="420.35" y1="528" x2="420.35" y2="529.6" stroke="#444" stroke-width="0.8" />
<text x="418.12" y="535.4" font-size="8.6" text-anchor="end" font-weight="normal" fill="#1a1a1a" transform="rotate(-45 418.12 535.4)" >120</text>
<line x1="426.78" y1="528" x2="426.78" y2="530.6" stroke="#444" stroke-width="0.9" />
<line x1="433.21" y1="528" x2="433.21" y2="529.6" stroke="#444" stroke-width="0.8" />
<text x="430.98" y="535.4" font-size="8.6" text-anchor="end" font-weight="normal" fill="#1a1a1a" transform="rotate(-45 430.98 535.4)" >130</text>
<line x1="439.64" y1="528" x2="439.64" y2="530.6" stroke="#444" stroke-width="0.9" />
<text x="443.84" y="535.4" font-size="8.6" text-anchor="end" font-weight="normal" fill="#1a1a1a" transform="rotate(-45 443.84 535.4)" >140</text>
<text x="350.5" y="555.3" font-size="8.7" text-anchor="middle" font-weight="normal" fill="#1a1a1a" >Time (min)</text>
<text x="233.6" y="453.5" font-size="8.7" text-anchor="middle" font-weight="normal" fill="#1a1a1a" transform="rotate(-90 233.6 453.5)" >Response (%)</text>
<text x="428.8" y="375.8" font-size="8.7" text-anchor="middle" font-weight="normal" fill="#1a1a1a" >Air</text>
<rect x="259.7" y="378.4" width="114" height="20.4" fill="#fff" stroke="#aaa" stroke-width="0.8" />
<line x1="261.4" y1="384.2" x2="278" y2="384.2" stroke="#2b2b2b" stroke-width="1.5" />
<text x="281.5" y="386.8" font-size="7.25" text-anchor="start" font-weight="normal" fill="#1a1a1a" >2Pd-GaN</text>
<line x1="317.4" y1="384.2" x2="334" y2="384.2" stroke="#e0282d" stroke-width="1.5" />
<text x="337.5" y="386.8" font-size="7.25" text-anchor="start" font-weight="normal" fill="#1a1a1a" >5Pd-GaN</text>
<line x1="261.4" y1="393.4" x2="278" y2="393.4" stroke="#1c2fd6" stroke-width="1.5" />
<text x="281.5" y="396" font-size="7.25" text-anchor="start" font-weight="normal" fill="#1a1a1a" >10Pd-GaN</text>
<line x1="317.2" y1="393.4" x2="333.8" y2="393.4" stroke="#46c23c" stroke-width="1.5" />
<text x="337.3" y="396" font-size="7.25" text-anchor="start" font-weight="normal" fill="#1a1a1a" >15Pd-GaN</text>
<text x="261" y="406.8" font-size="7.25" text-anchor="start" font-weight="normal" fill="#e41e2b" >RT(~25 °C)</text>
<text x="261" y="416.6" font-size="7.25" text-anchor="start" font-weight="normal" fill="#e41e2b" >H<tspan font-size="4.6" dy="1.6">2</tspan><tspan dy="-1.6"> concentration: 1 ~ 10,000 ppm</tspan></text>
<text x="261" y="427.4" font-size="7.25" text-anchor="start" font-weight="normal" fill="#e41e2b" >Time interval: 5 min</text>
<text x="336.6" y="480.1" font-size="7.6" text-anchor="middle" font-weight="normal" fill="#1a1a1a" >50</text>
<text x="349.7" y="467" font-size="7.6" text-anchor="middle" font-weight="normal" fill="#1a1a1a" >100</text>
<text x="362.4" y="452.6" font-size="7.6" text-anchor="middle" font-weight="normal" fill="#1a1a1a" >200</text>
<text x="373.4" y="438" font-size="7.6" text-anchor="middle" font-weight="normal" fill="#1a1a1a" >500</text>
<text x="387" y="427.9" font-size="7.6" text-anchor="middle" font-weight="normal" fill="#1a1a1a" >1000</text>
<text x="398.9" y="420.6" font-size="7.6" text-anchor="middle" font-weight="normal" fill="#1a1a1a" >2000</text>
<text x="411.7" y="409.3" font-size="7.6" text-anchor="middle" font-weight="normal" fill="#1a1a1a" >5000</text>
<text x="426.8" y="401.5" font-size="7.6" text-anchor="middle" font-weight="normal" fill="#1a1a1a" >10,000</text>
<rect x="270.5" y="429.2" width="59.7" height="48" fill="#fff" stroke="#999" stroke-width="0.6" />
<line x1="276.68" y1="430.2" x2="276.68" y2="476.2" stroke="#ddd" stroke-width="0.4" stroke-dasharray="0.6,0.8"/>
<line x1="281.85" y1="430.2" x2="281.85" y2="476.2" stroke="#ddd" stroke-width="0.4" stroke-dasharray="0.6,0.8"/>
<line x1="287.02" y1="430.2" x2="287.02" y2="476.2" stroke="#ddd" stroke-width="0.4" stroke-dasharray="0.6,0.8"/>
<line x1="292.2" y1="430.2" x2="292.2" y2="476.2" stroke="#ddd" stroke-width="0.4" stroke-dasharray="0.6,0.8"/>
<line x1="297.38" y1="430.2" x2="297.38" y2="476.2" stroke="#ddd" stroke-width="0.4" stroke-dasharray="0.6,0.8"/>
<line x1="302.55" y1="430.2" x2="302.55" y2="476.2" stroke="#ddd" stroke-width="0.4" stroke-dasharray="0.6,0.8"/>
<line x1="307.73" y1="430.2" x2="307.73" y2="476.2" stroke="#ddd" stroke-width="0.4" stroke-dasharray="0.6,0.8"/>
<line x1="312.9" y1="430.2" x2="312.9" y2="476.2" stroke="#ddd" stroke-width="0.4" stroke-dasharray="0.6,0.8"/>
<line x1="318.07" y1="430.2" x2="318.07" y2="476.2" stroke="#ddd" stroke-width="0.4" stroke-dasharray="0.6,0.8"/>
<line x1="323.25" y1="430.2" x2="323.25" y2="476.2" stroke="#ddd" stroke-width="0.4" stroke-dasharray="0.6,0.8"/>
<line x1="328.43" y1="430.2" x2="328.43" y2="476.2" stroke="#ddd" stroke-width="0.4" stroke-dasharray="0.6,0.8"/>
<g clip-path="url(#clipHI)">
<path d="M271.5 473 L276.68 473 L278.95 472.45 L281.85 472.15 L283.92 472.47 L287.02 472.62 L289.3 472.02 L292.2 471.68 L294.27 472 L297.38 472.15 L299.65 471.54 L302.55 471.2 L303.48 471.58 L304.62 471.85 L307.73 472.15 L308.76 471.65 L310 471.24 L312.9 470.73 L313.83 471.1 L314.97 471.38 L318.08 471.68 L318.9 470.51 L319.83 469.85 L321.08 469.49 L322.94 469.32 L323.25 469.31 L323.66 470.06 L324.18 470.59 L325.11 471.01 L326.25 471.16 L328.43 471.2 L328.53 470.71" fill="none" stroke="#888" stroke-width="0.7" stroke-linejoin="round" />
<path d="M271.5 473 L276.68 473 L277.71 471.87 L278.95 470.93 L280.3 470.26 L281.85 469.77 L282.78 470.93 L283.92 471.79 L285.27 472.35 L287.02 472.71 L288.06 471.51 L289.3 470.51 L290.65 469.8 L292.2 469.28 L293.13 470.25 L294.27 470.96 L295.62 471.43 L297.38 471.73 L298.41 469.84 L299.65 468.28 L301 467.15 L302.55 466.34 L303.48 468.08 L304.62 469.38 L305.97 470.22 L307.73 470.75 L308.76 467.33 L310 464.47 L311.35 462.43 L312.9 460.96 L313.83 464.43 L314.35 465.79 L314.97 467.02 L315.59 467.94 L316.32 468.71 L317.14 469.32 L318.08 469.77 L318.9 462.27 L319.32 460.02 L319.83 458.09 L320.46 456.62 L321.18 455.62 L322.11 454.95 L323.25 454.59 L323.56 458.73 L323.97 462.31 L324.49 464.88 L325.11 466.44 L325.63 467.09 L326.25 467.48 L327.08 467.71 L328.43 467.81 L328.53 463.94" fill="none" stroke="#f08080" stroke-width="0.7" stroke-linejoin="round" />
<path d="M271.5 473 L276.68 473 L277.71 472.34 L278.95 471.79 L280.3 471.4 L281.85 471.11 L283.92 471.4 L287.02 471.53 L288.99 470.92 L291.37 470.56 L297.38 470.48 L298.41 468.65 L299.65 467.12 L301 466.03 L302.55 465.23 L303.48 466.89 L304.62 468.12 L305.97 468.93 L307.73 469.43 L308.76 465.4 L310 462.04 L311.35 459.63 L312.07 458.71 L312.9 457.89 L313.83 460.79 L314.97 462.95 L315.59 463.71 L316.32 464.35 L317.14 464.86 L318.08 465.23 L318.8 457.93 L319.21 455.32 L319.73 453.07 L320.35 451.35 L320.97 450.31 L321.8 449.53 L322.73 449.1 L323.25 448.97 L323.66 453.31 L324.08 455.95 L324.6 457.83 L325.32 459.1 L325.84 459.52 L326.46 459.78 L328.43 459.99 L328.53 455.3" fill="none" stroke="#70d070" stroke-width="0.7" stroke-linejoin="round" />
<path d="M271.5 473 L276.68 473 L277.71 472.19 L278.95 471.51 L280.3 471.02 L281.85 470.67 L282.78 471.47 L283.92 472.06 L285.27 472.45 L287.02 472.7 L288.06 470.75 L289.3 469.12 L290.65 467.96 L292.2 467.12 L293.13 468.92 L294.27 470.26 L295.62 471.14 L297.38 471.68 L298.41 468.14 L299.65 465.19 L301 463.08 L302.55 461.54 L303.48 463.75 L304.62 465.38 L305.97 466.45 L307.73 467.12 L308.76 461.63 L310 457.05 L311.35 453.78 L312.07 452.53 L312.9 451.41 L313.83 457.01 L314.35 459.19 L314.97 461.18 L315.59 462.65 L316.32 463.9 L317.14 464.88 L318.08 465.6 L318.9 451.07 L319.32 446.72 L319.83 442.98 L320.46 440.13 L321.08 438.4 L321.9 437.11 L322.42 436.64 L323.04 436.28 L323.25 436.2 L323.66 443.79 L324.18 449.23 L324.6 451.7 L325.22 453.7 L325.73 454.54 L326.36 455.05 L327.18 455.33 L328.43 455.46 L328.53 448.32" fill="none" stroke="#6070f0" stroke-width="0.7" stroke-linejoin="round" />
</g>
<text x="269.1" y="474.4" font-size="4.2" text-anchor="end" font-weight="normal" fill="#222" >0</text>
<text x="269.1" y="465.78" font-size="4.2" text-anchor="end" font-weight="normal" fill="#222" >1</text>
<text x="269.1" y="457.16" font-size="4.2" text-anchor="end" font-weight="normal" fill="#222" >2</text>
<text x="269.1" y="448.54" font-size="4.2" text-anchor="end" font-weight="normal" fill="#222" >3</text>
<text x="269.1" y="439.92" font-size="4.2" text-anchor="end" font-weight="normal" fill="#222" >4</text>
<text x="269.1" y="431.3" font-size="4.2" text-anchor="end" font-weight="normal" fill="#222" >5</text>
<text x="263.1" y="452.8" font-size="4.1" text-anchor="middle" font-weight="normal" fill="#222" transform="rotate(-90 263.1 452.8)" >Response (%)</text>
<line x1="271.5" y1="432.4" x2="278.5" y2="432.4" stroke="#888" stroke-width="0.6" />
<text x="280" y="433.5" font-size="3" text-anchor="start" font-weight="normal" fill="#333" >2Pd-GaN</text>
<line x1="271.5" y1="436.1" x2="278.5" y2="436.1" stroke="#f08080" stroke-width="0.6" />
<text x="280" y="437.2" font-size="3" text-anchor="start" font-weight="normal" fill="#333" >5Pd-GaN</text>
<line x1="271.5" y1="439.8" x2="278.5" y2="439.8" stroke="#6070f0" stroke-width="0.6" />
<text x="280" y="440.9" font-size="3" text-anchor="start" font-weight="normal" fill="#333" >10Pd-GaN</text>
<line x1="271.5" y1="443.5" x2="278.5" y2="443.5" stroke="#70d070" stroke-width="0.6" />
<text x="280" y="444.6" font-size="3" text-anchor="start" font-weight="normal" fill="#333" >15Pd-GaN</text>
<text x="281.85" y="467.26" font-size="4.6" text-anchor="middle" font-weight="normal" fill="#222" >1</text>
<text x="292.2" y="464.67" font-size="4.6" text-anchor="middle" font-weight="normal" fill="#222" >2</text>
<text x="302.55" y="458.21" font-size="4.6" text-anchor="middle" font-weight="normal" fill="#222" >5</text>
<text x="312.9" y="447.86" font-size="4.6" text-anchor="middle" font-weight="normal" fill="#222" >10</text>
<text x="323.25" y="433.64" font-size="4.6" text-anchor="middle" font-weight="normal" fill="#222" >20</text>
<text x="272.7" y="480.8" font-size="3.6" text-anchor="end" font-weight="normal" fill="#333" transform="rotate(-45 272.7 480.8)" >0</text>
<text x="277.88" y="480.8" font-size="3.6" text-anchor="end" font-weight="normal" fill="#333" transform="rotate(-45 277.88 480.8)" >5</text>
<text x="283.05" y="480.8" font-size="3.6" text-anchor="end" font-weight="normal" fill="#333" transform="rotate(-45 283.05 480.8)" >10</text>
<text x="288.22" y="480.8" font-size="3.6" text-anchor="end" font-weight="normal" fill="#333" transform="rotate(-45 288.22 480.8)" >15</text>
<text x="293.4" y="480.8" font-size="3.6" text-anchor="end" font-weight="normal" fill="#333" transform="rotate(-45 293.4 480.8)" >20</text>
<text x="298.57" y="480.8" font-size="3.6" text-anchor="end" font-weight="normal" fill="#333" transform="rotate(-45 298.57 480.8)" >25</text>
<text x="303.75" y="480.8" font-size="3.6" text-anchor="end" font-weight="normal" fill="#333" transform="rotate(-45 303.75 480.8)" >30</text>
<text x="308.93" y="480.8" font-size="3.6" text-anchor="end" font-weight="normal" fill="#333" transform="rotate(-45 308.93 480.8)" >35</text>
<text x="314.1" y="480.8" font-size="3.6" text-anchor="end" font-weight="normal" fill="#333" transform="rotate(-45 314.1 480.8)" >40</text>
<text x="319.27" y="480.8" font-size="3.6" text-anchor="end" font-weight="normal" fill="#333" transform="rotate(-45 319.27 480.8)" >45</text>
<text x="324.45" y="480.8" font-size="3.6" text-anchor="end" font-weight="normal" fill="#333" transform="rotate(-45 324.45 480.8)" >50</text>
<text x="329.62" y="480.8" font-size="3.6" text-anchor="end" font-weight="normal" fill="#333" transform="rotate(-45 329.62 480.8)" >55</text>
<text x="301.6" y="489.6" font-size="4.6" text-anchor="middle" font-weight="normal" fill="#222" >Time (min)</text>
<text x="223.7" y="383.7" font-size="14.5" text-anchor="start" font-weight="bold" fill="#000" >h</text>
<rect x="481.3" y="383.4" width="171.8" height="147.3" fill="none" stroke="#666" stroke-width="0.9" />
<line x1="478.7" y1="518.5" x2="481.3" y2="518.5" stroke="#444" stroke-width="0.9" />
<text x="475.1" y="521.8" font-size="9.4" text-anchor="end" font-weight="normal" fill="#1a1a1a" >0</text>
<line x1="478.7" y1="494.1" x2="481.3" y2="494.1" stroke="#444" stroke-width="0.9" />
<text x="475.1" y="497.4" font-size="9.4" text-anchor="end" font-weight="normal" fill="#1a1a1a" >5</text>
<line x1="478.7" y1="469.7" x2="481.3" y2="469.7" stroke="#444" stroke-width="0.9" />
<text x="475.1" y="473" font-size="9.4" text-anchor="end" font-weight="normal" fill="#1a1a1a" >10</text>
<line x1="478.7" y1="445.3" x2="481.3" y2="445.3" stroke="#444" stroke-width="0.9" />
<text x="475.1" y="448.6" font-size="9.4" text-anchor="end" font-weight="normal" fill="#1a1a1a" >15</text>
<line x1="478.7" y1="420.9" x2="481.3" y2="420.9" stroke="#444" stroke-width="0.9" />
<text x="475.1" y="424.2" font-size="9.4" text-anchor="end" font-weight="normal" fill="#1a1a1a" >20</text>
<line x1="478.7" y1="396.5" x2="481.3" y2="396.5" stroke="#444" stroke-width="0.9" />
<text x="475.1" y="399.8" font-size="9.4" text-anchor="end" font-weight="normal" fill="#1a1a1a" >25</text>
<line x1="479.7" y1="530.7" x2="481.3" y2="530.7" stroke="#444" stroke-width="0.8" />
<line x1="479.7" y1="506.3" x2="481.3" y2="506.3" stroke="#444" stroke-width="0.8" />
<line x1="479.7" y1="481.9" x2="481.3" y2="481.9" stroke="#444" stroke-width="0.8" />
<line x1="479.7" y1="457.5" x2="481.3" y2="457.5" stroke="#444" stroke-width="0.8" />
<line x1="479.7" y1="433.1" x2="481.3" y2="433.1" stroke="#444" stroke-width="0.8" />
<line x1="479.7" y1="408.7" x2="481.3" y2="408.7" stroke="#444" stroke-width="0.8" />
<line x1="653.1" y1="383.4" x2="653.1" y2="530.7" stroke="#f0921e" stroke-width="1" />
<line x1="653.1" y1="530.7" x2="655.7" y2="530.7" stroke="#f0921e" stroke-width="0.9" />
<text x="658.1" y="534" font-size="9.4" text-anchor="start" font-weight="normal" fill="#f0921e" >80</text>
<line x1="653.1" y1="481.55" x2="655.7" y2="481.55" stroke="#f0921e" stroke-width="0.9" />
<text x="658.1" y="484.85" font-size="9.4" text-anchor="start" font-weight="normal" fill="#f0921e" >85</text>
<line x1="653.1" y1="432.4" x2="655.7" y2="432.4" stroke="#f0921e" stroke-width="0.9" />
<text x="658.1" y="435.7" font-size="9.4" text-anchor="start" font-weight="normal" fill="#f0921e" >90</text>
<line x1="653.1" y1="383.25" x2="655.7" y2="383.25" stroke="#f0921e" stroke-width="0.9" />
<text x="658.1" y="386.55" font-size="9.4" text-anchor="start" font-weight="normal" fill="#f0921e" >95</text>
<line x1="653.1" y1="506.13" x2="654.7" y2="506.13" stroke="#f0921e" stroke-width="0.8" />
<line x1="653.1" y1="456.98" x2="654.7" y2="456.98" stroke="#f0921e" stroke-width="0.8" />
<line x1="653.1" y1="407.83" x2="654.7" y2="407.83" stroke="#f0921e" stroke-width="0.8" />
<line x1="481.8" y1="530.7" x2="481.8" y2="533.3" stroke="#444" stroke-width="0.9" />
<text x="481.8" y="542.7" font-size="9.4" text-anchor="middle" font-weight="normal" fill="#1a1a1a" >0</text>
<line x1="530.8" y1="530.7" x2="530.8" y2="533.3" stroke="#444" stroke-width="0.9" />
<text x="530.8" y="542.7" font-size="9.4" text-anchor="middle" font-weight="normal" fill="#1a1a1a" >5</text>
<line x1="579.8" y1="530.7" x2="579.8" y2="533.3" stroke="#444" stroke-width="0.9" />
<text x="579.8" y="542.7" font-size="9.4" text-anchor="middle" font-weight="normal" fill="#1a1a1a" >10</text>
<line x1="628.8" y1="530.7" x2="628.8" y2="533.3" stroke="#444" stroke-width="0.9" />
<text x="628.8" y="542.7" font-size="9.4" text-anchor="middle" font-weight="normal" fill="#1a1a1a" >15</text>
<line x1="506.3" y1="530.7" x2="506.3" y2="532.3" stroke="#444" stroke-width="0.8" />
<line x1="555.3" y1="530.7" x2="555.3" y2="532.3" stroke="#444" stroke-width="0.8" />
<line x1="604.3" y1="530.7" x2="604.3" y2="532.3" stroke="#444" stroke-width="0.8" />
<text x="567.6" y="557.3" font-size="8.75" text-anchor="middle" font-weight="normal" fill="#1a1a1a" >Pd thickness (nm)</text>
<text x="457.6" y="456" font-size="9.4" text-anchor="middle" font-weight="normal" fill="#1a1a1a" transform="rotate(-90 457.6 456)" >Response (%)</text>
<text x="677.6" y="456" font-size="9.4" text-anchor="middle" font-weight="normal" fill="#f0921e" transform="rotate(-90 677.6 456)" >Resistance (Ω)</text>
<path d="M501.4 516.06 L530.8 497.52 L579.8 471.16 L628.8 487.76" fill="none" stroke="#111111" stroke-width="1.1" stroke-linejoin="round" />
<path d="M501.4 513.62 L530.8 484.34 L579.8 443.35 L628.8 469.7" fill="none" stroke="#e0202a" stroke-width="1.1" stroke-linejoin="round" />
<path d="M501.4 511.67 L530.8 472.63 L579.8 426.27 L628.8 457.01" fill="none" stroke="#2a3ae0" stroke-width="1.1" stroke-linejoin="round" />
<path d="M501.4 509.72 L530.8 466.28 L579.8 409.68 L628.8 446.28" fill="none" stroke="#4ccf3a" stroke-width="1.1" stroke-linejoin="round" />
<path d="M501.4 422.57 L530.8 452.06 L579.8 481.55 L628.8 511.04" fill="none" stroke="#f0921e" stroke-width="1.1" stroke-linejoin="round" />
<rect x="498.5" y="513.16" width="5.8" height="5.8" fill="#111111" stroke="none" stroke-width="1" />
<rect x="527.9" y="494.62" width="5.8" height="5.8" fill="#111111" stroke="none" stroke-width="1" />
<rect x="576.9" y="468.26" width="5.8" height="5.8" fill="#111111" stroke="none" stroke-width="1" />
<rect x="625.9" y="484.86" width="5.8" height="5.8" fill="#111111" stroke="none" stroke-width="1" />
<circle cx="501.4" cy="513.62" r="3.1" fill="#e0202a" stroke="none" stroke-width="1" />
<circle cx="530.8" cy="484.34" r="3.1" fill="#e0202a" stroke="none" stroke-width="1" />
<circle cx="579.8" cy="443.35" r="3.1" fill="#e0202a" stroke="none" stroke-width="1" />
<circle cx="628.8" cy="469.7" r="3.1" fill="#e0202a" stroke="none" stroke-width="1" />
<path d="M501.4 507.77 L497.6 514.37 L505.2 514.37 Z" fill="#2a3ae0" stroke="none" stroke-width="1" />
<path d="M530.8 468.73 L527 475.33 L534.6 475.33 Z" fill="#2a3ae0" stroke="none" stroke-width="1" />
<path d="M579.8 422.37 L576 428.97 L583.6 428.97 Z" fill="#2a3ae0" stroke="none" stroke-width="1" />
<path d="M628.8 453.11 L625 459.71 L632.6 459.71 Z" fill="#2a3ae0" stroke="none" stroke-width="1" />
<path d="M501.4 513.62 L497.6 507.02 L505.2 507.02 Z" fill="#4ccf3a" stroke="none" stroke-width="1" />
<path d="M530.8 470.18 L527 463.58 L534.6 463.58 Z" fill="#4ccf3a" stroke="none" stroke-width="1" />
<path d="M579.8 413.58 L576 406.98 L583.6 406.98 Z" fill="#4ccf3a" stroke="none" stroke-width="1" />
<path d="M628.8 450.18 L625 443.58 L632.6 443.58 Z" fill="#4ccf3a" stroke="none" stroke-width="1" />
<path d="M501.4 419.17 L504.8 422.57 L501.4 425.97 L498 422.57 Z" fill="#f0921e" stroke="none" stroke-width="1" />
<path d="M530.8 448.66 L534.2 452.06 L530.8 455.46 L527.4 452.06 Z" fill="#f0921e" stroke="none" stroke-width="1" />
<path d="M579.8 478.15 L583.2 481.55 L579.8 484.95 L576.4 481.55 Z" fill="#f0921e" stroke="none" stroke-width="1" />
<path d="M628.8 507.64 L632.2 511.04 L628.8 514.44 L625.4 511.04 Z" fill="#f0921e" stroke="none" stroke-width="1" />
<circle cx="628.8" cy="511.04" r="6.3" fill="none" stroke="#f0921e" stroke-width="0.9" />
<line x1="636.4" y1="511.04" x2="648" y2="511.04" stroke="#f0921e" stroke-width="0.8" />
<path d="M650.6 511.04 L647 509.44 L647 512.64 Z" fill="#f0921e" stroke="none" stroke-width="1" />
<rect x="481.3" y="383.4" width="169.3" height="22.4" fill="#fff" stroke="#aaa" stroke-width="0.8" />
<line x1="482.1" y1="388.7" x2="497.6" y2="388.7" stroke="#111111" stroke-width="1.1" />
<rect x="487.53" y="386.38" width="4.64" height="4.64" fill="#111111" stroke="none" stroke-width="1" />
<text x="501.9" y="390.6" font-size="5.4" text-anchor="start" font-weight="normal" fill="#1a1a1a" >100 ppm H<tspan font-size="3.4" dy="1.1">2</tspan></text>
<line x1="539.6" y1="388.7" x2="555.1" y2="388.7" stroke="#e0202a" stroke-width="1.1" />
<circle cx="547.35" cy="388.7" r="2.48" fill="#e0202a" stroke="none" stroke-width="1" />
<text x="559.4" y="390.6" font-size="5.4" text-anchor="start" font-weight="normal" fill="#1a1a1a" >500 ppm H<tspan font-size="3.4" dy="1.1">2</tspan></text>
<line x1="593.4" y1="388.7" x2="608.9" y2="388.7" stroke="#2a3ae0" stroke-width="1.1" />
<path d="M601.15 385.58 L598.11 390.86 L604.19 390.86 Z" fill="#2a3ae0" stroke="none" stroke-width="1" />
<text x="613.2" y="390.6" font-size="5.4" text-anchor="start" font-weight="normal" fill="#1a1a1a" >2000 ppm H<tspan font-size="3.4" dy="1.1">2</tspan></text>
<line x1="482.1" y1="399.2" x2="497.6" y2="399.2" stroke="#4ccf3a" stroke-width="1.1" />
<path d="M489.85 402.32 L486.81 397.04 L492.89 397.04 Z" fill="#4ccf3a" stroke="none" stroke-width="1" />
<text x="501.9" y="401.1" font-size="5.4" text-anchor="start" font-weight="normal" fill="#1a1a1a" >10,000 ppm H<tspan font-size="3.4" dy="1.1">2</tspan></text>
<line x1="544" y1="399.2" x2="558" y2="399.2" stroke="#f0921e" stroke-width="1.1" />
<path d="M551 396.48 L553.72 399.2 L551 401.92 L548.28 399.2 Z" fill="#f0921e" stroke="none" stroke-width="1" />
<text x="562" y="401.1" font-size="5.4" text-anchor="start" font-weight="normal" fill="#1a1a1a" >Baseline resistance</text>
<text x="449.6" y="383.4" font-size="14.5" text-anchor="start" font-weight="bold" fill="#000" >i</text>
<rect x="39.9" y="572.6" width="187.4" height="151" fill="none" stroke="#000" stroke-width="1.5" />
<line x1="39.9" y1="574.1" x2="42.8" y2="574.1" stroke="#000" stroke-width="1.2" />
<text x="34.4" y="577.2" font-size="8.6" text-anchor="end" font-weight="bold" fill="#111" >100</text>
<line x1="39.9" y1="605.6" x2="42.8" y2="605.6" stroke="#000" stroke-width="1.2" />
<text x="34.4" y="608.7" font-size="8.6" text-anchor="end" font-weight="bold" fill="#111" >80</text>
<line x1="39.9" y1="637.1" x2="42.8" y2="637.1" stroke="#000" stroke-width="1.2" />
<text x="34.4" y="640.2" font-size="8.6" text-anchor="end" font-weight="bold" fill="#111" >60</text>
<line x1="39.9" y1="668.6" x2="42.8" y2="668.6" stroke="#000" stroke-width="1.2" />
<text x="34.4" y="671.7" font-size="8.6" text-anchor="end" font-weight="bold" fill="#111" >40</text>
<line x1="39.9" y1="700.1" x2="42.8" y2="700.1" stroke="#000" stroke-width="1.2" />
<text x="34.4" y="703.2" font-size="8.6" text-anchor="end" font-weight="bold" fill="#111" >20</text>
<line x1="39.9" y1="589.85" x2="41.7" y2="589.85" stroke="#000" stroke-width="1" />
<line x1="39.9" y1="621.35" x2="41.7" y2="621.35" stroke="#000" stroke-width="1" />
<line x1="39.9" y1="652.85" x2="41.7" y2="652.85" stroke="#000" stroke-width="1" />
<line x1="39.9" y1="684.35" x2="41.7" y2="684.35" stroke="#000" stroke-width="1" />
<line x1="39.9" y1="715.85" x2="41.7" y2="715.85" stroke="#000" stroke-width="1" />
<line x1="48.3" y1="723.6" x2="48.3" y2="720.6" stroke="#000" stroke-width="1.2" />
<text x="48.3" y="734.7" font-size="8.6" text-anchor="middle" font-weight="bold" fill="#111" >0</text>
<line x1="82.24" y1="723.6" x2="82.24" y2="720.6" stroke="#000" stroke-width="1.2" />
<text x="82.24" y="734.7" font-size="8.6" text-anchor="middle" font-weight="bold" fill="#111" >2000</text>
<line x1="116.18" y1="723.6" x2="116.18" y2="720.6" stroke="#000" stroke-width="1.2" />
<text x="116.18" y="734.7" font-size="8.6" text-anchor="middle" font-weight="bold" fill="#111" >4000</text>
<line x1="150.12" y1="723.6" x2="150.12" y2="720.6" stroke="#000" stroke-width="1.2" />
<text x="150.12" y="734.7" font-size="8.6" text-anchor="middle" font-weight="bold" fill="#111" >6000</text>
<line x1="184.06" y1="723.6" x2="184.06" y2="720.6" stroke="#000" stroke-width="1.2" />
<text x="184.06" y="734.7" font-size="8.6" text-anchor="middle" font-weight="bold" fill="#111" >8000</text>
<line x1="218" y1="723.6" x2="218" y2="720.6" stroke="#000" stroke-width="1.2" />
<text x="218" y="734.7" font-size="8.6" text-anchor="middle" font-weight="bold" fill="#111" >10,000</text>
<line x1="65.27" y1="723.6" x2="65.27" y2="721.8" stroke="#000" stroke-width="1" />
<line x1="99.21" y1="723.6" x2="99.21" y2="721.8" stroke="#000" stroke-width="1" />
<line x1="133.15" y1="723.6" x2="133.15" y2="721.8" stroke="#000" stroke-width="1" />
<line x1="167.09" y1="723.6" x2="167.09" y2="721.8" stroke="#000" stroke-width="1" />
<line x1="201.03" y1="723.6" x2="201.03" y2="721.8" stroke="#000" stroke-width="1" />
<text x="133.1" y="747.9" font-size="8.7" text-anchor="middle" font-weight="bold" fill="#111" >Time (s)</text>
<text x="13.2" y="647.1" font-size="8.7" text-anchor="middle" font-weight="bold" fill="#111" transform="rotate(-90 13.2 647.1)" >Resistance (kΩ)</text>
<path d="M48.3 587.96 L49.06 593.4 L50.08 598.26 L50.59 599.97 L51.35 601.89 L52.12 603.26 L52.88 604.22 L53.65 604.9 L54.66 605.51 L55.68 605.9 L56.95 606.18 L60.26 606.47 L66.37 606.54 L67.39 600.25 L68.41 595.68 L68.92 594.04 L69.68 592.15 L70.45 590.78 L71.21 589.78 L71.97 589.06 L72.99 588.4 L74.01 587.97 L75.03 587.68 L78.08 587.3 L83.43 587.17 L83.68 588.72 L84.7 603.35 L85.46 610.65 L86.48 617.18 L86.99 619.47 L87.76 622.05 L88.52 623.88 L89.28 625.17 L90.05 626.09 L91.06 626.9 L92.34 627.51 L93.61 627.86 L95.39 628.1 L97.94 628.24 L100.74 628.28 L101.76 614.93 L102.77 606.24 L103.28 603.1 L104.05 599.49 L104.81 596.88 L105.83 594.48 L106.59 593.24 L107.61 592.11 L108.63 591.37 L109.65 590.88 L110.92 590.51 L112.7 590.23 L118.05 590.01 L118.3 592.66 L119.32 617.66 L120.34 633.41 L120.85 638.95 L121.61 645.19 L122.12 648.3 L122.88 651.8 L123.65 654.28 L124.41 656.04 L125.43 657.61 L126.7 658.78 L127.97 659.43 L129.76 659.9 L132.05 660.14 L135.36 660.25 L135.61 660.25 L136.88 632.34 L137.9 617.35 L138.41 611.94 L139.17 605.72 L139.68 602.56 L140.45 598.92 L141.21 596.28 L142.23 593.85 L143.25 592.27 L144.27 591.24 L145.54 590.44 L147.32 589.85 L149.36 589.54 L152.41 589.38 L153.43 624.06 L154.45 648.4 L154.96 656.96 L155.72 666.6 L156.23 671.4 L156.99 676.82 L157.76 680.65 L158.52 683.36 L159.54 685.78 L160.05 686.63 L160.81 687.59 L162.08 688.61 L163.87 689.33 L165.9 689.68 L169.21 689.86 L169.47 686.33 L170.48 652.51 L171.5 630.48 L172.01 622.54 L172.77 613.4 L173.28 608.76 L174.05 603.41 L174.81 599.53 L175.83 595.97 L176.85 593.65 L178.12 591.85 L179.39 590.79 L181.18 590.01 L183.47 589.57 L186.52 589.38 L187.54 629.61 L188.56 657.85 L189.07 667.77 L189.83 678.95 L190.34 684.53 L191.1 690.81 L191.87 695.25 L192.63 698.39 L193.65 701.2 L194.16 702.19 L194.92 703.3 L196.19 704.48 L196.96 704.93 L197.98 705.32 L200.01 705.73 L203.07 705.93 L204.08 665.51 L205.1 639.18 L205.61 629.69 L206.38 618.77 L207.14 610.85 L207.9 605.11 L208.67 600.95 L209.68 597.12 L210.19 595.74 L210.96 594.16 L212.23 592.42 L212.99 591.75 L213.76 591.26 L215.54 590.58 L218.08 590.18 L222.16 590.01" fill="none" stroke="#d81c1c" stroke-width="2.8" stroke-linejoin="round" />
<text x="47.3" y="583.9" font-size="8.3" text-anchor="start" font-weight="bold" fill="#111" >20 mW/cm<tspan font-size="5.4" dy="-3.2">2</tspan></text>
<line x1="170.6" y1="581.3" x2="187.5" y2="581.3" stroke="#d81c1c" stroke-width="1.2" />
<text x="191" y="584.4" font-size="8.7" text-anchor="start" font-weight="bold" fill="#111" >a-IGZO</text>
<text x="63.8" y="623" font-size="8.6" text-anchor="middle" font-weight="bold" fill="#111" >5</text>
<text x="95.3" y="642.3" font-size="8.6" text-anchor="middle" font-weight="bold" fill="#111" >10</text>
<text x="128.9" y="672.8" font-size="8.6" text-anchor="middle" font-weight="bold" fill="#111" >25</text>
<text x="164" y="702.6" font-size="8.6" text-anchor="middle" font-weight="bold" fill="#111" >50</text>
<text x="197.3" y="716.6" font-size="8.6" text-anchor="middle" font-weight="bold" fill="#111" >100</text>
<rect x="46.1" y="667.4" width="59.8" height="47.3" fill="#000" stroke="none" stroke-width="1" filter="url(#noiseJ)"/>
<rect x="67.1" y="667.4" width="38.3" height="27.9" fill="#213a78" stroke="none" stroke-width="1" />
<rect x="67.1" y="695.3" width="38.3" height="2.7" fill="#fff" stroke="none" stroke-width="1" />
<line x1="77.6" y1="695.3" x2="77.6" y2="698" stroke="#213a78" stroke-width="0.6" />
<line x1="88.4" y1="695.3" x2="88.4" y2="698" stroke="#213a78" stroke-width="0.6" />
<line x1="99" y1="695.3" x2="99" y2="698" stroke="#213a78" stroke-width="0.6" />
<path d="M67.8 695.3 L68.4 677.3 L69 695.3 Z" fill="#f0e400" stroke="none" stroke-width="1" />
<path d="M69.9 695.3 L70.5 684.3 L71.1 695.3 Z" fill="#f0e400" stroke="none" stroke-width="1" />
<path d="M72.9 695.3 L73.5 689.8 L74.1 695.3 Z" fill="#f0e400" stroke="none" stroke-width="1" />
<path d="M77 695.3 L77.6 668.8 L78.2 695.3 Z" fill="#f0e400" stroke="none" stroke-width="1" />
<path d="M84.9 695.3 L85.5 692.8 L86.1 695.3 Z" fill="#f0e400" stroke="none" stroke-width="1" />
<path d="M86.9 695.3 L87.5 691.8 L88.1 695.3 Z" fill="#f0e400" stroke="none" stroke-width="1" />
<line x1="67.3" y1="695" x2="105" y2="695" stroke="#e0d800" stroke-width="0.5" />
<circle cx="77.6" cy="669" r="0.9" fill="#e8e8f0" stroke="none" stroke-width="1" />
<circle cx="73" cy="680.5" r="0.9" fill="#e8e8f0" stroke="none" stroke-width="1" />
<circle cx="70.2" cy="683.6" r="0.9" fill="#e8e8f0" stroke="none" stroke-width="1" />
<circle cx="73.6" cy="683" r="0.9" fill="#e8e8f0" stroke="none" stroke-width="1" />
<circle cx="73" cy="685.5" r="0.9" fill="#e8e8f0" stroke="none" stroke-width="1" />
<circle cx="74.6" cy="687.8" r="0.9" fill="#e8e8f0" stroke="none" stroke-width="1" />
<circle cx="69.3" cy="692.6" r="0.9" fill="#e8e8f0" stroke="none" stroke-width="1" />
<circle cx="75.7" cy="692" r="0.9" fill="#e8e8f0" stroke="none" stroke-width="1" />
<circle cx="85" cy="692.2" r="0.9" fill="#e8e8f0" stroke="none" stroke-width="1" />
<circle cx="87.4" cy="690.4" r="0.9" fill="#e8e8f0" stroke="none" stroke-width="1" />
<circle cx="90" cy="693" r="0.9" fill="#e8e8f0" stroke="none" stroke-width="1" />
<rect x="91.1" y="710" width="11.4" height="1.8" fill="#fff" stroke="none" stroke-width="1" />
<text x="96.8" y="708.3" font-size="3.2" text-anchor="middle" font-weight="normal" fill="#eee" >20 nm</text>
<text x="3.4" y="578.3" font-size="14.5" text-anchor="start" font-weight="bold" fill="#000" >j</text>
<rect x="269.8" y="573.9" width="184.3" height="149.7" fill="none" stroke="#000" stroke-width="1.5" />
<line x1="269.8" y1="573.82" x2="272.7" y2="573.82" stroke="#000" stroke-width="1.2" />
<text x="264.3" y="576.92" font-size="8.6" text-anchor="end" font-weight="bold" fill="#111" >70</text>
<line x1="269.8" y1="595.16" x2="272.7" y2="595.16" stroke="#000" stroke-width="1.2" />
<text x="264.3" y="598.26" font-size="8.6" text-anchor="end" font-weight="bold" fill="#111" >60</text>
<line x1="269.8" y1="616.5" x2="272.7" y2="616.5" stroke="#000" stroke-width="1.2" />
<text x="264.3" y="619.6" font-size="8.6" text-anchor="end" font-weight="bold" fill="#111" >50</text>
<line x1="269.8" y1="637.84" x2="272.7" y2="637.84" stroke="#000" stroke-width="1.2" />
<text x="264.3" y="640.94" font-size="8.6" text-anchor="end" font-weight="bold" fill="#111" >40</text>
<line x1="269.8" y1="659.18" x2="272.7" y2="659.18" stroke="#000" stroke-width="1.2" />
<text x="264.3" y="662.28" font-size="8.6" text-anchor="end" font-weight="bold" fill="#111" >30</text>
<line x1="269.8" y1="680.52" x2="272.7" y2="680.52" stroke="#000" stroke-width="1.2" />
<text x="264.3" y="683.62" font-size="8.6" text-anchor="end" font-weight="bold" fill="#111" >20</text>
<line x1="269.8" y1="701.86" x2="272.7" y2="701.86" stroke="#000" stroke-width="1.2" />
<text x="264.3" y="704.96" font-size="8.6" text-anchor="end" font-weight="bold" fill="#111" >10</text>
<line x1="269.8" y1="723.2" x2="272.7" y2="723.2" stroke="#000" stroke-width="1.2" />
<text x="264.3" y="726.3" font-size="8.6" text-anchor="end" font-weight="bold" fill="#111" >0</text>
<line x1="278.3" y1="723.6" x2="278.3" y2="720.6" stroke="#000" stroke-width="1.2" />
<text x="278.3" y="734.7" font-size="8.6" text-anchor="middle" font-weight="bold" fill="#111" >0</text>
<line x1="311.7" y1="723.6" x2="311.7" y2="720.6" stroke="#000" stroke-width="1.2" />
<text x="311.7" y="734.7" font-size="8.6" text-anchor="middle" font-weight="bold" fill="#111" >2000</text>
<line x1="345.1" y1="723.6" x2="345.1" y2="720.6" stroke="#000" stroke-width="1.2" />
<text x="345.1" y="734.7" font-size="8.6" text-anchor="middle" font-weight="bold" fill="#111" >4000</text>
<line x1="378.5" y1="723.6" x2="378.5" y2="720.6" stroke="#000" stroke-width="1.2" />
<text x="378.5" y="734.7" font-size="8.6" text-anchor="middle" font-weight="bold" fill="#111" >6000</text>
<line x1="411.9" y1="723.6" x2="411.9" y2="720.6" stroke="#000" stroke-width="1.2" />
<text x="411.9" y="734.7" font-size="8.6" text-anchor="middle" font-weight="bold" fill="#111" >8000</text>
<line x1="445.3" y1="723.6" x2="445.3" y2="720.6" stroke="#000" stroke-width="1.2" />
<text x="445.3" y="734.7" font-size="8.6" text-anchor="middle" font-weight="bold" fill="#111" >10,000</text>
<line x1="295" y1="723.6" x2="295" y2="721.8" stroke="#000" stroke-width="1" />
<line x1="328.4" y1="723.6" x2="328.4" y2="721.8" stroke="#000" stroke-width="1" />
<line x1="361.8" y1="723.6" x2="361.8" y2="721.8" stroke="#000" stroke-width="1" />
<line x1="395.2" y1="723.6" x2="395.2" y2="721.8" stroke="#000" stroke-width="1" />
<line x1="428.6" y1="723.6" x2="428.6" y2="721.8" stroke="#000" stroke-width="1" />
<text x="361.6" y="747.9" font-size="8.7" text-anchor="middle" font-weight="bold" fill="#111" >Time (s)</text>
<text x="242.4" y="647.1" font-size="8.7" text-anchor="middle" font-weight="bold" fill="#111" transform="rotate(-90 242.4 647.1)" >Resistance (kΩ)</text>
<path d="M278.3 588.76 L279.8 593.73 L281.31 597.34 L283.06 600.31 L284.81 602.35 L286.82 603.92 L288.07 604.61 L289.32 605.13 L292.33 605.95 L296.34 606.46 L297.59 600.92 L298.59 597.6 L299.34 595.71 L300.09 594.23 L300.85 593.05 L301.6 592.13 L302.35 591.4 L303.35 590.66 L304.35 590.12 L305.6 589.64 L308.61 589.04 L312.87 588.76 L313.12 589.73 L314.62 600.27 L315.88 606.81 L317.38 612.66 L318.13 614.95 L319.13 617.48 L320.13 619.53 L321.14 621.18 L322.14 622.51 L323.39 623.82 L324.64 624.82 L326.15 625.72 L327.65 626.37 L329.4 626.91 L329.65 626.37 L330.65 616.42 L331.91 607.69 L332.66 603.88 L333.41 600.87 L334.16 598.5 L334.91 596.63 L335.66 595.16 L336.67 593.66 L337.67 592.57 L338.92 591.61 L340.42 590.86 L341.93 590.4 L343.93 590.04 L346.19 589.83 L346.44 591.65 L347.94 608.97 L349.19 619.7 L350.69 629.3 L351.45 633.06 L352.45 637.23 L353.45 640.59 L354.45 643.3 L355.45 645.48 L356.71 647.64 L357.96 649.28 L359.46 650.75 L360.97 651.82 L362.72 652.7 L362.97 651.45 L363.97 634.58 L365.22 619.76 L365.98 613.3 L366.73 608.21 L367.48 604.19 L368.23 601.01 L369.23 597.8 L370.23 595.46 L371.24 593.75 L372.49 592.24 L373.99 591.07 L375.49 590.35 L377.5 589.78 L380.25 589.41 L380.5 591.4 L382.01 616.76 L383.26 632.48 L384.76 646.54 L385.51 652.05 L386.52 658.15 L387.52 663.07 L388.52 667.04 L389.52 670.24 L390.77 673.4 L392.03 675.81 L393.53 677.96 L395.03 679.53 L396.79 680.82 L397.04 680.02 L398.29 651.36 L399.54 632.04 L400.79 619.03 L401.55 613.36 L402.3 608.88 L403.05 605.35 L404.05 601.77 L405.05 599.17 L406.31 596.87 L407.81 595.09 L409.31 593.98 L411.32 593.12 L413.57 592.62 L413.82 595.35 L415.32 625.28 L416.58 643.83 L418.08 660.43 L418.83 666.93 L419.83 674.12 L420.83 679.92 L421.84 684.61 L422.84 688.39 L424.09 692.11 L425.34 694.95 L426.85 697.5 L428.35 699.34 L430.1 700.87 L430.35 699.37 L431.36 671.61 L432.61 647.22 L433.36 636.59 L434.11 628.21 L434.86 621.59 L435.61 616.37 L436.62 611.08 L437.62 607.22 L438.62 604.41 L439.87 601.94 L441.38 600.01 L442.88 598.81 L444.88 597.89 L447.39 597.31" fill="none" stroke="#1c1ce8" stroke-width="2.8" stroke-linejoin="round" />
<text x="273.8" y="585.3" font-size="8.3" text-anchor="start" font-weight="bold" fill="#111" >20 mW/cm<tspan font-size="5.4" dy="-3.2">2</tspan></text>
<line x1="364.9" y1="582" x2="380.7" y2="582" stroke="#1c1ce8" stroke-width="1.2" />
<text x="384.2" y="585.2" font-size="8.7" text-anchor="start" font-weight="bold" fill="#111" >ZIF-8/a-IGZO</text>
<text x="294.1" y="620.6" font-size="8.6" text-anchor="middle" font-weight="bold" fill="#111" >5</text>
<text x="325.3" y="638.8" font-size="8.6" text-anchor="middle" font-weight="bold" fill="#111" >10</text>
<text x="357.9" y="667.5" font-size="8.6" text-anchor="middle" font-weight="bold" fill="#111" >25</text>
<text x="391.2" y="693.1" font-size="8.6" text-anchor="middle" font-weight="bold" fill="#111" >50</text>
<text x="424.5" y="710.6" font-size="8.6" text-anchor="middle" font-weight="bold" fill="#111" >100</text>
<rect x="280.1" y="668.2" width="59.8" height="47.8" fill="#000" stroke="none" stroke-width="1" filter="url(#noiseK)"/>
<rect x="307.2" y="668.2" width="32.7" height="28.1" fill="url(#gradK)" stroke="none" stroke-width="1" />
<text x="332.5" y="676.4" font-size="3.6" text-anchor="middle" font-weight="normal" fill="#fff" >ZIF-8</text>
<text x="331" y="683.4" font-size="3.6" text-anchor="middle" font-weight="normal" fill="#fff" >a-IGZO</text>
<line x1="309.3" y1="676" x2="309.3" y2="687.5" stroke="#ddd" stroke-width="0.4" />
<rect x="310" y="690.6" width="7.2" height="1.3" fill="#fff" stroke="none" stroke-width="1" />
<text x="312" y="694.8" font-size="2.8" text-anchor="middle" font-weight="normal" fill="#eee" >500 nm</text>
<rect x="324.6" y="710.6" width="12.2" height="1.8" fill="#fff" stroke="none" stroke-width="1" />
<text x="330" y="708.4" font-size="3.2" text-anchor="middle" font-weight="normal" fill="#eee" >100 nm</text>
<text x="237.6" y="580.2" font-size="14.5" text-anchor="start" font-weight="bold" fill="#000" >k</text>
<rect x="500.8" y="592.53" width="18.9" height="132.07" fill="#db6b6a" stroke="#7a6a6a" stroke-width="0.5" />
<rect x="519.7" y="702.95" width="18.7" height="21.65" fill="#a7d6fb" stroke="#7a6a6a" stroke-width="0.5" />
<rect x="538.4" y="595.82" width="18.9" height="128.78" fill="#aefad2" stroke="#7a6a6a" stroke-width="0.5" />
<rect x="557.3" y="623.22" width="18.8" height="101.38" fill="#deaef8" stroke="#7a6a6a" stroke-width="0.5" />
<rect x="594.4" y="598.56" width="19.1" height="126.04" fill="#db6b6a" stroke="#7a6a6a" stroke-width="0.5" />
<rect x="613.5" y="722.68" width="18.8" height="1.92" fill="#a7d6fb" stroke="#7a6a6a" stroke-width="0.5" />
<rect x="632.3" y="723.78" width="18.8" height="0.82" fill="#aefad2" stroke="#7a6a6a" stroke-width="0.5" />
<rect x="651.1" y="724.05" width="18.8" height="0.55" fill="#deaef8" stroke="#7a6a6a" stroke-width="0.5" />
<rect x="491.5" y="573.8" width="188" height="150.8" fill="none" stroke="#000" stroke-width="1.5" />
<line x1="491.5" y1="724.6" x2="494.1" y2="724.6" stroke="#000" stroke-width="1.2" />
<text x="486.5" y="727.8" font-size="8.6" text-anchor="end" font-weight="bold" fill="#111" >0</text>
<line x1="491.5" y1="697.2" x2="494.1" y2="697.2" stroke="#000" stroke-width="1.2" />
<text x="486.5" y="700.4" font-size="8.6" text-anchor="end" font-weight="bold" fill="#111" >1</text>
<line x1="491.5" y1="669.8" x2="494.1" y2="669.8" stroke="#000" stroke-width="1.2" />
<text x="486.5" y="673" font-size="8.6" text-anchor="end" font-weight="bold" fill="#111" >2</text>
<line x1="491.5" y1="642.4" x2="494.1" y2="642.4" stroke="#000" stroke-width="1.2" />
<text x="486.5" y="645.6" font-size="8.6" text-anchor="end" font-weight="bold" fill="#111" >3</text>
<line x1="491.5" y1="615" x2="494.1" y2="615" stroke="#000" stroke-width="1.2" />
<text x="486.5" y="618.2" font-size="8.6" text-anchor="end" font-weight="bold" fill="#111" >4</text>
<line x1="491.5" y1="587.6" x2="494.1" y2="587.6" stroke="#000" stroke-width="1.2" />
<text x="486.5" y="590.8" font-size="8.6" text-anchor="end" font-weight="bold" fill="#111" >5</text>
<line x1="491.5" y1="710.9" x2="493.1" y2="710.9" stroke="#000" stroke-width="1" />
<line x1="491.5" y1="683.5" x2="493.1" y2="683.5" stroke="#000" stroke-width="1" />
<line x1="491.5" y1="656.1" x2="493.1" y2="656.1" stroke="#000" stroke-width="1" />
<line x1="491.5" y1="628.7" x2="493.1" y2="628.7" stroke="#000" stroke-width="1" />
<line x1="491.5" y1="601.3" x2="493.1" y2="601.3" stroke="#000" stroke-width="1" />
<line x1="585.2" y1="724.6" x2="585.2" y2="722.4" stroke="#000" stroke-width="1" />
<text x="538.3" y="737.8" font-size="8.7" text-anchor="middle" font-weight="bold" fill="#111" >a-IGZO</text>
<text x="632.3" y="737.8" font-size="8.7" text-anchor="middle" font-weight="bold" fill="#111" >ZIF-8/a-IGZO</text>
<text x="473.2" y="650.7" font-size="8.7" text-anchor="middle" font-weight="bold" fill="#111" transform="rotate(-90 473.2 650.7)" >Gas response (<tspan font-style="italic">R</tspan>)</text>
<rect x="616.2" y="579.2" width="16.8" height="9" fill="#db6b6a" stroke="#777" stroke-width="0.5" />
<text x="636.3" y="585.7" font-size="5.8" text-anchor="start" font-weight="bold" fill="#111" >H<tspan font-size="3.7" dy="1.3">2</tspan><tspan dy="-1.3"> (100 ppm)</tspan></text>
<rect x="616.2" y="598" width="16.8" height="9" fill="#a7d6fb" stroke="#777" stroke-width="0.5" />
<text x="636.3" y="604.5" font-size="5.8" text-anchor="start" font-weight="bold" fill="#111" >CO (100 ppm)</text>
<rect x="616.2" y="614.8" width="16.8" height="9" fill="#d9f2a4" stroke="#777" stroke-width="0.5" />
<text x="636.3" y="621.3" font-size="5.8" text-anchor="start" font-weight="bold" fill="#111" >O<tspan font-size="3.7" dy="1.3">3</tspan><tspan dy="-1.3"> (5 ppm)</tspan></text>
<rect x="616.2" y="632.9" width="16.8" height="9" fill="#deaef8" stroke="#777" stroke-width="0.5" />
<text x="636.3" y="639.4" font-size="5.8" text-anchor="start" font-weight="bold" fill="#111" >NO<tspan font-size="3.7" dy="1.3">2</tspan><tspan dy="-1.3"> (5 ppm)</tspan></text>
<text x="464.9" y="581" font-size="14.5" text-anchor="start" font-weight="bold" fill="#000" >l</text>
<rect x="0" y="0" width="685" height="1.1" fill="#1c1111" stroke="none" stroke-width="1" />
<rect x="0" y="0" width="1.6" height="753" fill="#1c1111" stroke="none" stroke-width="1" />
<rect x="683.1" y="0" width="1.9" height="753" fill="#1c1111" stroke="none" stroke-width="1" />
<rect x="0" y="751.1" width="685" height="1.9" fill="#1c1111" stroke="none" stroke-width="1" /></svg>
</body></html>
